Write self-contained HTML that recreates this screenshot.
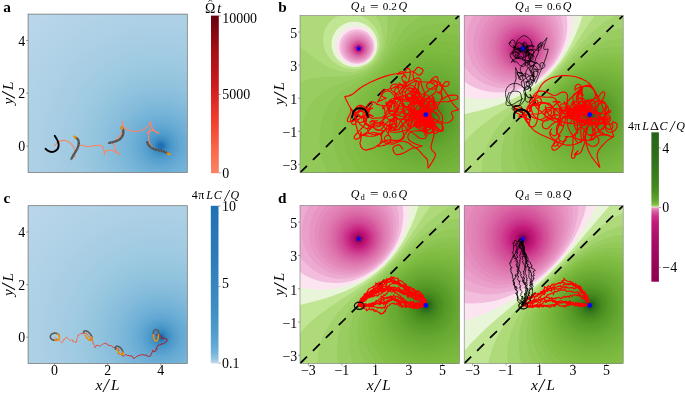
<!DOCTYPE html>
<html><head><meta charset="utf-8"><title>figure</title><style>html,body{margin:0;padding:0;background:#fff}svg{display:block}</style></head><body>
<svg width="685" height="393" viewBox="0 0 685 393">
<defs>
<radialGradient id="gb" gradientUnits="userSpaceOnUse" cx="0" cy="0" r="193.69"><stop offset="0.0000" stop-color="#2070b4"/><stop offset="0.0137" stop-color="#2070b4"/><stop offset="0.0153" stop-color="#2474b7"/><stop offset="0.0171" stop-color="#2777b8"/><stop offset="0.0191" stop-color="#2b7bba"/><stop offset="0.0213" stop-color="#2e7ebc"/><stop offset="0.0237" stop-color="#3181bd"/><stop offset="0.0265" stop-color="#3484bf"/><stop offset="0.0296" stop-color="#3787c0"/><stop offset="0.0330" stop-color="#3a8ac2"/><stop offset="0.0369" stop-color="#3d8dc4"/><stop offset="0.0412" stop-color="#4090c5"/><stop offset="0.0459" stop-color="#4493c7"/><stop offset="0.0513" stop-color="#4896c8"/><stop offset="0.0573" stop-color="#4b98ca"/><stop offset="0.0639" stop-color="#4f9bcb"/><stop offset="0.0713" stop-color="#539ecd"/><stop offset="0.0796" stop-color="#57a0ce"/><stop offset="0.0889" stop-color="#5ba3d0"/><stop offset="0.0992" stop-color="#60a7d2"/><stop offset="0.1108" stop-color="#64a9d3"/><stop offset="0.1237" stop-color="#68acd5"/><stop offset="0.1380" stop-color="#6caed6"/><stop offset="0.1541" stop-color="#71b1d7"/><stop offset="0.1720" stop-color="#75b4d8"/><stop offset="0.1920" stop-color="#7ab6d9"/><stop offset="0.2143" stop-color="#7fb9da"/><stop offset="0.2393" stop-color="#84bcdb"/><stop offset="0.2671" stop-color="#89bedc"/><stop offset="0.2982" stop-color="#8dc1dd"/><stop offset="0.3328" stop-color="#92c4de"/><stop offset="0.3715" stop-color="#97c6df"/><stop offset="0.4147" stop-color="#9cc9e1"/><stop offset="0.4630" stop-color="#a0cbe2"/><stop offset="0.5168" stop-color="#a4cce3"/><stop offset="0.5769" stop-color="#a8cee4"/><stop offset="0.6440" stop-color="#add0e6"/><stop offset="0.7189" stop-color="#b0d2e7"/><stop offset="0.8025" stop-color="#b4d3e9"/><stop offset="0.8958" stop-color="#b8d5ea"/><stop offset="1.0000" stop-color="#bcd7eb"/></radialGradient>
<linearGradient id="gr" x1="0" y1="0" x2="0" y2="1"><stop offset="0.0000" stop-color="#67000d"/><stop offset="0.0500" stop-color="#75030f"/><stop offset="0.1000" stop-color="#820711"/><stop offset="0.1500" stop-color="#920a13"/><stop offset="0.2000" stop-color="#9f0e14"/><stop offset="0.2500" stop-color="#ab1016"/><stop offset="0.3000" stop-color="#b31218"/><stop offset="0.3500" stop-color="#bc141a"/><stop offset="0.4000" stop-color="#c5171c"/><stop offset="0.4500" stop-color="#ce1a1e"/><stop offset="0.5000" stop-color="#d72322"/><stop offset="0.5500" stop-color="#de2b25"/><stop offset="0.6000" stop-color="#e83429"/><stop offset="0.6500" stop-color="#ef3c2c"/><stop offset="0.7000" stop-color="#f24633"/><stop offset="0.7500" stop-color="#f5523a"/><stop offset="0.8000" stop-color="#f75c41"/><stop offset="0.8500" stop-color="#fa6849"/><stop offset="0.9000" stop-color="#fb7151"/><stop offset="0.9500" stop-color="#fb7b5b"/><stop offset="1.0000" stop-color="#fc8464"/></linearGradient>
<linearGradient id="gbl" x1="0" y1="0" x2="0" y2="1"><stop offset="0.0000" stop-color="#2070b4"/><stop offset="0.0250" stop-color="#2171b5"/><stop offset="0.0500" stop-color="#2272b6"/><stop offset="0.0750" stop-color="#2373b6"/><stop offset="0.1000" stop-color="#2373b6"/><stop offset="0.1250" stop-color="#2474b7"/><stop offset="0.1500" stop-color="#2575b7"/><stop offset="0.1750" stop-color="#2676b8"/><stop offset="0.2000" stop-color="#2777b8"/><stop offset="0.2250" stop-color="#2979b9"/><stop offset="0.2500" stop-color="#2979b9"/><stop offset="0.2750" stop-color="#2a7ab9"/><stop offset="0.3000" stop-color="#2b7bba"/><stop offset="0.3250" stop-color="#2c7cba"/><stop offset="0.3500" stop-color="#2d7dbb"/><stop offset="0.3750" stop-color="#2e7ebc"/><stop offset="0.4000" stop-color="#3080bd"/><stop offset="0.4250" stop-color="#3181bd"/><stop offset="0.4500" stop-color="#3282be"/><stop offset="0.4750" stop-color="#3383be"/><stop offset="0.5000" stop-color="#3484bf"/><stop offset="0.5250" stop-color="#3686c0"/><stop offset="0.5500" stop-color="#3787c0"/><stop offset="0.5750" stop-color="#3989c1"/><stop offset="0.6000" stop-color="#3b8bc2"/><stop offset="0.6250" stop-color="#3c8cc3"/><stop offset="0.6500" stop-color="#3e8ec4"/><stop offset="0.6750" stop-color="#4090c5"/><stop offset="0.7000" stop-color="#4292c6"/><stop offset="0.7250" stop-color="#4695c8"/><stop offset="0.7500" stop-color="#4997c9"/><stop offset="0.7750" stop-color="#4d99ca"/><stop offset="0.8000" stop-color="#519ccc"/><stop offset="0.8250" stop-color="#56a0ce"/><stop offset="0.8500" stop-color="#5ba3d0"/><stop offset="0.8750" stop-color="#60a7d2"/><stop offset="0.9000" stop-color="#68acd5"/><stop offset="0.9250" stop-color="#72b2d8"/><stop offset="0.9500" stop-color="#82bbdb"/><stop offset="0.9750" stop-color="#9ac8e0"/><stop offset="1.0000" stop-color="#c6dbef"/></linearGradient>
<linearGradient id="gp" x1="0" y1="0" x2="0" y2="1"><stop offset="0.0000" stop-color="#276419"/><stop offset="0.0200" stop-color="#276419"/><stop offset="0.0400" stop-color="#286619"/><stop offset="0.0600" stop-color="#2a681a"/><stop offset="0.0800" stop-color="#2a681a"/><stop offset="0.1000" stop-color="#2b691a"/><stop offset="0.1200" stop-color="#2d6b1a"/><stop offset="0.1400" stop-color="#2e6d1b"/><stop offset="0.1600" stop-color="#306f1b"/><stop offset="0.1800" stop-color="#31711b"/><stop offset="0.2000" stop-color="#33721c"/><stop offset="0.2200" stop-color="#34741c"/><stop offset="0.2400" stop-color="#36761c"/><stop offset="0.2600" stop-color="#37781c"/><stop offset="0.2800" stop-color="#3a7b1d"/><stop offset="0.3000" stop-color="#3c7d1d"/><stop offset="0.3200" stop-color="#3f811e"/><stop offset="0.3400" stop-color="#42841f"/><stop offset="0.3600" stop-color="#45881f"/><stop offset="0.3800" stop-color="#488c20"/><stop offset="0.4000" stop-color="#4c9121"/><stop offset="0.4200" stop-color="#549825"/><stop offset="0.4400" stop-color="#5c9e2a"/><stop offset="0.4600" stop-color="#69aa33"/><stop offset="0.4800" stop-color="#7dba40"/><stop offset="0.4810" stop-color="#7fbc41"/><stop offset="0.4820" stop-color="#81bd44"/><stop offset="0.4830" stop-color="#83bf46"/><stop offset="0.4840" stop-color="#86c049"/><stop offset="0.4850" stop-color="#88c24c"/><stop offset="0.4860" stop-color="#8ac34f"/><stop offset="0.4870" stop-color="#8cc551"/><stop offset="0.4880" stop-color="#91c857"/><stop offset="0.4890" stop-color="#93c959"/><stop offset="0.4900" stop-color="#95cb5c"/><stop offset="0.4910" stop-color="#9acd61"/><stop offset="0.4920" stop-color="#9ed067"/><stop offset="0.4930" stop-color="#a3d36c"/><stop offset="0.4940" stop-color="#a9d874"/><stop offset="0.4950" stop-color="#aeda7a"/><stop offset="0.4960" stop-color="#b7e085"/><stop offset="0.4970" stop-color="#c0e593"/><stop offset="0.4980" stop-color="#cbe9a4"/><stop offset="0.4990" stop-color="#e9f5d8"/><stop offset="0.5000" stop-color="#f7f7f6"/><stop offset="0.5010" stop-color="#fce5f1"/><stop offset="0.5020" stop-color="#f6c7e3"/><stop offset="0.5030" stop-color="#f3bdde"/><stop offset="0.5040" stop-color="#f1b5d9"/><stop offset="0.5050" stop-color="#eeabd2"/><stop offset="0.5060" stop-color="#eca6cf"/><stop offset="0.5070" stop-color="#ea9fca"/><stop offset="0.5080" stop-color="#e89ac6"/><stop offset="0.5090" stop-color="#e795c3"/><stop offset="0.5100" stop-color="#e590bf"/><stop offset="0.5110" stop-color="#e58dbe"/><stop offset="0.5120" stop-color="#e48bbc"/><stop offset="0.5130" stop-color="#e286b8"/><stop offset="0.5140" stop-color="#e283b7"/><stop offset="0.5150" stop-color="#e181b5"/><stop offset="0.5160" stop-color="#e07eb3"/><stop offset="0.5170" stop-color="#df7cb1"/><stop offset="0.5180" stop-color="#df79b0"/><stop offset="0.5190" stop-color="#de77ae"/><stop offset="0.5200" stop-color="#dd73ac"/><stop offset="0.5400" stop-color="#d34f99"/><stop offset="0.5600" stop-color="#cc368b"/><stop offset="0.5800" stop-color="#c82884"/><stop offset="0.6000" stop-color="#c41a7c"/><stop offset="0.6200" stop-color="#bd1777"/><stop offset="0.6400" stop-color="#b91574"/><stop offset="0.6600" stop-color="#b51370"/><stop offset="0.6800" stop-color="#b1116d"/><stop offset="0.7000" stop-color="#ac0f6a"/><stop offset="0.7200" stop-color="#aa0e68"/><stop offset="0.7400" stop-color="#a60c65"/><stop offset="0.7600" stop-color="#a40b63"/><stop offset="0.7800" stop-color="#a10a61"/><stop offset="0.8000" stop-color="#9f095f"/><stop offset="0.8200" stop-color="#9d085e"/><stop offset="0.8400" stop-color="#9b075c"/><stop offset="0.8600" stop-color="#99065a"/><stop offset="0.8800" stop-color="#970559"/><stop offset="0.9000" stop-color="#940457"/><stop offset="0.9200" stop-color="#920355"/><stop offset="0.9400" stop-color="#920355"/><stop offset="0.9600" stop-color="#900254"/><stop offset="0.9800" stop-color="#8e0152"/><stop offset="1.0000" stop-color="#8e0152"/></linearGradient>
<clipPath id="ca"><rect x="28.1" y="14.1" width="159.2" height="158.3"/></clipPath>
<clipPath id="cc"><rect x="28.1" y="205.7" width="159.2" height="157.8"/></clipPath>
<clipPath id="cb1"><rect x="300.0" y="15.4" width="159.3" height="157.3"/></clipPath>
<clipPath id="cb2"><rect x="464.2" y="15.4" width="159.0" height="157.3"/></clipPath>
<clipPath id="cd1"><rect x="300.0" y="205.6" width="159.3" height="158.0"/></clipPath>
<clipPath id="cd2"><rect x="464.2" y="205.6" width="159.0" height="158.0"/></clipPath>
</defs>
<rect width="685" height="393" fill="#fff"/>
<g clip-path="url(#ca)"><rect x="-132.7" y="-131.9" width="159.2" height="158.3" fill="url(#gb)" transform="translate(160.77,146.02)"/></g>
<g clip-path="url(#cc)"><rect x="-132.7" y="-131.5" width="159.2" height="157.8" fill="url(#gb)" transform="translate(160.77,337.20)"/></g>
<g clip-path="url(#cb1)" shape-rendering="geometricPrecision">
<rect x="300.0" y="15.4" width="159.3" height="157.3" fill="#e9f5d8"/>
<path fill="#c0e593" d="M300.0,15.4 459.3,15.4 459.3,172.7 300.0,172.7ZM349.1,22.2 345.1,23.5 341.1,25.7 337.9,28.4 336.1,30.4 334.8,32.4 332.8,36.4 332.2,38.4 331.6,41.4 331.5,43.5 331.6,46.5 332.4,50.5 334.1,54.5 335.2,56.5 336.7,58.5 339.7,61.5 343.1,63.9 347.1,65.7 349.1,66.3 352.1,66.9 354.1,67.0 357.1,66.9 361.1,66.1 365.1,64.6 367.1,63.4 369.1,62.0 372.1,59.0 374.6,55.5 376.4,51.5 377.2,47.5 377.4,43.5 377.0,40.4 376.6,38.4 375.0,34.4 373.8,32.4 372.4,30.4 369.1,27.1 366.1,24.9 362.1,23.0 358.1,22.0 356.1,21.7 353.1,21.7Z"/>
<path fill="#aeda7a" d="M300.0,15.4 339.0,15.4 335.1,17.4 333.1,18.8 331.1,20.5 329.3,22.4 327.7,24.4 325.4,28.4 324.6,30.4 323.7,33.4 323.1,37.4 323.2,42.5 323.9,46.5 325.6,51.5 327.8,55.5 331.0,59.5 334.2,62.5 338.7,65.5 343.1,67.5 348.1,68.8 353.1,69.2 358.1,68.7 361.1,68.0 363.1,67.2 367.1,65.2 370.8,62.5 373.7,59.5 376.4,55.5 377.4,53.5 378.5,50.5 379.4,46.5 379.6,41.4 378.9,36.4 377.2,31.4 375.1,27.5 372.1,23.5 369.1,20.6 365.1,17.7 360.5,15.4 459.3,15.4 459.3,172.7 300.0,172.7Z"/>
<path fill="#a3d36c" d="M375.7,15.4 459.3,15.4 459.3,172.7 300.0,172.7 300.0,47.2 304.0,50.1 314.7,58.5 320.5,62.5 327.4,66.5 331.1,68.2 334.5,69.5 338.1,70.6 342.1,71.4 346.1,71.9 349.1,72.1 353.1,71.9 356.1,71.4 359.1,70.7 363.1,69.3 366.1,67.9 369.8,65.5 372.2,63.5 375.1,60.5 377.3,57.5 379.0,54.5 380.3,51.5 381.6,47.5 382.3,43.5 382.5,39.4 382.4,35.4 381.8,31.4 380.8,27.4 379.5,23.4 377.8,19.4Z"/>
<path fill="#9acd61" d="M387.5,15.4 459.3,15.4 459.3,172.7 300.0,172.7 300.0,82.9 304.0,80.9 307.9,79.5 312.0,78.4 316.0,77.7 323.0,77.1 343.1,76.5 348.1,76.0 353.1,75.1 358.1,73.7 363.1,71.8 367.1,69.7 371.1,66.9 375.1,63.3 377.1,61.0 379.1,58.5 382.0,53.5 384.4,47.5 385.9,41.4 386.8,35.4 387.3,28.4Z"/>
<path fill="#93c959" d="M400.6,16.4 401.2,15.4 459.3,15.4 459.3,172.7 304.5,172.7 302.1,163.7 300.5,154.7 300.0,148.7 300.1,136.6 301.2,128.6 303.1,120.6 305.7,113.6 307.6,109.6 309.4,106.6 312.9,101.6 316.4,97.6 320.9,93.5 325.1,90.5 330.1,87.8 335.0,85.5 354.1,78.7 362.1,75.2 366.1,73.0 369.1,71.1 373.1,68.0 375.9,65.5 378.7,62.5 381.8,58.5 383.7,55.5 386.0,51.5 389.5,43.5 394.2,30.2 396.2,25.1 398.2,20.7Z"/>
<path fill="#8cc551" d="M420.3,16.4 422.4,15.4 459.3,15.4 459.3,172.7 326.9,172.7 323.8,164.7 322.6,160.7 321.3,155.7 320.5,151.7 319.8,146.7 319.5,141.6 319.4,137.6 319.7,132.6 320.1,128.6 320.8,124.6 321.8,120.6 324.2,113.6 325.6,110.6 327.7,106.6 330.4,102.6 332.8,99.6 336.7,95.6 340.2,92.5 347.2,87.5 362.1,78.8 367.1,75.6 372.1,71.9 377.1,67.5 381.8,62.5 385.7,57.5 389.6,51.5 398.2,37.2 401.2,32.9 404.2,29.1 407.2,25.9 411.2,22.3 415.2,19.4Z"/>
<path fill="#88c24c" d="M441.4,23.4 446.3,23.3 450.3,23.4 454.3,23.8 459.3,24.6 459.3,172.7 343.9,172.7 341.7,168.7 339.4,163.7 337.8,159.7 336.1,154.7 334.8,149.7 333.9,144.6 333.4,140.6 333.1,135.6 333.2,130.6 333.6,126.6 334.4,121.6 335.4,117.6 336.7,113.6 338.4,109.6 340.4,105.6 342.3,102.6 344.4,99.6 346.9,96.6 351.8,91.5 357.7,86.5 372.1,75.3 379.6,68.5 383.5,64.5 386.9,60.5 396.2,48.8 400.2,44.0 404.2,39.7 409.2,35.3 412.2,33.1 416.2,30.6 420.2,28.6 424.2,26.9 428.2,25.6 432.2,24.6 437.3,23.8Z"/>
<path fill="#83bf46" d="M438.8,33.4 444.3,33.4 449.3,33.8 454.3,34.5 459.3,35.6 459.3,172.7 357.8,172.7 355.0,168.7 352.6,164.7 350.5,160.7 348.2,155.7 346.8,151.7 345.3,146.7 344.3,141.6 343.6,136.6 343.3,131.6 343.4,127.6 343.8,123.6 344.6,118.6 345.6,114.6 346.9,110.6 348.7,106.6 350.8,102.6 352.6,99.6 355.6,95.6 360.9,89.5 365.0,85.5 380.2,71.6 385.2,66.5 398.2,52.7 402.2,48.9 406.2,45.5 409.2,43.3 413.2,40.8 417.2,38.7 421.2,37.0 425.2,35.7 429.2,34.7 434.3,33.8Z"/>
<path fill="#7fbc41" d="M433.3,41.4 439.3,41.2 446.3,41.6 453.3,42.8 459.3,44.5 459.3,172.7 369.7,172.7 366.2,168.7 363.2,164.7 360.6,160.7 358.4,156.7 356.5,152.7 354.6,147.7 353.4,143.6 352.2,138.6 351.5,133.6 351.3,129.6 351.3,124.6 351.7,120.6 352.6,115.6 353.7,111.6 355.1,107.6 356.9,103.6 359.0,99.6 361.6,95.6 364.7,91.5 369.1,86.5 373.9,81.5 392.2,63.5 397.2,58.8 401.2,55.3 404.2,53.0 408.2,50.2 412.2,47.8 416.2,45.9 420.2,44.3 424.2,43.1 429.2,42.0Z"/>
<path fill="#7dba40" d="M426.0,48.5 430.2,47.8 434.3,47.5 438.3,47.5 442.3,47.7 446.3,48.3 451.3,49.3 455.3,50.5 459.3,52.0 459.3,172.7 380.5,172.7 377.1,169.6 373.4,165.7 370.9,162.7 368.0,158.7 365.5,154.7 363.4,150.7 361.7,146.7 360.3,142.6 359.0,137.6 358.2,133.6 357.7,128.6 357.6,124.6 357.8,120.6 358.5,115.6 359.4,111.6 360.7,107.6 362.7,102.6 364.8,98.6 367.3,94.6 371.0,89.5 375.2,84.5 379.9,79.5 387.2,72.2 393.2,66.6 401.2,59.9 405.2,57.1 409.2,54.7 413.2,52.6 417.2,50.9 421.2,49.6Z"/>
<path fill="#79b73d" d="M425.3,53.5 429.2,52.9 433.3,52.7 438.3,52.8 442.3,53.2 447.3,54.1 451.3,55.2 455.3,56.6 459.3,58.3 459.3,172.7 391.0,172.7 387.2,170.0 383.2,166.8 380.2,164.0 377.1,160.7 373.9,156.7 371.3,152.7 369.0,148.7 367.2,144.6 365.7,140.6 364.3,135.6 363.5,131.6 363.0,126.6 362.9,121.6 363.2,117.6 363.8,113.6 364.8,109.6 366.4,104.6 368.2,100.6 370.3,96.6 373.5,91.5 376.6,87.5 380.8,82.5 385.6,77.5 390.2,73.0 395.2,68.6 399.2,65.4 403.2,62.6 407.2,60.1 411.2,58.0 416.2,55.9 421.2,54.3Z"/>
<path fill="#77b53c" d="M426.4,57.5 431.2,57.1 435.3,57.1 439.3,57.4 443.3,58.1 447.3,59.0 451.3,60.3 455.3,61.9 459.3,63.9 459.3,168.8 455.3,171.0 451.6,172.7 402.2,172.7 400.2,171.8 394.2,168.5 389.2,165.0 384.2,160.6 379.6,155.7 376.0,150.7 372.6,144.6 370.1,138.6 368.5,132.6 367.6,126.6 367.4,120.6 367.7,115.6 368.9,109.6 370.8,103.6 373.0,98.6 375.9,93.5 379.4,88.5 384.4,82.5 390.2,76.6 396.2,71.3 402.2,66.8 408.2,63.3 414.2,60.6 420.2,58.6Z"/>
<path fill="#75b43b" d="M423.6,61.5 428.2,60.9 433.3,60.8 437.3,61.1 442.3,61.9 447.3,63.3 451.3,64.7 455.3,66.6 459.3,68.9 459.3,163.3 453.3,166.8 447.3,169.4 441.3,171.3 434.1,172.7 419.3,172.7 412.2,171.3 406.2,169.4 401.2,167.2 396.2,164.5 392.2,161.7 388.2,158.3 384.2,154.3 380.5,149.7 378.0,145.6 375.4,140.6 373.5,135.6 372.2,130.6 371.4,125.6 371.2,120.6 371.4,115.6 372.2,110.6 373.5,105.6 375.5,100.6 378.0,95.6 380.5,91.5 384.2,86.5 388.6,81.5 393.2,77.1 398.2,73.0 403.2,69.5 408.2,66.6 413.2,64.3 418.2,62.7Z"/>
<path fill="#73b239" d="M424.6,64.5 429.2,64.1 434.3,64.2 439.3,64.9 443.3,65.8 447.3,67.0 451.3,68.7 455.3,70.8 459.3,73.3 459.3,158.4 455.9,160.7 452.3,162.8 448.3,164.7 444.3,166.3 440.3,167.5 436.3,168.4 432.2,168.9 428.2,169.2 423.2,169.1 418.2,168.6 413.2,167.5 408.2,166.0 403.2,163.9 399.2,161.8 395.2,159.1 391.2,155.9 387.8,152.7 384.4,148.7 381.7,144.6 379.4,140.6 377.7,136.6 376.1,131.6 375.0,126.6 374.5,121.6 374.6,116.6 375.2,111.6 376.3,106.6 377.7,102.6 379.9,97.6 382.2,93.5 384.9,89.5 388.2,85.5 391.9,81.5 396.2,77.6 400.2,74.5 405.2,71.2 409.2,69.1 414.2,67.0 419.2,65.5Z"/>
<path fill="#6faf37" d="M423.1,67.5 427.2,67.1 432.2,67.1 437.3,67.6 442.3,68.7 446.3,70.0 451.3,72.2 455.3,74.6 459.3,77.5 459.3,153.9 456.3,156.2 452.3,158.8 449.3,160.4 445.3,162.2 442.3,163.3 438.3,164.4 434.3,165.2 430.2,165.6 425.2,165.7 420.2,165.4 415.2,164.5 411.2,163.4 406.2,161.5 402.2,159.6 398.2,157.1 394.2,154.1 391.2,151.3 387.8,147.7 384.9,143.6 382.5,139.6 380.7,135.6 379.0,130.6 377.9,125.6 377.5,121.6 377.5,116.6 377.8,112.6 378.8,107.6 380.1,103.6 381.7,99.6 383.8,95.6 386.3,91.5 389.3,87.5 392.9,83.5 397.2,79.6 401.2,76.5 405.2,73.9 409.2,71.8 414.2,69.7 419.2,68.2Z"/>
<path fill="#6bac34" d="M425.9,71.5 430.2,71.4 435.3,71.9 440.3,73.0 444.3,74.3 448.3,76.1 452.3,78.4 456.3,81.4 459.3,84.1 459.3,146.8 456.2,149.7 452.3,152.6 448.3,155.1 444.3,157.0 440.3,158.5 436.3,159.5 432.2,160.2 427.2,160.6 422.2,160.4 418.2,159.9 414.2,159.0 410.2,157.7 406.2,155.9 402.2,153.7 399.2,151.6 395.6,148.7 392.2,145.1 389.5,141.6 387.5,138.6 385.5,134.6 383.9,130.6 382.8,126.6 382.2,122.6 381.9,118.6 382.0,114.6 382.7,109.6 383.7,105.6 385.1,101.6 387.0,97.6 389.4,93.5 392.2,89.7 395.0,86.5 398.2,83.4 401.8,80.5 405.2,78.2 409.2,76.0 413.2,74.3 417.2,73.0 421.2,72.1Z"/>
<path fill="#69aa33" d="M425.8,75.5 430.2,75.5 435.3,76.1 439.3,77.1 444.3,79.0 448.3,81.1 452.3,83.9 456.3,87.5 459.3,91.0 459.3,139.5 456.3,143.1 452.4,146.7 448.3,149.6 444.3,151.8 440.3,153.5 435.3,155.0 430.2,155.7 426.2,155.9 422.2,155.8 418.2,155.2 414.2,154.2 411.2,153.1 407.2,151.3 404.2,149.6 401.2,147.5 397.9,144.6 395.2,141.7 392.8,138.6 390.9,135.6 389.0,131.6 387.8,128.6 386.8,124.6 386.2,120.6 386.0,116.6 386.2,112.6 386.9,108.6 387.7,105.6 389.1,101.6 390.5,98.6 392.9,94.6 395.2,91.5 397.8,88.5 401.1,85.5 404.2,83.1 407.2,81.2 411.2,79.1 414.2,77.9 418.2,76.6 422.2,75.9Z"/>
<path fill="#66a731" d="M422.2,79.5 425.2,79.2 428.2,79.2 433.3,79.7 436.3,80.3 439.3,81.2 444.3,83.4 449.1,86.5 453.3,90.3 456.8,94.6 459.3,98.8 459.3,131.5 458.7,132.6 456.3,136.4 453.7,139.6 450.6,142.6 447.3,145.2 443.3,147.6 439.3,149.4 434.3,150.9 430.2,151.5 426.2,151.8 423.2,151.6 419.2,151.1 416.2,150.4 412.2,149.1 409.2,147.7 406.2,146.0 403.2,143.8 400.2,141.2 397.9,138.6 395.6,135.6 393.8,132.6 392.4,129.6 391.3,126.6 390.5,123.6 389.9,119.6 389.7,116.6 389.9,112.6 390.6,108.6 391.4,105.6 392.5,102.6 393.9,99.6 395.7,96.6 397.9,93.5 400.5,90.5 403.2,88.1 406.2,85.8 409.2,83.9 412.2,82.4 415.2,81.2 419.2,80.1Z"/>
<path fill="#62a32e" d="M419.0,83.5 422.2,82.9 425.2,82.6 428.2,82.6 431.2,82.9 434.3,83.4 437.3,84.3 440.3,85.5 443.3,87.0 446.3,89.0 448.3,90.6 450.3,92.5 452.9,95.6 454.9,98.6 456.5,101.6 457.7,104.6 458.6,107.6 459.3,112.3 459.3,117.8 458.9,120.6 458.3,123.6 457.3,126.6 456.0,129.6 454.3,132.6 452.3,135.4 450.3,137.7 448.2,139.6 445.3,142.0 442.3,143.8 439.3,145.3 436.3,146.4 433.3,147.2 429.2,147.8 426.2,148.0 423.2,147.9 420.2,147.5 417.2,146.8 414.2,145.8 411.2,144.5 408.2,142.8 405.2,140.7 403.2,138.9 401.0,136.6 399.2,134.3 397.4,131.6 395.9,128.6 394.7,125.6 393.9,122.6 393.4,119.6 393.2,116.6 393.3,113.6 393.6,110.6 394.3,107.6 395.2,104.6 396.5,101.6 398.2,98.6 400.2,95.7 402.2,93.4 404.2,91.4 407.2,89.0 410.2,87.0 413.2,85.5 416.2,84.3Z"/>
<path fill="#5ea02c" d="M419.5,86.5 422.2,86.0 425.2,85.7 428.2,85.7 431.2,86.1 434.3,86.7 437.3,87.7 440.3,89.1 442.3,90.2 445.3,92.4 447.3,94.2 449.3,96.4 450.9,98.6 452.7,101.6 453.7,103.6 455.3,108.6 456.0,113.6 455.9,116.6 455.6,119.6 455.0,122.6 454.0,125.6 452.6,128.6 451.4,130.6 449.3,133.6 447.5,135.6 445.3,137.6 443.3,139.2 441.3,140.4 438.3,142.0 435.3,143.1 432.2,143.9 427.2,144.6 424.2,144.5 421.2,144.2 418.2,143.6 415.2,142.6 412.2,141.3 410.2,140.1 408.0,138.6 405.6,136.6 403.7,134.6 402.0,132.6 400.7,130.6 399.0,127.6 397.8,124.6 397.0,121.6 396.4,116.6 396.4,113.6 396.8,110.6 397.4,107.6 398.5,104.6 399.9,101.6 401.1,99.6 403.2,96.7 405.2,94.6 409.2,91.2 411.2,89.9 414.2,88.3 417.2,87.2Z"/>
<path fill="#5a9d29" d="M419.0,89.5 421.2,89.0 424.2,88.6 429.2,88.7 431.2,89.0 434.3,89.8 437.3,90.9 439.3,91.9 443.3,94.6 445.4,96.6 447.2,98.6 449.8,102.6 450.8,104.6 451.8,107.6 452.8,112.6 452.8,117.6 451.7,122.6 450.6,125.6 449.6,127.6 446.9,131.6 445.1,133.6 442.8,135.6 440.3,137.5 438.3,138.6 436.3,139.5 433.3,140.5 428.2,141.4 423.2,141.4 418.2,140.4 415.2,139.3 413.2,138.4 409.1,135.6 406.8,133.6 405.0,131.6 402.4,127.6 401.4,125.6 400.3,122.6 399.8,120.6 399.3,117.6 399.4,112.6 399.6,110.6 400.4,107.6 401.5,104.6 402.5,102.6 405.2,98.6 407.2,96.4 409.3,94.6 411.2,93.1 414.2,91.4 417.2,90.1Z"/>
<path fill="#589b28" d="M421.7,91.5 426.2,91.1 428.2,91.2 431.2,91.7 435.3,92.9 439.3,95.0 441.3,96.5 443.3,98.3 446.0,101.6 448.2,105.6 448.9,107.6 449.7,110.6 450.0,112.6 450.1,115.6 449.6,119.6 448.8,122.6 448.0,124.6 445.7,128.6 443.2,131.6 441.3,133.3 439.3,134.8 435.3,136.9 432.2,137.9 430.2,138.4 426.2,138.8 424.2,138.7 421.2,138.3 419.2,137.9 416.2,136.8 412.2,134.6 408.7,131.6 406.9,129.6 405.5,127.6 403.5,123.6 402.3,119.6 401.9,115.6 401.9,113.6 402.3,110.6 402.8,108.6 403.9,105.6 406.1,101.6 409.2,98.0 411.2,96.2 413.2,94.8 417.2,92.8Z"/>
<path fill="#549825" d="M424.7,93.5 429.2,93.7 433.3,94.7 437.3,96.6 440.3,98.8 443.3,102.0 445.5,105.6 446.9,109.6 447.6,113.6 447.4,117.6 446.5,121.6 444.7,125.6 442.3,128.9 439.3,131.7 437.3,133.1 435.3,134.2 431.2,135.6 427.2,136.3 424.2,136.3 422.2,136.0 418.2,134.9 414.2,133.0 411.2,130.7 408.4,127.6 406.6,124.6 405.0,120.6 404.3,116.6 404.3,113.6 404.5,111.6 405.6,107.6 407.6,103.6 409.9,100.6 413.2,97.6 416.2,95.8 420.2,94.3 422.2,93.8Z"/>
<path fill="#509423" d="M420.0,96.6 423.2,95.8 427.2,95.7 431.2,96.4 434.3,97.5 437.3,99.2 440.3,101.9 441.7,103.6 442.9,105.6 444.3,108.6 444.9,110.6 445.2,112.6 445.3,116.6 444.7,119.6 444.1,121.6 443.2,123.6 441.3,126.6 438.3,129.6 435.3,131.7 432.2,133.0 428.2,133.9 424.2,134.0 420.2,133.3 417.2,132.1 414.2,130.3 411.2,127.5 409.1,124.6 408.0,122.6 407.3,120.6 406.5,116.6 406.5,112.6 407.5,108.6 408.9,105.6 411.0,102.6 413.2,100.3 416.2,98.2Z"/>
<path fill="#4c9121" d="M420.1,98.6 423.2,97.8 427.2,97.6 430.2,98.1 433.3,99.2 436.3,101.0 439.1,103.6 441.2,106.6 442.5,109.6 443.2,112.6 443.2,116.6 442.6,119.6 441.4,122.6 439.5,125.6 437.3,127.9 434.3,129.9 431.2,131.2 428.2,131.9 424.2,132.0 421.2,131.5 418.2,130.4 415.2,128.5 413.1,126.6 410.8,123.6 409.4,120.6 408.6,117.6 408.4,113.6 408.9,110.6 410.0,107.6 411.8,104.6 414.2,102.0 417.2,99.8Z"/>
<path fill="#4b8f21" d="M423.2,99.6 426.2,99.3 429.2,99.7 432.2,100.7 435.3,102.4 437.3,104.2 439.1,106.6 440.6,109.6 441.3,112.6 441.5,115.6 441.0,118.6 439.9,121.6 438.7,123.6 437.0,125.6 434.3,127.9 431.2,129.3 428.2,130.1 425.2,130.3 422.2,129.9 419.2,128.9 417.0,127.6 414.6,125.6 412.9,123.6 411.3,120.6 410.4,117.6 410.2,114.6 410.5,111.6 411.5,108.6 413.2,105.6 415.1,103.6 417.2,101.9 420.2,100.4Z"/>
<path fill="#488c20" d="M421.6,101.6 424.2,101.0 427.2,101.0 429.2,101.3 432.2,102.4 434.3,103.7 436.3,105.6 437.8,107.6 439.2,110.6 439.7,112.6 439.9,115.6 439.6,117.6 438.6,120.6 437.3,122.8 435.3,125.1 433.3,126.6 430.2,128.0 427.2,128.6 424.2,128.6 421.2,127.9 419.2,127.1 417.2,125.8 415.2,123.9 413.5,121.6 412.6,119.6 411.9,116.6 411.8,113.6 412.4,110.6 413.2,108.6 414.5,106.6 416.3,104.6 418.2,103.1 420.2,102.0Z"/>
<path fill="#45881f" d="M423.4,102.6 426.2,102.3 428.2,102.6 430.2,103.1 433.3,104.7 435.3,106.6 436.7,108.6 437.7,110.6 438.2,112.6 438.4,114.6 438.1,117.6 437.4,119.6 436.3,121.6 434.7,123.6 433.3,124.8 431.2,126.0 428.2,127.0 425.2,127.2 423.2,127.0 421.2,126.4 419.2,125.4 416.9,123.6 415.3,121.6 414.2,119.6 413.5,117.6 413.2,114.6 413.4,112.6 414.3,109.6 415.5,107.6 417.2,105.7 419.2,104.2 421.2,103.2Z"/>
<path fill="#42841f" d="M421.2,104.6 423.2,103.9 425.2,103.6 428.2,103.9 430.2,104.5 432.2,105.6 433.4,106.6 435.2,108.6 436.2,110.6 436.9,112.6 437.1,114.6 436.9,116.6 436.4,118.6 435.4,120.6 433.8,122.6 432.2,123.9 430.2,125.0 428.2,125.7 426.2,125.9 424.2,125.8 422.2,125.4 420.2,124.5 418.2,123.1 416.9,121.6 415.6,119.6 414.8,117.6 414.5,115.6 414.7,112.6 415.3,110.6 416.4,108.6 418.1,106.6 419.4,105.6Z"/>
<path fill="#3f811e" d="M421.8,105.6 423.2,105.1 425.2,104.8 427.2,104.9 429.2,105.4 431.2,106.3 432.8,107.6 433.7,108.6 435.0,110.6 435.7,112.6 435.9,114.6 435.7,116.6 435.1,118.6 434.3,120.2 433.1,121.6 431.2,123.2 429.2,124.2 426.2,124.8 424.2,124.6 422.2,124.1 420.2,123.1 418.4,121.6 417.6,120.6 416.4,118.6 415.8,116.6 415.6,114.6 415.9,112.6 416.6,110.6 417.8,108.6 418.8,107.6 420.2,106.4Z"/>
<path fill="#3d7f1e" d="M422.1,106.6 423.2,106.2 425.2,105.8 427.2,105.9 429.2,106.5 431.2,107.6 432.3,108.6 433.3,109.7 434.2,111.6 434.8,113.6 434.8,115.6 434.7,116.6 434.0,118.6 432.2,121.0 431.2,121.9 429.2,123.0 427.2,123.6 425.2,123.7 423.2,123.4 422.2,123.0 420.2,121.8 419.2,120.9 417.6,118.6 416.7,115.6 416.8,113.6 417.3,111.6 418.2,109.8 419.2,108.6 420.4,107.6Z"/>
<path fill="#3a7b1d" d="M422.2,107.6 423.2,107.1 425.2,106.7 427.2,106.9 428.2,107.1 430.2,108.1 431.2,108.8 432.7,110.6 433.2,111.6 433.6,112.6 433.9,114.6 433.7,116.6 433.4,117.6 432.2,119.6 431.3,120.6 429.2,122.0 428.2,122.4 426.2,122.8 425.2,122.8 423.2,122.4 421.2,121.4 420.2,120.6 418.6,118.6 417.9,116.6 417.7,115.6 417.7,113.6 417.9,112.6 418.8,110.6 419.6,109.6 420.6,108.6Z"/>
<path fill="#37781c" d="M422.1,108.6 423.2,108.0 425.2,107.6 427.2,107.7 428.2,108.0 429.5,108.6 430.8,109.6 432.3,111.6 433.0,113.6 433.0,115.6 432.8,116.6 431.9,118.6 431.2,119.5 429.2,121.1 428.2,121.5 426.2,121.9 424.2,121.8 423.2,121.5 421.6,120.6 420.4,119.6 419.6,118.6 418.7,116.6 418.5,115.6 418.6,113.6 418.8,112.6 419.8,110.6 420.7,109.6Z"/>
<path fill="#34741c" d="M424.0,108.6 426.2,108.3 428.2,108.8 430.2,110.1 431.4,111.6 431.9,112.6 432.2,113.6 432.2,115.6 431.6,117.6 431.0,118.6 430.0,119.6 429.2,120.2 427.2,121.0 425.2,121.2 424.2,121.0 422.2,120.2 420.5,118.6 419.5,116.6 419.3,115.6 419.4,113.6 420.1,111.6 420.8,110.6 421.9,109.6 423.2,108.8Z"/>
<path fill="#31711b" d="M423.2,109.6 425.2,109.0 427.2,109.2 428.2,109.6 429.8,110.6 430.6,111.6 431.2,112.6 431.6,114.6 431.3,116.6 430.8,117.6 430.1,118.6 428.2,120.0 426.2,120.5 424.2,120.3 422.2,119.3 420.7,117.6 420.0,115.6 419.9,114.6 420.4,112.6 420.9,111.6 421.8,110.6Z"/>
<path fill="#306f1b" d="M422.7,110.6 424.2,109.8 425.2,109.6 427.2,109.8 428.2,110.2 429.2,110.9 430.2,112.1 430.9,113.6 431.0,114.6 430.7,116.6 430.1,117.6 429.2,118.6 428.2,119.3 426.2,119.9 424.2,119.7 423.2,119.3 422.3,118.6 421.4,117.6 420.6,115.6 420.7,113.6 421.6,111.6Z"/>
<path fill="#2d6b1a" d="M423.8,110.6 425.2,110.1 427.2,110.4 428.2,110.8 429.1,111.6 429.9,112.6 430.4,114.6 430.1,116.6 429.2,117.8 428.2,118.6 427.2,119.2 425.2,119.4 424.2,119.1 423.2,118.6 422.2,117.7 421.5,116.6 421.1,114.6 421.6,112.6 422.4,111.6Z"/>
<path fill="#2a681a" d="M423.1,111.6 424.2,110.9 426.2,110.6 427.2,110.9 428.2,111.4 429.2,112.5 429.8,113.6 430.0,114.6 429.9,115.6 429.5,116.6 428.2,118.1 426.2,118.9 425.2,118.9 424.2,118.6 422.7,117.6 422.0,116.6 421.6,115.6 421.5,114.6 421.7,113.6 422.2,112.6Z"/>
<path fill="#276419" d="M423.9,111.6 425.2,111.0 426.2,111.0 427.2,111.3 428.2,112.0 428.8,112.6 429.3,113.6 429.5,114.6 429.4,115.6 429.0,116.6 428.2,117.5 427.2,118.2 426.2,118.4 425.2,118.4 424.2,118.2 423.2,117.5 422.5,116.6 422.1,115.6 422.0,114.6 422.2,113.6 422.7,112.6Z"/>
<path fill="#276419" d="M424.9,111.6 426.2,111.5 427.2,111.8 428.2,112.5 428.9,113.6 429.0,115.6 428.6,116.6 427.2,117.7 426.2,118.1 425.2,118.1 424.2,117.7 423.0,116.6 422.5,115.6 422.6,113.6 423.3,112.6 424.2,111.8Z"/>
<path fill="#fce5f1" d="M353.2,26.4 357.1,26.3 360.1,26.7 364.1,28.0 367.1,29.7 370.1,32.2 372.7,35.4 374.2,38.4 375.4,42.5 375.7,46.5 375.1,50.5 374.5,52.5 373.6,54.5 371.7,57.5 369.1,60.3 366.1,62.5 363.1,63.9 359.1,65.0 355.1,65.3 351.1,64.7 347.1,63.2 344.2,61.5 340.9,58.5 338.7,55.5 337.3,52.5 336.3,48.5 336.2,44.5 336.6,41.4 338.0,37.4 340.1,34.1 341.5,32.4 343.1,30.9 346.1,28.8 348.1,27.8 350.1,27.1Z"/>
<path fill="#f3bdde" d="M354.7,29.4 358.1,29.3 361.1,29.8 364.1,30.9 367.1,32.6 369.2,34.4 371.6,37.4 373.1,40.4 373.7,42.5 374.1,44.5 374.1,48.5 373.5,51.5 372.2,54.5 370.2,57.5 368.1,59.6 365.1,61.7 362.1,63.0 358.1,63.8 355.1,63.8 351.1,62.9 348.1,61.6 345.1,59.5 343.1,57.5 341.1,54.5 339.9,51.5 339.3,48.5 339.4,44.5 340.0,41.4 341.3,38.4 343.1,35.8 345.4,33.4 348.1,31.6 351.1,30.2Z"/>
<path fill="#eeabd2" d="M352.1,32.4 355.1,31.7 358.1,31.6 361.1,32.0 364.1,33.1 367.1,34.9 369.1,36.8 371.0,39.4 372.3,42.5 372.9,45.5 372.9,48.5 372.3,51.5 371.0,54.5 369.1,57.2 367.1,59.1 364.1,61.0 362.1,61.8 359.1,62.5 356.1,62.6 353.1,62.1 350.1,61.0 347.7,59.5 345.5,57.5 343.9,55.5 342.4,52.5 341.7,49.5 341.5,46.5 341.9,43.5 343.0,40.4 344.9,37.4 346.9,35.4 349.1,33.8Z"/>
<path fill="#ea9fca" d="M355.5,33.4 358.1,33.3 361.1,33.7 364.1,34.8 366.1,36.0 368.1,37.8 370.1,40.4 371.0,42.5 371.8,45.5 371.9,48.5 371.6,50.5 370.5,53.5 369.3,55.5 367.6,57.5 365.1,59.4 362.1,60.8 360.1,61.3 357.1,61.6 354.1,61.2 351.1,60.1 349.1,58.9 346.5,56.5 345.1,54.5 344.2,52.5 343.4,49.5 343.3,46.5 343.6,44.5 344.6,41.4 346.1,39.0 348.1,36.9 350.1,35.4 353.1,34.0Z"/>
<path fill="#e795c3" d="M353.4,35.4 356.1,34.8 358.1,34.6 361.1,35.0 363.1,35.7 365.1,36.8 367.2,38.4 368.8,40.4 370.3,43.5 370.8,45.5 371.0,48.5 370.7,50.5 369.6,53.5 368.3,55.5 366.4,57.5 364.1,59.0 362.1,59.9 359.1,60.6 357.1,60.7 354.1,60.2 352.1,59.4 350.1,58.2 348.1,56.5 346.6,54.5 345.5,52.5 344.8,49.5 344.6,47.5 344.8,45.5 345.8,42.5 347.1,40.2 349.1,38.0 351.1,36.5Z"/>
<path fill="#e58dbe" d="M354.1,36.4 356.1,35.9 359.1,35.8 361.1,36.2 363.1,36.9 365.1,38.0 366.8,39.4 368.4,41.4 369.4,43.5 370.0,45.5 370.2,48.5 369.9,50.5 369.2,52.5 368.1,54.5 366.4,56.5 364.1,58.2 362.1,59.1 359.1,59.8 357.1,59.9 355.1,59.5 353.1,58.9 351.1,57.8 349.1,56.1 347.8,54.5 346.3,51.5 345.8,48.5 345.9,46.5 346.3,44.5 347.1,42.5 348.4,40.4 350.1,38.7 352.1,37.3Z"/>
<path fill="#e286b8" d="M354.3,37.4 356.1,36.9 359.1,36.8 361.1,37.1 363.1,37.9 365.1,39.1 366.6,40.4 368.0,42.5 368.9,44.5 369.4,46.5 369.5,48.5 369.2,50.5 368.5,52.5 367.3,54.5 366.1,55.9 364.1,57.4 362.1,58.4 360.1,59.0 357.1,59.1 355.1,58.8 353.1,58.0 351.1,56.8 349.7,55.5 348.2,53.5 347.3,51.5 346.9,49.5 346.8,47.5 347.1,45.5 347.7,43.5 348.9,41.4 350.1,40.1 352.1,38.5Z"/>
<path fill="#e181b5" d="M354.0,38.4 356.1,37.8 358.1,37.6 360.1,37.7 362.1,38.3 364.1,39.3 366.1,41.0 367.2,42.5 368.2,44.5 368.8,46.5 368.9,48.5 368.6,50.5 367.9,52.5 366.6,54.5 365.7,55.5 364.1,56.8 362.1,57.8 360.1,58.4 358.1,58.6 356.1,58.4 354.1,57.8 352.1,56.7 350.7,55.5 349.8,54.5 348.6,52.5 347.9,50.5 347.6,48.5 347.7,46.5 348.3,44.5 349.3,42.5 350.9,40.4 352.2,39.4Z"/>
<path fill="#df7cb1" d="M356.6,38.4 359.1,38.3 361.1,38.7 362.1,39.0 364.1,40.1 365.1,40.9 366.5,42.5 367.6,44.5 368.1,46.5 368.3,48.5 368.0,50.5 367.7,51.5 366.7,53.5 365.1,55.3 364.1,56.1 362.1,57.2 360.1,57.8 358.1,58.0 356.1,57.8 354.1,57.1 352.1,55.9 350.6,54.5 349.9,53.5 348.9,51.5 348.4,49.5 348.3,47.5 348.7,45.5 349.5,43.5 350.2,42.5 351.1,41.3 353.1,39.7 355.1,38.8Z"/>
<path fill="#de77ae" d="M355.2,39.4 357.1,39.0 359.1,38.9 362.1,39.6 364.1,40.8 365.1,41.7 366.5,43.5 367.4,45.5 367.8,47.5 367.7,49.5 366.7,52.5 365.3,54.5 364.2,55.5 363.1,56.2 361.1,57.1 359.1,57.5 357.1,57.4 355.1,57.0 354.1,56.5 352.5,55.5 351.4,54.5 350.6,53.5 349.5,51.5 349.0,49.5 349.0,47.5 349.4,45.5 349.7,44.5 351.0,42.5 352.1,41.3 354.1,39.9Z"/>
<path fill="#dd73ac" d="M354.3,40.4 356.1,39.7 357.1,39.5 359.1,39.5 361.1,39.8 363.1,40.7 364.1,41.5 365.1,42.5 366.5,44.5 366.9,45.5 367.3,47.5 367.2,49.5 366.7,51.5 365.6,53.5 364.7,54.5 363.1,55.7 362.1,56.3 359.1,57.0 356.1,56.8 354.1,56.0 353.1,55.3 352.1,54.5 350.6,52.5 349.8,50.5 349.6,49.5 349.5,47.5 350.0,45.5 350.9,43.5 351.7,42.5 353.1,41.2Z"/>
<path fill="#db6ca8" d="M355.6,40.4 357.1,40.0 359.1,39.9 360.1,40.1 362.1,40.7 363.1,41.3 364.5,42.5 365.4,43.5 366.4,45.5 366.7,46.5 366.9,48.5 366.6,50.5 366.3,51.5 365.1,53.4 364.1,54.5 363.1,55.3 361.1,56.2 358.1,56.6 355.1,56.0 352.7,54.5 351.8,53.5 350.6,51.5 350.3,50.5 350.0,48.5 350.5,45.5 351.5,43.5 352.4,42.5 354.1,41.1Z"/>
<path fill="#da69a6" d="M357.4,40.4 360.1,40.5 361.1,40.8 363.1,41.8 364.1,42.6 365.6,44.5 366.0,45.5 366.5,47.5 366.5,49.5 366.2,50.5 365.1,52.8 364.1,54.0 363.1,54.8 361.1,55.8 360.1,56.1 357.1,56.2 356.1,55.9 354.1,55.0 352.3,53.5 351.6,52.5 350.7,50.5 350.5,49.5 350.5,47.5 350.6,46.5 351.4,44.5 352.1,43.5 354.1,41.6 356.1,40.7Z"/>
<path fill="#d965a4" d="M355.3,41.4 357.1,40.9 358.1,40.7 360.1,40.9 361.1,41.2 363.1,42.2 364.1,43.1 365.7,45.5 366.0,46.5 366.2,48.5 365.9,50.5 365.0,52.5 364.2,53.5 362.1,55.1 360.1,55.8 359.1,55.9 357.1,55.8 356.1,55.6 354.1,54.6 353.1,53.7 351.5,51.5 350.9,49.5 350.8,48.5 350.9,47.5 351.4,45.5 351.9,44.5 353.1,43.0 354.1,42.1Z"/>
<path fill="#d861a2" d="M356.4,41.4 358.1,41.1 359.1,41.1 361.1,41.6 362.1,42.0 364.1,43.6 364.8,44.5 365.7,46.5 365.9,47.5 365.8,49.5 365.2,51.5 363.7,53.5 362.5,54.5 361.1,55.2 359.1,55.6 358.1,55.6 356.1,55.2 355.1,54.8 353.1,53.3 352.4,52.5 351.5,50.5 351.3,49.5 351.2,47.5 351.8,45.5 353.1,43.5 354.1,42.6 355.1,41.9Z"/>
<path fill="#d65a9f" d="M358.1,41.4 360.1,41.6 361.1,41.9 363.1,43.1 364.4,44.5 365.0,45.5 365.6,47.5 365.5,49.5 365.3,50.5 364.1,52.6 363.1,53.7 362.1,54.4 361.1,54.9 359.1,55.3 357.1,55.2 356.1,54.9 353.7,53.5 352.2,51.5 351.8,50.5 351.5,48.5 351.8,46.5 352.2,45.5 353.6,43.5 355.1,42.3 356.1,41.8Z"/>
<path fill="#d4539b" d="M356.1,42.5 358.1,41.9 360.1,42.1 361.1,42.4 362.1,42.9 363.1,43.7 364.4,45.5 365.1,47.5 365.0,49.5 364.8,50.5 364.4,51.5 363.1,53.1 361.1,54.4 360.1,54.7 358.1,54.9 356.1,54.4 354.1,53.1 352.8,51.5 352.3,50.5 352.0,48.5 352.3,46.5 352.7,45.5 354.1,43.7 355.1,42.9Z"/>
<path fill="#d34f99" d="M355.2,43.5 357.1,42.6 358.1,42.5 360.1,42.6 362.1,43.5 363.1,44.4 363.9,45.5 364.6,47.5 364.6,49.5 363.9,51.5 363.1,52.5 362.1,53.3 360.1,54.3 359.1,54.4 357.1,54.3 355.1,53.3 354.1,52.5 353.3,51.5 352.6,49.5 352.6,47.5 353.3,45.5 354.1,44.4Z"/>
<path fill="#d14895" d="M356.2,43.5 358.1,42.9 360.1,43.1 361.1,43.5 362.5,44.5 363.4,45.5 363.9,46.5 364.3,48.5 363.9,50.5 363.3,51.5 362.5,52.5 361.1,53.4 359.1,54.0 357.1,53.8 356.1,53.4 354.7,52.5 353.9,51.5 353.4,50.5 353.0,48.5 353.3,46.5 353.9,45.5 354.7,44.5Z"/>
<path fill="#cf4191" d="M357.7,43.5 359.1,43.4 361.1,43.9 362.9,45.5 363.8,47.5 363.8,49.5 362.8,51.5 361.1,53.0 360.1,53.4 358.1,53.6 356.1,53.0 354.4,51.5 353.5,49.5 353.5,47.5 354.4,45.5 356.1,44.0Z"/>
<path fill="#cd3a8d" d="M356.2,44.5 357.1,44.0 358.1,43.7 360.1,43.9 361.1,44.4 362.1,45.2 363.0,46.5 363.5,48.5 363.3,49.5 363.0,50.5 362.3,51.5 361.1,52.5 360.1,53.0 359.1,53.2 357.1,53.0 356.1,52.5 355.1,51.6 354.3,50.5 353.8,48.5 354.0,47.5 354.3,46.5 355.0,45.5Z"/>
<path fill="#cb3289" d="M357.1,44.5 358.1,44.2 359.1,44.1 361.1,44.9 362.6,46.5 362.9,47.5 363.0,49.5 362.6,50.5 361.1,52.1 360.1,52.6 359.1,52.8 358.1,52.8 356.1,52.0 354.7,50.5 354.3,49.5 354.4,47.5 354.8,46.5 356.1,44.9Z"/>
<path fill="#ca2f88" d="M356.1,45.5 357.1,44.8 359.1,44.5 360.1,44.7 361.1,45.3 362.1,46.5 362.6,47.5 362.7,48.5 362.6,49.5 362.1,50.5 361.1,51.6 360.1,52.2 358.1,52.4 357.1,52.2 356.1,51.6 355.2,50.5 354.7,49.5 354.6,48.5 354.7,47.5 355.2,46.5Z"/>
<path fill="#c82884" d="M356.7,45.5 358.1,44.9 359.1,44.8 360.1,45.1 361.1,45.8 361.7,46.5 362.2,47.5 362.4,48.5 362.2,49.5 361.8,50.5 361.1,51.2 360.1,51.9 359.1,52.2 358.1,52.1 357.1,51.8 355.5,50.5 355.1,49.5 355.0,48.5 355.1,47.5 355.6,46.5Z"/>
<path fill="#c62080" d="M357.4,45.5 358.1,45.2 359.1,45.2 360.1,45.5 361.1,46.2 361.9,47.5 362.0,48.5 361.9,49.5 361.4,50.5 360.1,51.5 359.1,51.8 358.1,51.8 357.1,51.4 356.0,50.5 355.4,49.5 355.3,48.5 355.4,47.5 356.1,46.4Z"/>
<path fill="#c41a7c" d="M356.4,46.5 357.1,45.9 358.1,45.5 359.1,45.5 360.1,45.8 360.9,46.5 361.6,47.5 361.8,48.5 361.6,49.5 361.0,50.5 360.1,51.2 359.1,51.5 358.1,51.5 357.1,51.1 356.3,50.5 355.7,49.5 355.6,48.5 355.8,47.5Z"/>
<path fill="#c2197a" d="M356.8,46.5 358.1,45.8 359.1,45.7 360.5,46.5 361.3,47.5 361.5,48.5 361.3,49.5 360.6,50.5 360.1,50.9 359.1,51.3 358.1,51.3 356.7,50.5 356.1,49.5 355.9,48.5 356.1,47.5Z"/>
<path fill="#bd1777" d="M357.3,46.5 358.1,46.0 359.1,46.0 360.1,46.5 361.0,47.5 361.2,48.5 361.0,49.5 360.1,50.6 359.1,51.1 358.1,51.0 357.1,50.4 356.3,49.5 356.1,48.5 356.3,47.5Z"/>
<path fill="#b91574" d="M357.8,46.5 359.1,46.2 360.1,46.7 360.8,47.5 361.0,48.5 360.8,49.5 360.1,50.3 359.1,50.8 358.1,50.8 357.1,50.2 356.5,49.5 356.3,48.5 356.6,47.5 357.1,46.9Z"/>
<path fill="#b51370" d="M356.9,47.5 358.1,46.5 359.1,46.5 360.1,47.0 360.5,47.5 360.9,48.5 360.6,49.5 360.1,50.0 359.1,50.5 358.1,50.5 356.8,49.5 356.5,48.5Z"/>
<path fill="#b1116d" d="M357.1,47.5 358.1,46.7 359.1,46.6 360.2,47.5 360.7,48.5 360.3,49.5 359.1,50.4 358.1,50.3 357.1,49.5 356.7,48.5Z"/>
<path fill="#ae106b" d="M357.3,47.5 358.1,46.8 359.1,46.8 360.0,47.5 360.5,48.5 360.1,49.5 359.1,50.2 358.1,50.2 357.3,49.5 357.0,48.5Z"/>
<path fill="#aa0e68" d="M357.6,47.5 358.1,47.0 359.1,46.9 359.8,47.5 360.3,48.5 359.9,49.5 359.1,50.1 358.1,50.0 357.4,49.5 357.1,48.5Z"/>
<path fill="#a60c65" d="M357.8,47.5 358.1,47.2 359.1,47.1 359.6,47.5 360.1,48.5 359.7,49.5 359.1,49.9 358.1,49.9 357.7,49.5 357.2,48.5Z"/>
<path fill="#a10a61" d="M358.1,47.5 359.1,47.3 360.0,48.5 359.5,49.5 359.1,49.8 358.1,49.7 357.3,48.5Z"/>
<path fill="#9d085e" d="M357.4,48.5 358.1,47.5 359.1,47.5 359.9,48.5 359.1,49.6 358.1,49.5Z"/>
<path fill="#9b075c" d="M357.5,48.5 358.1,47.7 359.1,47.6 359.8,48.5 359.1,49.4 358.1,49.3Z"/>
<path fill="#970559" d="M357.6,48.5 358.1,47.8 359.1,47.7 359.7,48.5 359.1,49.3 358.1,49.2Z"/>
<path fill="#920355" d="M357.7,48.5 358.1,47.9 359.1,47.8 359.6,48.5 359.1,49.1 358.1,49.0Z"/>
<path fill="#8e0152" d="M357.8,48.5 358.1,48.1 359.1,48.0 359.5,48.5 359.1,49.0 358.1,48.9Z"/>
<path fill="#8e0152" d="M357.9,48.5 358.1,48.3 359.1,48.2 359.4,48.5 359.1,48.8 358.1,48.7Z"/>
</g>
<g clip-path="url(#cb2)" shape-rendering="geometricPrecision">
<rect x="464.2" y="15.4" width="159.0" height="157.3" fill="#e9f5d8"/>
<path fill="#c0e593" d="M582.7,15.4 623.2,15.4 623.2,172.7 464.2,172.7 464.2,114.3 477.2,111.2 489.2,107.9 500.2,104.2 510.2,100.2 519.2,95.9 527.2,91.4 535.2,86.1 542.2,80.7 549.0,74.5 554.6,68.5 560.3,61.5 565.8,53.5 570.4,45.5 574.8,36.4 579.0,26.4Z"/>
<path fill="#aeda7a" d="M594.1,16.4 594.8,15.4 623.2,15.4 623.2,172.7 464.2,172.7 464.2,142.2 468.3,137.6 472.3,133.6 476.7,129.6 482.8,124.6 493.8,116.6 519.2,100.1 529.2,93.2 535.2,88.7 540.2,84.7 549.2,76.6 554.2,71.5 558.7,66.5 562.9,61.5 567.5,55.5 574.6,45.5 588.2,24.8Z"/>
<path fill="#a3d36c" d="M614.2,16.4 616.3,15.4 623.2,15.4 623.2,172.7 481.5,172.7 482.0,165.7 482.9,159.7 484.7,152.7 486.8,146.7 489.5,140.6 492.8,134.6 496.8,128.6 501.5,122.6 507.0,116.6 514.2,109.6 521.0,103.6 540.2,87.2 551.6,76.5 562.1,65.5 583.2,41.5 588.2,36.2 592.2,32.3 597.2,27.9 603.2,23.2 608.2,19.8Z"/>
<path fill="#9acd61" d="M619.7,28.4 623.2,27.8 623.2,172.7 502.2,172.7 501.1,164.7 500.9,156.7 501.7,148.7 502.4,144.6 503.4,140.6 505.8,133.6 507.6,129.6 509.6,125.6 514.0,118.6 519.3,111.6 524.5,105.6 531.3,98.6 552.2,78.3 574.2,56.1 580.2,50.4 585.2,46.1 593.2,40.1 598.2,36.9 602.2,34.7 606.2,32.8 611.2,30.8 615.2,29.6Z"/>
<path fill="#93c959" d="M614.1,39.4 618.2,38.9 623.2,38.6 623.2,172.7 517.5,172.7 516.0,168.7 514.8,164.7 513.9,160.7 513.3,156.7 512.9,151.7 512.8,147.7 513.0,143.6 513.5,139.6 514.2,135.6 515.3,131.6 516.6,127.6 518.2,123.6 521.7,116.6 524.1,112.6 526.9,108.6 530.7,103.6 535.0,98.6 545.4,87.5 566.2,67.1 572.2,61.6 578.2,56.6 583.2,52.8 587.2,50.1 592.2,47.1 596.2,45.1 601.2,42.9 605.2,41.5 610.2,40.2Z"/>
<path fill="#8cc551" d="M608.4,47.5 612.2,47.0 616.2,46.8 623.2,47.2 623.2,172.7 529.9,172.7 527.7,168.7 525.8,164.7 524.3,160.7 523.1,156.7 522.1,152.7 521.5,148.7 521.1,143.6 521.1,139.6 521.4,135.6 522.0,131.6 522.8,127.6 524.0,123.6 525.5,119.6 527.2,115.6 529.3,111.6 531.7,107.6 535.2,102.6 539.1,97.6 543.3,92.5 547.9,87.5 554.2,81.1 561.2,74.4 567.2,68.9 573.2,63.9 581.2,58.2 586.2,55.2 590.2,53.1 595.2,50.9 599.2,49.6 604.2,48.2Z"/>
<path fill="#88c24c" d="M604.1,53.5 608.2,53.1 613.2,53.0 618.2,53.3 623.2,54.2 623.2,172.7 540.7,172.7 538.2,169.4 535.7,165.7 533.5,161.7 531.6,157.7 530.1,153.7 528.9,149.7 528.1,145.6 527.5,141.6 527.3,137.6 527.4,132.6 527.8,128.6 528.6,124.6 529.6,120.6 531.0,116.6 532.7,112.6 534.7,108.6 537.7,103.6 540.4,99.6 544.3,94.6 548.6,89.5 553.2,84.5 559.2,78.6 564.2,74.1 569.2,69.9 577.2,64.1 582.2,61.0 586.2,58.9 591.2,56.8 595.2,55.4 600.2,54.2Z"/>
<path fill="#83bf46" d="M599.2,58.5 605.2,57.9 611.2,57.9 617.2,58.7 623.2,60.2 623.2,172.7 550.9,172.7 547.7,169.7 545.0,166.7 542.2,163.1 539.9,159.7 537.7,155.7 536.3,152.7 534.8,148.7 533.6,144.6 532.8,140.6 532.3,136.6 532.2,132.6 532.4,127.6 532.9,123.6 533.8,119.6 535.0,115.6 536.5,111.6 538.9,106.6 541.2,102.6 543.8,98.6 547.5,93.5 551.8,88.5 555.5,84.5 560.2,80.0 565.2,75.5 569.2,72.3 574.2,68.7 578.2,66.3 582.2,64.1 586.2,62.2 590.2,60.7 595.2,59.3Z"/>
<path fill="#7fbc41" d="M596.0,62.5 599.2,62.0 603.2,61.8 607.2,61.8 610.2,62.1 614.2,62.7 617.2,63.4 623.2,65.4 623.2,172.7 561.0,172.7 557.2,170.1 554.2,167.7 551.2,164.9 548.2,161.6 545.9,158.7 543.2,154.6 541.1,150.7 539.4,146.7 538.0,142.6 537.1,138.6 536.5,134.6 536.2,130.6 536.3,126.6 536.6,122.6 537.4,118.6 538.4,114.6 539.9,110.6 541.6,106.6 543.7,102.6 546.9,97.6 550.6,92.5 554.0,88.5 557.8,84.5 562.2,80.3 566.2,76.9 570.2,73.9 574.2,71.2 579.2,68.3 583.2,66.4 587.2,64.8 592.2,63.3Z"/>
<path fill="#7dba40" d="M596.0,65.5 599.2,65.2 603.2,65.1 606.2,65.3 610.2,65.8 614.2,66.7 617.2,67.6 623.2,70.1 623.2,168.0 618.2,170.7 613.4,172.7 572.7,172.7 568.2,170.8 564.2,168.6 560.2,166.0 557.2,163.7 553.2,160.0 550.3,156.7 548.0,153.7 545.5,149.7 543.5,145.6 542.0,141.6 540.8,137.6 540.0,133.6 539.6,129.6 539.6,125.6 539.9,121.6 540.7,116.6 541.8,112.6 543.6,107.6 545.5,103.6 547.8,99.6 550.5,95.6 554.4,90.5 558.0,86.5 562.1,82.5 566.2,79.0 570.2,76.0 574.2,73.4 578.2,71.2 583.2,68.9 587.2,67.4 592.2,66.1Z"/>
<path fill="#79b73d" d="M593.2,68.5 597.2,68.1 601.2,68.0 605.2,68.3 609.2,68.9 613.2,69.9 616.2,70.9 619.8,72.5 623.2,74.3 623.2,162.3 620.2,164.2 616.2,166.3 612.2,168.0 608.2,169.4 604.2,170.4 600.2,171.2 596.2,171.6 591.2,171.7 586.2,171.3 581.2,170.5 576.2,169.2 572.2,167.7 567.2,165.3 563.2,162.9 559.2,159.9 556.2,157.2 553.0,153.7 550.0,149.7 547.6,145.6 545.7,141.6 544.3,137.6 543.3,133.6 542.7,129.6 542.5,124.6 542.8,119.6 543.7,114.6 544.8,110.6 546.8,105.6 548.8,101.6 551.8,96.6 554.8,92.5 558.2,88.6 562.2,84.5 566.2,81.1 570.2,78.0 575.2,74.9 579.2,72.8 584.2,70.8 589.2,69.3Z"/>
<path fill="#77b53c" d="M589.1,71.5 593.2,70.8 598.2,70.5 603.2,70.8 607.2,71.4 611.2,72.4 615.2,73.9 619.2,75.8 623.2,78.2 623.2,157.2 620.2,159.3 617.2,161.2 613.2,163.2 610.2,164.4 607.2,165.4 603.2,166.5 599.2,167.2 595.2,167.6 591.2,167.7 586.2,167.4 581.2,166.5 577.2,165.5 573.2,164.0 569.2,162.2 565.2,159.8 560.9,156.7 557.7,153.7 554.9,150.7 552.0,146.7 549.6,142.6 547.9,138.6 546.5,134.6 545.6,130.6 545.1,125.6 545.0,121.6 545.5,116.6 546.4,112.6 547.6,108.6 549.2,104.6 551.3,100.6 553.8,96.6 556.7,92.5 560.2,88.5 564.2,84.7 568.2,81.4 572.2,78.6 576.2,76.3 580.2,74.4 584.2,72.8Z"/>
<path fill="#75b43b" d="M589.1,73.5 593.2,72.9 598.2,72.7 603.2,73.2 607.2,74.0 611.2,75.2 615.2,76.8 619.2,79.0 623.2,81.9 623.2,152.6 620.2,155.0 617.2,157.0 613.2,159.3 610.2,160.6 606.2,162.1 603.2,162.9 599.2,163.7 595.2,164.2 590.2,164.3 586.2,164.0 581.2,163.1 577.2,162.0 573.2,160.5 569.2,158.5 565.2,156.0 562.2,153.7 559.2,150.9 556.3,147.7 554.1,144.6 551.8,140.6 550.0,136.6 548.7,132.6 547.8,128.6 547.3,124.6 547.3,120.6 547.6,116.6 548.4,112.6 549.5,108.6 551.1,104.6 553.1,100.6 555.6,96.6 558.6,92.5 562.2,88.5 565.2,85.7 569.2,82.4 573.2,79.8 577.2,77.6 581.2,75.8 585.2,74.4Z"/>
<path fill="#73b239" d="M588.2,75.5 593.2,74.8 598.2,74.8 602.2,75.2 607.2,76.3 612.2,78.1 616.2,80.2 619.8,82.5 623.2,85.3 623.2,148.4 620.2,151.1 617.2,153.3 614.2,155.2 610.2,157.3 607.2,158.5 603.2,159.8 599.2,160.6 595.2,161.2 590.2,161.3 586.2,161.0 582.2,160.3 578.2,159.3 575.2,158.2 571.2,156.4 567.2,154.0 564.2,151.8 561.2,149.1 558.2,145.8 555.8,142.6 554.0,139.6 552.6,136.6 551.1,132.6 550.0,128.6 549.4,124.6 549.3,120.6 549.5,116.6 550.2,112.6 551.3,108.6 552.8,104.6 554.8,100.6 556.6,97.6 559.5,93.5 562.1,90.5 565.2,87.5 568.2,84.9 572.2,82.1 576.2,79.7 580.2,77.9 584.2,76.5Z"/>
<path fill="#6faf37" d="M586.5,77.5 591.2,76.7 596.2,76.6 601.2,77.0 606.2,78.1 611.2,80.0 615.2,82.2 619.2,85.0 623.2,88.7 623.2,144.5 620.2,147.5 617.6,149.7 614.2,152.1 611.2,153.8 608.2,155.2 604.2,156.7 601.2,157.5 597.2,158.3 593.2,158.6 589.2,158.6 585.2,158.2 581.2,157.4 577.2,156.2 574.2,155.0 570.2,153.0 567.2,151.0 564.2,148.6 561.2,145.7 558.6,142.6 556.6,139.6 554.9,136.6 553.3,132.6 552.3,129.6 551.5,125.6 551.1,121.6 551.2,117.6 551.7,113.6 552.6,109.6 553.6,106.6 555.3,102.6 557.5,98.6 559.6,95.6 562.2,92.3 565.2,89.2 568.2,86.5 572.2,83.6 575.2,81.8 579.2,79.9 583.2,78.4Z"/>
<path fill="#6bac34" d="M590.8,79.5 595.2,79.4 600.2,79.9 605.2,81.2 609.2,82.8 613.2,85.0 616.7,87.5 620.2,90.8 623.2,94.5 623.2,137.8 620.2,141.6 617.2,144.6 613.2,147.8 609.2,150.2 605.2,152.0 600.2,153.6 596.2,154.3 591.2,154.7 587.2,154.5 584.2,154.1 580.2,153.1 577.2,152.1 574.2,150.8 571.2,149.1 568.2,147.1 565.2,144.6 562.4,141.6 560.2,138.8 558.2,135.6 556.8,132.6 555.6,129.6 554.8,126.6 554.3,123.6 554.0,119.6 554.1,116.6 554.5,112.6 555.5,108.6 556.6,105.6 558.4,101.6 560.2,98.6 562.3,95.6 564.9,92.5 567.2,90.2 570.4,87.5 574.2,85.0 577.2,83.4 580.2,82.0 584.2,80.7 587.2,80.0Z"/>
<path fill="#69aa33" d="M587.5,82.5 590.2,82.2 593.2,82.1 598.2,82.5 603.2,83.7 608.2,85.8 610.2,86.9 613.2,88.9 617.2,92.5 620.4,96.6 623.2,101.4 623.2,130.2 621.4,133.6 619.2,136.9 616.2,140.4 613.2,143.1 610.2,145.2 606.2,147.5 602.2,149.1 598.2,150.2 594.2,150.8 590.2,151.0 587.2,150.8 584.2,150.4 581.2,149.7 578.2,148.7 575.2,147.4 572.2,145.7 569.2,143.6 566.2,140.9 564.2,138.7 562.6,136.6 560.8,133.6 559.3,130.6 558.2,127.6 557.4,124.6 556.8,120.6 556.7,117.6 556.9,114.6 557.5,110.6 558.4,107.6 559.5,104.6 561.0,101.6 562.8,98.6 565.1,95.6 567.2,93.2 570.1,90.5 572.2,88.9 575.2,87.0 578.2,85.4 581.2,84.2 584.2,83.2Z"/>
<path fill="#66a731" d="M584.8,85.5 588.2,84.9 591.2,84.7 594.2,84.7 597.2,85.1 600.2,85.7 603.2,86.7 606.2,88.0 608.8,89.5 611.2,91.2 613.8,93.5 615.7,95.6 617.9,98.6 619.6,101.6 620.6,103.6 621.6,106.6 622.4,109.6 622.8,112.6 623.0,115.6 622.8,118.6 622.4,121.6 621.6,124.6 620.6,127.6 619.1,130.6 617.3,133.6 615.2,136.4 613.2,138.5 610.7,140.6 608.2,142.4 605.2,144.2 602.2,145.5 599.2,146.5 596.2,147.1 593.2,147.5 590.2,147.6 587.2,147.5 584.2,147.0 581.2,146.2 578.2,145.2 576.2,144.2 573.2,142.5 570.6,140.6 568.2,138.5 566.2,136.3 564.2,133.6 563.0,131.6 561.6,128.6 560.5,125.6 559.8,122.6 559.4,119.6 559.3,116.6 559.5,113.6 560.0,110.6 560.9,107.6 562.0,104.6 563.5,101.6 564.8,99.6 567.1,96.6 568.9,94.6 573.2,90.9 576.2,88.9 579.2,87.4 582.2,86.3Z"/>
<path fill="#62a32e" d="M586.6,87.5 589.2,87.2 592.2,87.1 595.2,87.3 598.2,87.9 601.2,88.8 603.2,89.6 606.2,91.2 608.2,92.5 610.2,94.1 612.2,96.0 614.2,98.4 615.7,100.6 616.8,102.6 618.1,105.6 619.0,108.6 619.6,111.6 619.8,114.6 619.8,117.6 619.4,120.6 618.7,123.6 617.6,126.6 616.6,128.6 614.9,131.6 613.4,133.6 611.6,135.6 609.4,137.6 605.2,140.6 602.2,142.1 600.2,142.9 597.2,143.8 594.2,144.3 591.2,144.5 588.2,144.5 583.2,143.7 581.2,143.1 578.2,141.9 575.2,140.3 573.2,139.0 571.2,137.4 569.2,135.4 567.2,133.0 565.6,130.6 564.5,128.6 563.3,125.6 562.7,123.6 562.1,120.6 561.8,115.6 562.1,112.6 562.7,109.6 564.4,104.6 566.1,101.6 567.4,99.6 569.2,97.3 571.2,95.3 573.2,93.5 576.2,91.5 578.2,90.3 581.2,89.0 584.2,88.0Z"/>
<path fill="#5ea02c" d="M588.4,89.5 591.2,89.4 594.2,89.6 597.2,90.1 599.2,90.7 602.2,91.9 604.2,92.9 607.9,95.6 610.0,97.6 611.7,99.6 614.2,103.6 615.5,106.6 616.1,108.6 616.6,110.6 617.0,113.6 616.8,118.6 615.7,123.6 614.4,126.6 613.4,128.6 610.4,132.6 608.5,134.6 606.2,136.5 602.2,139.0 599.2,140.2 597.2,140.8 592.2,141.7 587.2,141.6 584.2,141.1 582.2,140.5 579.2,139.4 577.2,138.3 573.2,135.6 571.2,133.7 569.4,131.6 566.9,127.6 566.0,125.6 565.0,122.6 564.5,120.6 564.2,117.6 564.3,112.6 564.7,110.6 565.6,107.6 566.8,104.6 567.9,102.6 570.9,98.6 572.8,96.6 575.2,94.6 579.2,92.2 582.2,90.9 584.2,90.3Z"/>
<path fill="#5a9d29" d="M583.9,92.5 588.2,91.7 591.2,91.6 593.2,91.7 596.2,92.2 598.2,92.8 602.2,94.5 604.2,95.7 606.2,97.3 609.4,100.6 610.8,102.6 611.9,104.6 613.5,108.6 614.0,110.6 614.4,113.6 614.3,117.6 613.5,121.6 612.5,124.6 611.5,126.6 608.7,130.6 607.2,132.2 605.2,134.0 601.2,136.5 597.2,138.1 593.2,139.0 591.2,139.2 588.2,139.1 586.2,138.9 583.2,138.2 579.2,136.6 575.2,134.0 573.2,132.3 571.7,130.6 570.2,128.6 569.0,126.6 567.3,122.6 566.5,118.6 566.3,116.6 566.4,113.6 566.7,111.6 567.4,108.6 569.1,104.6 571.8,100.6 575.2,97.2 579.2,94.5 582.2,93.1Z"/>
<path fill="#589b28" d="M584.1,94.6 588.2,93.7 592.2,93.7 596.2,94.4 600.2,95.9 602.2,97.0 604.2,98.5 607.2,101.5 609.3,104.6 611.1,108.6 611.9,112.6 612.1,114.6 611.9,117.6 611.0,121.6 609.3,125.6 607.2,128.7 604.2,131.7 602.2,133.2 600.2,134.4 596.2,136.0 594.2,136.5 591.2,136.8 587.2,136.7 583.2,135.8 579.2,134.0 575.8,131.6 572.9,128.6 570.9,125.6 569.3,121.6 568.5,117.6 568.4,113.6 569.2,109.6 570.8,105.6 573.2,101.9 576.2,98.8 578.2,97.3 580.2,96.1Z"/>
<path fill="#549825" d="M588.8,95.6 592.2,95.6 596.2,96.4 598.2,97.1 600.2,98.2 603.2,100.3 604.5,101.6 606.2,103.6 608.0,106.6 609.1,109.6 609.9,113.6 609.7,117.6 608.8,121.6 607.4,124.6 605.2,127.7 602.2,130.6 599.2,132.5 595.2,134.0 591.2,134.7 587.2,134.5 584.2,133.9 582.2,133.1 580.2,132.2 577.2,130.1 574.7,127.6 572.7,124.6 571.7,122.6 571.0,120.6 570.3,116.6 570.4,112.6 571.5,108.6 572.9,105.6 575.2,102.3 578.2,99.6 581.2,97.7 585.2,96.1Z"/>
<path fill="#509423" d="M586.9,97.6 590.2,97.2 594.2,97.7 597.2,98.7 600.2,100.3 602.9,102.6 605.2,105.5 606.8,108.6 607.6,111.6 607.9,115.6 607.6,118.6 606.6,121.6 605.1,124.6 602.6,127.6 600.2,129.6 597.2,131.3 595.2,132.0 593.2,132.5 590.2,132.8 586.2,132.4 583.2,131.5 580.2,130.0 577.3,127.6 575.2,125.1 573.7,122.6 572.9,120.6 572.4,118.6 572.0,115.6 572.4,111.6 573.3,108.6 575.2,105.1 577.3,102.6 580.2,100.2 583.2,98.6Z"/>
<path fill="#4c9121" d="M585.3,99.6 588.2,99.0 590.2,98.9 592.2,99.0 595.2,99.7 598.2,101.1 601.2,103.3 603.1,105.6 604.4,107.6 605.6,110.6 606.1,113.6 606.1,116.6 605.5,119.6 604.2,122.6 602.2,125.4 600.2,127.4 598.2,128.7 595.2,130.1 591.2,131.0 588.2,130.9 585.2,130.3 582.2,129.1 579.2,127.1 577.2,125.0 575.6,122.6 574.4,119.6 573.8,116.6 573.7,113.6 574.3,110.6 575.5,107.6 577.6,104.6 579.6,102.6 582.2,100.8Z"/>
<path fill="#4b8f21" d="M587.7,100.6 590.2,100.4 593.2,100.7 596.2,101.8 598.2,102.9 600.2,104.6 602.6,107.6 603.6,109.6 604.4,112.6 604.5,115.6 604.1,118.6 602.9,121.6 601.6,123.6 599.7,125.6 597.2,127.5 595.2,128.4 592.2,129.2 589.2,129.4 586.2,129.0 583.2,127.8 581.2,126.6 579.2,124.9 577.4,122.6 576.4,120.6 575.4,117.6 575.2,114.6 575.6,111.6 576.7,108.6 577.9,106.6 579.6,104.6 582.2,102.6 585.2,101.1Z"/>
<path fill="#488c20" d="M585.3,102.6 587.2,102.0 590.2,101.7 593.2,102.2 595.2,102.9 597.2,103.9 599.2,105.6 600.9,107.6 602.4,110.6 602.9,112.6 603.1,115.6 602.5,118.6 601.7,120.6 600.5,122.6 598.7,124.6 596.2,126.3 594.2,127.2 591.2,127.9 589.2,128.0 586.2,127.5 584.2,126.7 582.2,125.6 580.2,123.9 578.5,121.6 577.5,119.6 576.9,117.6 576.6,114.6 576.8,112.6 577.7,109.6 578.8,107.6 580.5,105.6 582.2,104.2Z"/>
<path fill="#45881f" d="M586.2,103.6 588.2,103.1 591.2,103.1 593.2,103.5 595.2,104.3 597.2,105.6 599.2,107.5 600.5,109.6 601.3,111.6 601.7,113.6 601.6,116.6 601.1,118.6 600.2,120.6 598.8,122.6 597.2,124.1 595.2,125.4 593.2,126.2 591.2,126.6 588.2,126.5 586.2,126.1 584.2,125.3 582.2,124.0 580.8,122.6 579.4,120.6 578.5,118.6 577.9,115.6 577.9,113.6 578.3,111.6 579.1,109.6 580.4,107.6 582.2,105.7 584.2,104.4Z"/>
<path fill="#42841f" d="M586.9,104.6 589.2,104.2 591.2,104.2 593.2,104.7 595.2,105.6 597.2,107.1 598.5,108.6 599.7,110.6 600.3,112.6 600.6,114.6 600.4,116.6 599.8,118.6 598.8,120.6 597.2,122.5 596.2,123.3 594.2,124.5 592.2,125.2 590.2,125.5 588.2,125.3 586.2,124.9 584.2,123.9 582.5,122.6 581.2,121.2 580.2,119.6 579.4,117.6 579.0,115.6 579.1,113.6 579.5,111.6 580.4,109.6 581.9,107.6 583.2,106.4 585.2,105.2Z"/>
<path fill="#3f811e" d="M587.2,105.6 588.2,105.3 590.2,105.2 592.2,105.5 594.2,106.3 596.1,107.6 597.2,108.6 598.5,110.6 599.2,112.6 599.4,115.6 599.0,117.6 598.1,119.6 596.6,121.6 595.4,122.6 594.2,123.3 592.2,124.1 590.2,124.4 588.2,124.3 585.2,123.3 583.2,121.8 582.2,120.8 581.4,119.6 580.5,117.6 580.1,115.6 580.2,113.6 580.6,111.6 581.1,110.6 582.2,108.8 583.4,107.6 585.2,106.3Z"/>
<path fill="#3d7f1e" d="M587.1,106.6 588.2,106.3 590.2,106.1 592.2,106.5 594.2,107.4 595.8,108.6 596.7,109.6 597.9,111.6 598.2,112.6 598.4,113.6 598.4,115.6 598.0,117.6 597.6,118.6 596.2,120.6 595.2,121.5 594.2,122.2 592.2,123.1 590.2,123.4 588.2,123.3 587.2,123.0 585.2,122.1 583.2,120.5 582.5,119.6 581.5,117.6 581.1,115.6 581.1,113.6 581.6,111.6 582.2,110.6 582.8,109.6 584.2,108.1 585.2,107.4Z"/>
<path fill="#3a7b1d" d="M586.9,107.6 589.2,107.0 591.2,107.1 592.2,107.4 594.2,108.4 595.2,109.2 596.3,110.6 596.9,111.6 597.5,113.6 597.6,114.6 597.6,115.6 597.0,117.6 596.2,119.1 595.2,120.3 594.2,121.2 592.2,122.2 591.2,122.4 589.2,122.5 587.2,122.1 586.2,121.7 584.2,120.2 583.2,119.0 582.4,117.6 581.9,115.6 581.9,114.6 582.0,113.6 582.6,111.6 584.2,109.3 585.2,108.5Z"/>
<path fill="#37781c" d="M586.5,108.6 588.2,107.9 589.2,107.8 591.2,107.9 592.2,108.2 594.4,109.6 596.0,111.6 596.7,113.6 596.8,115.6 596.6,116.6 596.2,117.6 595.2,119.2 594.2,120.2 593.2,120.8 592.2,121.3 590.2,121.7 589.2,121.7 587.2,121.3 586.2,120.8 584.7,119.6 583.3,117.6 582.7,115.6 582.8,113.6 583.1,112.6 584.2,110.5 585.2,109.4Z"/>
<path fill="#34741c" d="M588.9,108.6 591.2,108.7 593.2,109.5 594.4,110.6 595.2,111.6 596.0,113.6 596.0,115.6 595.8,116.6 594.7,118.6 593.2,120.0 591.2,120.9 590.2,121.0 588.2,120.8 587.2,120.5 585.7,119.6 584.7,118.6 584.1,117.6 583.5,115.6 583.5,113.6 583.8,112.6 585.0,110.6 586.2,109.6 587.2,109.0Z"/>
<path fill="#31711b" d="M587.6,109.6 589.2,109.1 590.2,109.1 592.2,109.7 593.5,110.6 594.4,111.6 595.0,112.6 595.4,114.6 595.1,116.6 594.6,117.6 593.9,118.6 592.2,119.8 591.2,120.2 589.2,120.4 587.2,119.8 585.6,118.6 584.8,117.6 584.4,116.6 584.1,114.6 584.5,112.6 585.1,111.6 585.9,110.6Z"/>
<path fill="#306f1b" d="M586.9,110.6 588.2,109.9 589.2,109.7 591.2,109.9 592.2,110.3 593.2,111.1 594.2,112.4 594.7,113.6 594.8,115.6 593.9,117.6 593.2,118.4 592.2,119.2 590.2,119.8 588.2,119.6 587.2,119.1 585.5,117.6 584.7,115.6 584.7,113.6 585.8,111.6Z"/>
<path fill="#2d6b1a" d="M588.0,110.6 589.2,110.2 590.2,110.2 592.2,110.9 593.8,112.6 594.1,113.6 594.3,114.6 593.9,116.6 593.2,117.7 592.2,118.5 591.2,119.1 589.2,119.3 588.2,119.0 587.2,118.5 586.2,117.6 585.5,116.6 585.2,114.6 585.3,113.6 585.7,112.6 586.5,111.6 587.2,111.0Z"/>
<path fill="#2a681a" d="M587.2,111.6 588.2,111.0 590.2,110.7 591.2,110.9 592.2,111.5 593.2,112.6 593.7,113.6 593.9,114.6 593.8,115.6 593.4,116.6 592.2,118.0 591.2,118.5 590.2,118.8 589.2,118.8 588.2,118.5 586.8,117.6 586.1,116.6 585.7,115.6 585.6,114.6 585.8,113.6 586.3,112.6Z"/>
<path fill="#276419" d="M588.0,111.6 589.2,111.1 590.2,111.1 591.2,111.4 592.7,112.6 593.2,113.6 593.4,114.6 593.3,115.6 592.9,116.6 592.2,117.4 591.2,118.1 590.2,118.4 589.2,118.4 588.2,118.1 587.2,117.4 586.5,116.6 586.2,115.6 586.0,114.6 586.2,113.6 586.8,112.6Z"/>
<path fill="#276419" d="M589.1,111.6 590.2,111.5 591.2,111.8 592.2,112.6 592.8,113.6 592.9,115.6 592.5,116.6 591.2,117.7 590.2,118.0 589.2,118.0 588.2,117.6 587.0,116.6 586.5,115.6 586.6,113.6 587.3,112.6 588.2,111.9Z"/>
<path fill="#fce5f1" d="M464.2,15.4 573.8,15.4 573.0,23.4 571.5,31.4 569.2,39.4 566.0,47.5 561.8,55.5 557.2,62.5 552.4,68.5 546.2,75.0 540.2,80.1 533.2,85.1 526.2,89.1 518.2,92.7 510.2,95.5 502.2,97.4 493.2,98.7 485.2,99.1 479.2,98.9 474.2,98.4 469.2,97.6 464.2,96.6Z"/>
<path fill="#f3bdde" d="M464.2,15.4 566.5,15.4 567.2,21.4 567.2,27.4 566.7,33.4 565.6,39.4 563.8,45.5 561.4,51.5 558.3,57.5 554.4,63.5 550.3,68.5 545.5,73.5 540.2,78.1 535.2,81.6 529.2,85.1 523.2,87.8 517.2,89.9 511.2,91.3 505.2,92.2 498.2,92.5 491.2,92.0 485.2,91.0 479.2,89.3 474.2,87.3 468.7,84.5 464.2,81.6Z"/>
<path fill="#eeabd2" d="M464.2,15.4 560.2,15.4 561.5,19.4 562.3,23.4 562.8,27.4 563.0,32.4 562.7,37.4 562.0,41.4 561.1,45.5 559.8,49.5 557.7,54.5 555.0,59.5 551.6,64.5 548.4,68.5 544.4,72.5 540.2,76.1 536.2,79.0 531.2,81.9 526.2,84.2 521.2,86.0 516.2,87.3 510.2,88.1 504.2,88.3 499.2,87.9 494.2,87.0 489.2,85.5 485.2,83.9 482.2,82.5 478.9,80.5 475.2,77.9 472.3,75.5 469.3,72.5 466.7,69.5 464.2,66.0Z"/>
<path fill="#ea9fca" d="M473.1,16.4 473.7,15.4 554.6,15.4 557.0,20.4 558.5,25.4 559.5,30.4 559.8,35.4 559.5,40.4 558.5,46.5 556.9,51.5 554.8,56.5 552.5,60.5 549.8,64.5 546.4,68.5 543.2,71.7 539.2,75.0 535.2,77.8 531.2,80.0 526.2,82.2 521.2,83.7 517.2,84.5 513.2,85.0 508.2,85.1 504.2,84.8 499.2,83.8 494.2,82.3 490.3,80.5 486.2,78.2 482.5,75.5 479.2,72.5 475.6,68.5 472.8,64.5 470.6,60.5 469.0,56.5 467.7,52.5 466.9,48.5 466.3,43.5 466.3,38.4 466.7,34.4 467.7,29.4 468.9,25.4 470.9,20.4Z"/>
<path fill="#e795c3" d="M482.6,16.4 483.5,15.4 549.4,15.4 552.7,20.4 554.1,23.4 555.2,26.4 556.1,29.4 556.7,32.4 557.2,38.4 556.7,44.5 555.4,50.5 553.0,56.5 551.4,59.5 549.5,62.5 547.3,65.5 544.2,68.9 541.2,71.7 537.2,74.8 533.2,77.2 529.2,79.1 525.2,80.6 521.2,81.7 517.2,82.3 513.2,82.5 509.2,82.4 505.2,81.9 501.2,80.9 497.2,79.4 493.4,77.5 490.2,75.5 487.2,73.2 484.2,70.3 481.8,67.5 479.0,63.5 477.4,60.5 475.7,56.5 474.5,52.5 473.8,48.5 473.4,44.5 473.5,39.4 474.1,35.4 475.0,31.4 476.3,27.4 478.1,23.4 480.2,19.8Z"/>
<path fill="#e58dbe" d="M490.4,16.4 491.5,15.4 544.4,15.4 546.3,17.4 548.7,20.4 550.6,23.4 552.2,26.8 553.5,30.4 554.3,33.4 554.8,36.4 555.0,40.4 554.8,44.5 554.1,48.5 553.0,52.5 551.8,55.5 550.4,58.5 548.6,61.5 546.4,64.5 543.8,67.5 541.2,70.0 538.2,72.5 534.2,75.1 531.2,76.6 528.2,77.9 524.2,79.2 520.2,80.0 517.2,80.3 513.2,80.4 509.2,80.0 505.2,79.1 502.2,78.2 498.4,76.5 495.2,74.7 492.2,72.5 489.9,70.5 487.1,67.5 484.9,64.5 483.1,61.5 481.6,58.5 480.5,55.5 479.5,51.5 478.9,47.5 478.7,43.5 478.9,40.4 479.5,36.4 480.5,32.4 481.6,29.4 483.6,25.4 485.4,22.4 487.7,19.4Z"/>
<path fill="#e286b8" d="M497.3,16.4 498.7,15.4 539.3,15.4 543.2,18.6 546.6,22.4 548.6,25.4 550.1,28.4 551.3,31.4 552.2,34.4 552.8,37.4 553.1,40.4 553.0,44.5 552.6,47.5 551.7,51.5 550.7,54.5 549.4,57.5 547.7,60.5 545.7,63.5 543.2,66.4 541.1,68.5 538.2,70.9 535.2,73.0 532.2,74.7 529.2,76.0 526.2,77.0 522.2,78.0 519.2,78.4 515.2,78.5 512.2,78.3 509.2,77.8 505.2,76.7 502.2,75.5 499.2,73.9 496.2,71.9 494.2,70.3 492.2,68.3 489.8,65.5 487.7,62.5 486.1,59.5 484.9,56.5 484.0,53.5 483.3,50.5 482.9,46.5 482.9,43.5 483.3,39.4 483.9,36.4 485.2,32.4 486.5,29.4 488.2,26.4 490.2,23.4 492.2,21.0 494.8,18.4Z"/>
<path fill="#e181b5" d="M503.9,16.4 505.9,15.4 533.6,15.4 538.2,18.0 542.2,21.3 545.7,25.4 548.2,29.4 549.5,32.4 550.5,35.4 551.1,38.4 551.4,41.4 551.4,44.5 551.1,47.5 550.6,50.5 549.7,53.5 548.5,56.5 546.9,59.5 545.0,62.5 543.2,64.7 540.5,67.5 538.2,69.5 535.2,71.6 532.2,73.3 529.2,74.6 526.2,75.6 523.2,76.3 520.2,76.7 516.2,76.8 513.2,76.6 510.2,76.1 507.2,75.2 502.2,73.0 499.8,71.5 497.2,69.5 495.1,67.5 492.5,64.5 491.1,62.5 489.4,59.5 488.2,56.5 487.2,53.5 486.6,50.5 486.3,47.5 486.3,44.5 486.5,41.4 487.1,38.4 487.9,35.4 489.0,32.4 490.5,29.4 492.2,26.8 494.0,24.4 495.9,22.4 498.2,20.3 501.2,18.0Z"/>
<path fill="#df7cb1" d="M511.6,16.4 516.3,15.4 524.3,15.4 527.2,15.9 530.2,16.8 533.2,18.0 535.2,19.0 538.2,20.9 540.2,22.5 542.2,24.5 544.2,26.8 546.0,29.4 547.2,31.8 548.3,34.4 549.2,37.4 549.7,40.4 549.9,43.5 549.9,46.5 549.4,49.5 548.7,52.5 547.7,55.5 546.7,57.5 545.0,60.5 543.2,63.0 541.1,65.5 539.0,67.5 536.2,69.7 534.2,70.9 531.2,72.5 528.2,73.7 525.2,74.6 520.2,75.3 517.2,75.4 514.2,75.1 511.2,74.6 508.2,73.6 505.5,72.5 503.2,71.3 500.6,69.5 498.2,67.5 496.3,65.5 494.7,63.5 493.3,61.5 491.7,58.5 490.5,55.5 489.7,52.5 489.2,49.5 489.0,46.5 489.4,41.4 490.0,38.4 491.0,35.4 491.8,33.4 493.4,30.4 495.2,27.7 497.1,25.4 499.1,23.4 501.2,21.7 503.2,20.2 506.2,18.5 509.2,17.2Z"/>
<path fill="#de77ae" d="M513.4,18.4 518.2,17.6 521.2,17.5 524.2,17.7 527.2,18.2 530.2,19.1 532.2,19.8 535.2,21.4 537.2,22.7 539.4,24.4 541.2,26.1 543.2,28.5 544.5,30.4 546.1,33.4 547.0,35.4 547.9,38.4 548.6,43.5 548.6,46.5 548.2,49.5 547.5,52.5 546.5,55.5 545.0,58.5 543.8,60.5 542.2,62.7 540.2,65.0 538.2,66.8 535.2,69.1 533.2,70.3 530.2,71.8 525.2,73.4 522.2,73.9 519.2,74.1 514.2,73.7 511.2,73.0 509.2,72.3 506.2,71.0 504.2,69.8 502.2,68.5 499.9,66.5 498.0,64.5 496.4,62.5 494.6,59.5 493.6,57.5 492.9,55.5 492.0,52.5 491.4,47.5 491.5,44.5 491.8,41.4 493.2,36.4 494.6,33.4 495.7,31.4 497.2,29.2 499.2,26.8 501.2,24.9 503.2,23.3 505.2,21.9 508.2,20.3 511.2,19.1Z"/>
<path fill="#dd73ac" d="M513.9,20.4 516.2,19.9 519.2,19.5 524.2,19.7 529.2,20.7 532.2,21.9 534.2,22.9 538.2,25.6 540.2,27.5 542.2,29.8 544.0,32.4 545.0,34.4 545.8,36.4 546.7,39.4 547.4,44.5 547.3,47.5 546.9,50.5 546.4,52.5 545.4,55.5 543.9,58.5 542.7,60.5 539.4,64.5 537.2,66.5 535.2,68.0 533.2,69.2 530.2,70.7 525.2,72.3 522.2,72.8 519.2,72.9 514.2,72.4 512.2,71.9 509.2,70.8 505.2,68.7 503.2,67.2 501.3,65.5 499.4,63.5 497.9,61.5 495.7,57.5 494.9,55.5 494.0,52.5 493.4,47.5 493.8,42.5 494.4,39.4 495.1,37.4 496.4,34.4 497.6,32.4 500.6,28.4 504.2,25.2 506.2,23.8 509.2,22.1Z"/>
<path fill="#db6ca8" d="M518.1,21.4 520.2,21.2 523.2,21.3 526.2,21.7 528.2,22.2 530.2,22.8 533.2,24.1 537.2,26.8 539.2,28.6 540.9,30.4 543.5,34.4 544.5,36.4 545.5,39.4 546.2,43.5 546.3,45.5 546.2,48.5 545.7,51.5 545.1,53.5 543.9,56.5 542.9,58.5 540.0,62.5 538.2,64.4 536.2,66.1 532.2,68.7 529.2,70.1 527.2,70.8 525.2,71.3 522.2,71.7 518.2,71.7 515.2,71.3 513.2,70.9 510.2,69.8 508.2,68.9 504.2,66.2 502.3,64.5 500.6,62.5 498.0,58.5 496.3,54.5 495.8,52.5 495.3,49.5 495.3,44.5 495.8,41.4 496.3,39.4 497.5,36.4 498.5,34.4 501.2,30.6 503.2,28.4 505.2,26.7 509.2,24.2 513.2,22.5 515.2,21.9Z"/>
<path fill="#da69a6" d="M515.8,23.4 520.2,22.8 523.2,22.8 525.2,23.0 528.2,23.7 530.2,24.4 534.2,26.3 536.2,27.7 538.2,29.4 541.2,33.0 542.7,35.4 543.6,37.4 544.8,41.4 545.3,45.5 545.3,47.5 544.9,50.5 544.5,52.5 543.4,55.5 541.2,59.5 539.8,61.5 538.0,63.5 534.2,66.6 530.2,68.8 527.2,69.8 525.2,70.3 522.2,70.7 520.2,70.8 516.2,70.4 514.2,70.0 511.2,69.0 507.2,66.8 505.2,65.3 503.2,63.5 500.8,60.5 498.6,56.5 497.9,54.5 497.1,51.5 496.8,49.5 496.7,46.5 496.9,44.5 497.4,41.4 498.8,37.4 501.1,33.4 503.5,30.4 505.2,28.8 507.2,27.3 511.2,25.0 513.2,24.2Z"/>
<path fill="#d965a4" d="M517.9,24.4 522.2,24.1 524.2,24.2 527.2,24.8 531.2,26.2 535.2,28.5 538.5,31.4 541.2,35.0 542.5,37.4 543.3,39.4 544.2,43.5 544.4,47.5 544.0,50.5 543.6,52.5 542.5,55.5 541.5,57.5 539.2,61.0 536.2,64.1 534.2,65.6 532.2,66.9 528.2,68.7 526.2,69.2 523.2,69.8 519.2,69.9 515.2,69.2 511.2,67.8 509.2,66.8 507.2,65.5 503.9,62.5 502.3,60.5 501.0,58.5 499.2,54.5 498.3,50.5 498.1,46.5 498.4,43.5 498.9,41.4 500.4,37.4 502.8,33.4 505.5,30.4 509.2,27.6 513.2,25.7 515.2,25.0Z"/>
<path fill="#d861a2" d="M519.8,25.4 524.2,25.5 528.2,26.3 532.2,27.9 534.2,29.1 536.2,30.7 539.2,33.9 541.4,37.4 542.9,41.4 543.5,45.5 543.4,49.5 542.5,53.5 540.7,57.5 539.4,59.5 537.8,61.5 536.2,63.1 534.2,64.7 530.2,67.1 526.2,68.4 522.2,69.0 518.2,68.9 514.2,68.0 510.2,66.2 508.2,64.9 506.4,63.5 503.7,60.5 502.3,58.5 501.3,56.5 499.9,52.5 499.4,48.5 499.5,44.5 500.5,40.4 502.3,36.4 503.7,34.4 505.2,32.6 508.2,29.9 510.2,28.5 512.2,27.5 516.2,26.0Z"/>
<path fill="#d65a9f" d="M515.4,27.4 519.2,26.6 521.2,26.4 524.2,26.5 528.2,27.4 532.2,29.1 535.6,31.4 538.5,34.4 540.4,37.4 542.0,41.4 542.7,45.5 542.6,49.5 541.7,53.5 539.9,57.5 537.2,61.1 534.2,63.9 531.2,65.8 527.2,67.4 523.2,68.2 519.2,68.2 515.2,67.4 511.2,65.7 507.9,63.5 504.9,60.5 502.9,57.5 501.3,53.5 500.5,49.5 500.5,45.5 501.4,41.4 503.1,37.4 505.2,34.3 508.2,31.3 511.2,29.3 513.2,28.2Z"/>
<path fill="#d4539b" d="M518.7,28.4 522.2,28.1 526.2,28.6 530.2,29.9 533.2,31.6 536.2,34.1 538.7,37.4 539.8,39.4 540.6,41.4 541.3,44.5 541.4,48.5 540.8,52.5 539.1,56.5 537.2,59.4 534.2,62.4 531.2,64.5 528.2,65.9 524.2,66.8 520.2,67.0 517.2,66.5 515.2,66.0 513.2,65.2 510.2,63.4 507.0,60.5 504.8,57.5 503.4,54.5 502.4,50.5 502.2,47.5 502.7,43.5 504.1,39.4 505.8,36.4 508.2,33.7 511.2,31.3 513.2,30.2 515.2,29.3Z"/>
<path fill="#d34f99" d="M517.2,30.4 520.2,29.8 524.2,29.8 528.2,30.7 531.2,32.1 534.2,34.2 536.3,36.4 538.3,39.4 539.1,41.4 539.8,43.5 540.2,47.5 540.0,50.5 539.2,53.5 537.8,56.5 535.7,59.5 533.2,61.8 530.2,63.7 526.2,65.2 522.2,65.8 519.2,65.6 516.2,64.9 514.2,64.1 512.2,63.1 509.2,60.7 507.3,58.5 505.5,55.5 504.4,52.5 503.9,49.5 504.0,45.5 505.0,41.4 506.5,38.4 508.8,35.4 511.2,33.4 514.2,31.5Z"/>
<path fill="#d14895" d="M519.9,31.4 523.2,31.3 526.2,31.7 529.2,32.7 532.2,34.4 534.5,36.4 536.8,39.4 538.1,42.5 538.9,45.5 539.0,48.5 538.6,51.5 537.6,54.5 535.8,57.5 534.1,59.5 531.2,61.9 528.2,63.4 526.2,64.0 524.2,64.4 521.2,64.6 518.2,64.1 515.2,63.2 512.2,61.4 509.9,59.5 507.6,56.5 506.2,53.5 505.5,50.5 505.3,47.5 505.7,44.5 506.7,41.4 508.4,38.4 510.2,36.3 513.2,33.9 516.2,32.4 518.2,31.7Z"/>
<path fill="#cf4191" d="M517.6,33.4 520.2,32.8 523.2,32.7 526.2,33.1 529.2,34.2 532.2,36.1 534.2,38.1 535.9,40.4 537.2,43.5 537.8,46.5 537.8,49.5 537.1,52.5 535.8,55.5 534.2,57.8 532.2,59.8 529.2,61.7 526.2,62.9 523.2,63.4 520.2,63.3 517.2,62.6 514.2,61.2 511.9,59.5 510.0,57.5 508.6,55.5 507.4,52.5 506.8,49.5 506.9,46.5 507.5,43.5 508.8,40.4 510.2,38.4 512.2,36.4 514.2,35.0Z"/>
<path fill="#cd3a8d" d="M519.0,34.4 522.2,34.0 525.2,34.3 528.2,35.2 530.2,36.3 532.2,37.8 534.4,40.4 535.5,42.5 536.5,45.5 536.7,47.5 536.5,50.5 535.6,53.5 534.2,56.0 532.2,58.4 530.2,59.9 528.2,61.0 525.2,62.0 522.2,62.3 519.2,62.0 516.2,60.9 514.2,59.8 512.2,58.1 510.8,56.5 509.6,54.5 508.5,51.5 508.1,48.5 508.4,45.5 509.4,42.5 510.5,40.4 512.2,38.3 514.2,36.6 516.2,35.4Z"/>
<path fill="#cb3289" d="M520.4,35.4 523.2,35.3 525.2,35.5 527.2,36.1 530.2,37.7 532.2,39.4 533.7,41.4 534.7,43.5 535.5,46.5 535.5,49.5 535.2,51.5 533.9,54.5 532.6,56.5 531.2,57.9 529.2,59.3 527.2,60.3 524.2,61.1 521.2,61.2 519.2,60.8 517.2,60.1 514.4,58.5 512.3,56.5 511.0,54.5 510.1,52.5 509.5,50.5 509.4,47.5 509.7,45.5 510.8,42.5 512.0,40.4 513.9,38.4 516.2,36.9 518.2,36.0Z"/>
<path fill="#ca2f88" d="M521.9,36.4 524.2,36.5 526.2,36.9 528.2,37.8 530.6,39.4 532.4,41.4 533.6,43.5 534.2,45.5 534.6,47.5 534.5,49.5 533.8,52.5 532.8,54.5 531.2,56.5 529.2,58.2 527.2,59.2 525.2,59.9 523.2,60.2 521.2,60.1 519.2,59.7 517.2,59.0 514.9,57.5 513.0,55.5 511.7,53.5 511.0,51.5 510.6,49.5 510.7,46.5 511.2,44.5 512.1,42.5 513.6,40.4 515.2,38.9 517.2,37.7 519.2,36.9Z"/>
<path fill="#c82884" d="M518.1,38.4 520.2,37.7 522.2,37.5 524.2,37.6 526.2,38.1 528.2,39.0 530.2,40.4 531.2,41.6 532.4,43.5 533.2,45.5 533.6,47.5 533.5,49.5 532.8,52.5 531.7,54.5 530.2,56.2 529.2,57.0 527.2,58.2 525.2,58.9 523.2,59.2 520.2,59.0 518.2,58.3 516.6,57.5 515.2,56.4 513.5,54.5 512.4,52.5 511.8,50.5 511.6,48.5 511.8,46.5 512.4,44.5 513.4,42.5 515.1,40.4 516.3,39.4Z"/>
<path fill="#c62080" d="M518.4,39.4 520.2,38.8 522.2,38.5 524.2,38.6 526.2,39.1 528.2,40.1 529.8,41.4 530.7,42.5 531.9,44.5 532.6,47.5 532.6,49.5 532.2,51.5 531.2,53.5 530.2,54.9 529.2,55.9 527.2,57.2 525.2,58.0 523.2,58.3 521.2,58.2 519.2,57.7 517.2,56.7 515.6,55.5 514.7,54.5 513.5,52.5 512.8,50.5 512.6,48.5 512.8,46.5 513.4,44.5 514.6,42.5 515.5,41.4 517.2,40.1Z"/>
<path fill="#c41a7c" d="M521.9,39.4 523.2,39.4 525.2,39.7 526.2,40.1 528.2,41.2 529.5,42.5 530.9,44.5 531.6,46.5 531.8,47.5 531.8,49.5 531.3,51.5 530.8,52.5 529.4,54.5 528.2,55.6 526.2,56.8 525.2,57.1 523.2,57.4 520.2,57.1 518.2,56.3 517.0,55.5 515.9,54.5 514.5,52.5 513.8,50.5 513.6,49.5 513.6,47.5 514.1,45.5 515.1,43.5 515.8,42.5 517.2,41.2 518.2,40.6 520.2,39.7Z"/>
<path fill="#c2197a" d="M520.9,40.4 522.2,40.2 524.2,40.4 526.2,41.0 527.2,41.5 528.2,42.3 529.3,43.5 530.0,44.5 530.8,46.5 531.0,47.5 531.0,49.5 530.8,50.5 529.9,52.5 528.2,54.6 527.2,55.3 525.2,56.3 523.2,56.6 522.2,56.6 520.2,56.3 519.2,55.9 517.2,54.6 516.2,53.5 515.5,52.5 514.6,50.5 514.5,49.5 514.5,47.5 514.6,46.5 515.4,44.5 517.0,42.5 518.2,41.6 519.2,41.0Z"/>
<path fill="#bd1777" d="M520.2,41.4 521.2,41.1 523.2,41.0 524.2,41.1 526.2,41.8 528.2,43.3 529.6,45.5 530.0,46.5 530.3,48.5 530.0,50.5 529.6,51.5 528.2,53.6 527.1,54.5 525.2,55.5 524.2,55.8 522.2,55.9 521.2,55.8 519.2,55.1 517.2,53.5 516.4,52.5 515.5,50.5 515.3,49.5 515.3,47.5 515.8,45.5 517.2,43.4 518.3,42.5Z"/>
<path fill="#b91574" d="M519.7,42.5 521.2,41.9 522.2,41.7 524.2,41.8 525.2,42.2 527.3,43.5 528.9,45.5 529.5,47.5 529.6,48.5 529.3,50.5 528.2,52.5 527.3,53.5 526.2,54.3 524.2,55.1 522.2,55.2 521.2,55.1 519.2,54.3 518.2,53.5 516.6,51.5 516.0,49.5 515.9,48.5 516.2,46.5 517.3,44.5 518.2,43.4Z"/>
<path fill="#b51370" d="M521.9,42.5 524.2,42.5 526.2,43.4 527.4,44.5 528.1,45.5 528.9,47.5 528.9,49.5 528.6,50.5 527.4,52.5 526.2,53.6 525.2,54.1 523.2,54.6 521.2,54.4 520.2,54.1 519.2,53.5 518.1,52.5 517.3,51.5 516.6,49.5 516.6,47.5 516.9,46.5 518.1,44.5 519.2,43.5 520.2,42.9Z"/>
<path fill="#b1116d" d="M520.5,43.5 522.2,43.0 523.2,42.9 525.2,43.5 526.6,44.5 527.4,45.5 528.0,46.5 528.4,48.5 528.0,50.5 527.5,51.5 526.6,52.5 525.2,53.5 523.2,54.0 521.2,53.8 520.2,53.4 518.9,52.5 518.0,51.5 517.5,50.5 517.2,48.5 517.5,46.5 518.1,45.5 518.9,44.5Z"/>
<path fill="#ae106b" d="M519.8,44.5 521.2,43.7 523.2,43.5 524.2,43.7 525.2,44.1 526.8,45.5 527.7,47.5 527.8,49.5 526.8,51.5 525.2,52.9 523.2,53.5 521.2,53.3 520.2,52.8 518.7,51.5 517.8,49.5 517.8,47.5 518.7,45.5Z"/>
<path fill="#aa0e68" d="M520.8,44.5 522.2,44.0 523.2,44.0 524.2,44.2 525.2,44.7 526.1,45.5 526.9,46.5 527.3,48.5 526.9,50.5 526.2,51.5 525.2,52.3 524.2,52.8 522.2,53.0 521.2,52.8 520.2,52.2 519.3,51.5 518.6,50.5 518.2,48.5 518.3,47.5 518.7,46.5 519.4,45.5Z"/>
<path fill="#a60c65" d="M520.1,45.5 521.2,44.7 523.2,44.5 524.2,44.7 525.2,45.2 526.2,46.3 526.8,47.5 526.9,48.5 526.8,49.5 526.4,50.5 525.2,51.8 524.2,52.3 522.2,52.5 521.2,52.3 520.0,51.5 519.2,50.5 518.7,49.5 518.6,48.5 518.8,47.5 519.2,46.5Z"/>
<path fill="#a10a61" d="M520.8,45.5 522.2,44.8 523.2,44.8 524.2,45.1 525.2,45.7 525.9,46.5 526.3,47.5 526.5,48.5 526.4,49.5 525.9,50.5 525.2,51.3 524.2,51.9 523.2,52.2 522.2,52.2 521.2,51.9 520.2,51.1 519.6,50.5 519.2,49.5 519.1,48.5 519.2,47.5 519.7,46.5Z"/>
<path fill="#9d085e" d="M521.6,45.5 522.2,45.2 523.2,45.2 524.2,45.5 525.4,46.5 526.0,47.5 526.1,48.5 526.0,49.5 525.5,50.5 524.2,51.5 523.2,51.8 522.2,51.8 521.2,51.4 520.1,50.5 519.5,49.5 519.4,48.5 519.6,47.5 520.2,46.4 521.2,45.6Z"/>
<path fill="#9b075c" d="M520.6,46.5 521.2,45.9 522.2,45.6 523.2,45.6 524.2,45.9 524.9,46.5 525.6,47.5 525.8,48.5 525.7,49.5 525.0,50.5 524.2,51.2 523.2,51.4 522.2,51.4 521.2,51.1 520.5,50.5 519.9,49.5 519.7,48.5 519.9,47.5Z"/>
<path fill="#970559" d="M521.1,46.5 522.2,45.8 523.2,45.8 524.2,46.2 525.2,47.4 525.5,48.5 525.3,49.5 524.2,50.8 523.2,51.2 522.2,51.2 520.9,50.5 520.3,49.5 520.1,48.5 520.3,47.5Z"/>
<path fill="#920355" d="M521.6,46.5 522.2,46.1 523.2,46.1 524.2,46.6 525.0,47.5 525.2,48.5 525.0,49.5 524.2,50.4 523.2,51.0 522.2,50.9 521.2,50.3 520.5,49.5 520.3,48.5 520.5,47.5Z"/>
<path fill="#8e0152" d="M522.2,46.5 523.2,46.4 524.2,46.9 524.7,47.5 525.0,48.5 524.8,49.5 524.2,50.2 523.2,50.7 522.2,50.6 521.2,50.0 520.8,49.5 520.5,48.5 520.8,47.5 521.2,47.0Z"/>
<path fill="#8e0152" d="M521.1,47.5 522.2,46.8 523.2,46.8 524.2,47.2 524.5,47.5 524.7,48.5 524.5,49.5 524.2,49.9 523.2,50.3 522.2,50.2 521.1,49.5 520.8,48.5Z"/>
</g>
<g clip-path="url(#cd1)" shape-rendering="geometricPrecision">
<rect x="300.0" y="205.6" width="159.3" height="158.0" fill="#e9f5d8"/>
<path fill="#c0e593" d="M418.8,205.6 459.3,205.6 459.3,363.6 300.0,363.6 300.0,304.9 313.0,301.8 325.0,298.5 335.1,295.1 345.1,291.2 354.1,287.0 363.1,281.9 371.1,276.6 378.1,271.2 385.2,264.7 390.9,258.6 396.5,251.6 401.9,243.6 406.5,235.6 410.9,226.6 415.0,216.6Z"/>
<path fill="#aeda7a" d="M430.1,206.6 430.8,205.6 459.3,205.6 459.3,363.6 300.0,363.6 300.0,333.0 303.9,328.6 308.9,323.6 314.5,318.6 319.5,314.6 330.6,306.6 354.1,291.3 365.1,283.7 371.1,279.2 376.1,275.2 385.2,267.0 389.5,262.6 394.1,257.6 398.3,252.6 402.9,246.6 410.7,235.6 424.2,215.1Z"/>
<path fill="#a3d36c" d="M450.3,206.6 452.3,205.6 459.3,205.6 459.3,363.6 317.3,363.6 317.8,356.6 318.8,350.6 320.5,343.6 322.6,337.6 325.2,331.6 328.5,325.6 332.5,319.6 337.1,313.6 342.5,307.6 349.7,300.6 356.4,294.6 376.1,277.7 382.2,272.2 388.0,266.6 398.4,255.6 419.2,231.8 428.2,222.6 433.3,218.1 439.3,213.4 444.3,210.1Z"/>
<path fill="#9acd61" d="M456.2,218.6 459.3,218.0 459.3,363.6 338.1,363.6 337.0,355.6 336.8,347.6 337.5,339.6 338.2,335.6 339.2,331.6 341.6,324.6 343.3,320.6 345.4,316.6 349.6,309.6 354.8,302.6 360.0,296.6 366.7,289.6 388.4,268.6 410.2,246.5 416.2,240.8 421.2,236.5 429.2,230.4 434.3,227.2 438.3,225.0 442.3,223.1 447.3,221.1 451.3,219.8Z"/>
<path fill="#93c959" d="M451.2,229.6 455.3,229.1 459.3,228.9 459.3,363.6 353.4,363.6 351.9,359.6 350.7,355.6 349.8,351.6 349.2,347.6 348.8,342.6 348.7,338.6 348.9,334.6 349.3,330.6 350.1,326.6 351.1,322.6 352.4,318.6 353.9,314.6 355.8,310.6 358.0,306.6 360.4,302.6 363.2,298.6 367.1,293.6 371.4,288.6 382.8,276.6 402.2,257.5 409.2,251.1 415.2,246.2 419.2,243.1 424.2,239.8 429.2,236.9 433.3,234.9 437.3,233.2 442.3,231.6 447.3,230.3Z"/>
<path fill="#8cc551" d="M446.0,237.6 452.3,237.2 459.3,237.5 459.3,363.6 365.8,363.6 363.6,359.6 361.7,355.6 360.2,351.6 359.0,347.6 358.1,343.6 357.4,339.6 357.0,334.6 357.0,330.6 357.3,326.6 357.8,322.6 358.7,318.6 359.8,314.6 361.2,310.6 363.0,306.6 365.0,302.6 367.4,298.6 370.8,293.6 374.6,288.6 378.8,283.6 384.3,277.6 391.2,270.6 398.2,263.9 404.2,258.5 410.2,253.6 415.2,249.9 419.2,247.3 423.2,245.0 428.2,242.5 432.2,240.9 437.3,239.3 441.3,238.4Z"/>
<path fill="#88c24c" d="M442.3,243.6 446.3,243.3 450.3,243.4 455.3,243.8 459.3,244.5 459.3,363.6 376.7,363.6 374.1,360.3 371.7,356.6 369.4,352.6 367.6,348.6 366.0,344.6 364.9,340.6 363.8,335.6 363.4,331.6 363.2,327.6 363.4,322.6 363.9,318.6 364.7,314.6 365.8,310.6 367.2,306.6 368.9,302.6 371.0,298.6 374.0,293.6 377.5,288.6 381.5,283.6 385.8,278.6 390.6,273.6 396.2,268.1 402.2,262.8 407.2,258.7 412.2,255.1 416.2,252.6 420.2,250.3 425.2,248.0 429.2,246.5 433.3,245.2 438.3,244.1Z"/>
<path fill="#83bf46" d="M437.2,248.6 442.3,248.2 448.3,248.4 454.3,249.3 459.3,250.6 459.3,363.6 386.8,363.6 383.7,360.6 381.0,357.6 378.1,354.0 375.9,350.6 373.7,346.6 371.9,342.6 370.5,338.6 369.4,334.6 368.6,330.6 368.2,326.6 368.1,322.6 368.4,317.6 369.0,313.6 369.9,309.6 371.1,305.6 372.7,301.6 374.6,297.6 377.5,292.6 380.8,287.6 383.9,283.6 388.2,278.6 392.9,273.6 397.2,269.5 402.2,265.2 406.2,262.0 410.2,259.2 415.2,256.1 419.2,254.0 423.2,252.2 428.2,250.5 433.3,249.2Z"/>
<path fill="#7fbc41" d="M434.1,252.6 440.3,252.2 444.3,252.3 447.3,252.6 453.3,253.8 459.3,255.8 459.3,363.6 397.0,363.6 393.2,361.0 390.2,358.5 387.2,355.7 384.2,352.4 381.2,348.6 379.1,345.4 377.1,341.6 375.4,337.6 374.0,333.6 373.0,329.6 372.4,325.6 372.1,321.6 372.2,316.6 372.7,312.6 373.5,308.6 374.6,304.6 376.5,299.6 378.4,295.6 380.6,291.6 383.9,286.6 387.0,282.6 391.2,277.8 395.2,273.6 399.2,269.9 404.2,265.8 408.2,262.9 412.2,260.4 416.2,258.2 421.2,256.0 425.2,254.5 430.2,253.2Z"/>
<path fill="#7dba40" d="M435.6,255.6 441.3,255.6 447.3,256.4 453.3,258.0 459.3,260.5 459.3,358.9 454.3,361.6 449.5,363.6 408.7,363.6 404.2,361.7 400.2,359.5 396.2,356.9 393.2,354.5 389.2,350.8 386.3,347.6 384.1,344.6 381.5,340.6 379.5,336.6 378.0,332.6 376.8,328.6 375.9,323.6 375.5,319.6 375.6,314.6 376.0,310.6 376.8,306.6 377.9,302.6 379.8,297.6 381.8,293.6 384.8,288.6 387.6,284.6 391.7,279.6 395.4,275.6 400.2,271.2 404.2,268.0 408.2,265.1 413.2,262.1 417.2,260.1 422.2,258.2 426.2,257.0 431.2,256.0Z"/>
<path fill="#79b73d" d="M432.1,258.6 435.3,258.4 439.3,258.5 443.3,259.0 446.3,259.6 449.3,260.4 453.3,261.8 456.3,263.1 459.3,264.8 459.3,353.1 455.3,355.6 451.3,357.6 447.3,359.3 442.3,360.8 437.3,361.9 433.3,362.4 428.2,362.6 424.2,362.4 420.2,362.0 415.2,360.9 410.2,359.4 406.2,357.7 402.2,355.6 398.2,353.1 394.2,349.9 390.8,346.6 387.5,342.6 385.2,339.2 382.6,334.6 381.0,330.6 379.8,326.6 378.8,321.6 378.4,317.6 378.5,312.6 379.0,308.6 380.0,303.6 381.7,298.6 383.4,294.6 385.6,290.6 388.9,285.6 392.0,281.6 396.2,277.0 400.2,273.2 404.2,270.0 408.2,267.2 413.2,264.3 418.2,262.0 423.2,260.2 427.2,259.3Z"/>
<path fill="#77b53c" d="M427.0,261.6 431.2,261.1 435.3,261.0 439.3,261.2 444.3,262.1 448.3,263.2 452.3,264.7 455.9,266.6 459.3,268.7 459.3,348.0 456.3,350.2 452.3,352.5 449.3,354.0 445.3,355.6 441.3,356.9 437.3,357.8 433.3,358.3 429.2,358.6 424.2,358.5 420.2,358.0 415.2,356.9 411.2,355.7 406.2,353.5 402.2,351.3 398.3,348.6 395.2,346.0 392.2,342.9 389.2,339.2 386.8,335.6 384.7,331.6 383.2,327.6 382.0,323.6 381.3,319.6 381.0,314.6 381.1,310.6 381.8,305.6 382.8,301.6 384.2,297.6 385.9,293.6 388.1,289.6 390.8,285.6 394.2,281.3 397.6,277.6 401.2,274.3 405.2,271.1 409.2,268.5 413.2,266.2 418.2,264.0 422.2,262.7Z"/>
<path fill="#75b43b" d="M427.4,263.6 432.2,263.2 436.3,263.3 440.3,263.8 444.3,264.7 448.3,266.0 452.3,267.8 456.3,270.2 459.3,272.4 459.3,343.5 456.3,345.8 452.3,348.5 448.3,350.6 444.3,352.3 440.3,353.5 436.3,354.4 432.2,355.0 428.2,355.2 423.2,354.9 419.2,354.4 415.2,353.4 411.2,352.1 407.2,350.4 404.2,348.7 400.2,346.1 397.2,343.6 394.1,340.6 391.2,337.0 388.9,333.6 386.9,329.6 385.3,325.6 384.2,321.6 383.5,317.6 383.2,313.6 383.3,309.6 383.8,305.6 384.7,301.6 386.4,296.6 388.3,292.6 390.6,288.6 393.3,284.6 395.8,281.6 399.2,278.0 403.2,274.5 407.2,271.5 411.2,269.1 415.2,267.1 419.2,265.5 423.2,264.4Z"/>
<path fill="#73b239" d="M426.5,265.6 431.2,265.2 435.3,265.3 440.3,266.0 444.3,267.1 448.3,268.6 452.3,270.7 456.3,273.3 459.3,275.8 459.3,339.2 456.3,341.9 452.6,344.6 449.3,346.6 445.3,348.5 441.3,350.0 437.3,351.1 433.3,351.8 429.2,352.1 424.2,352.0 420.2,351.5 416.2,350.7 412.2,349.4 409.2,348.2 405.2,346.1 401.2,343.4 398.2,340.9 395.2,337.8 392.6,334.6 390.7,331.6 388.6,327.6 387.4,324.6 386.3,320.6 385.5,316.6 385.3,312.6 385.4,308.6 385.9,304.6 386.8,300.6 388.2,296.6 389.5,293.6 391.6,289.6 394.3,285.6 397.2,282.1 400.5,278.6 404.0,275.6 407.2,273.2 411.2,270.8 415.2,268.8 419.2,267.3 423.2,266.2Z"/>
<path fill="#6faf37" d="M424.5,267.6 429.2,267.1 434.3,267.1 439.3,267.9 443.3,268.9 448.3,271.0 452.3,273.3 456.3,276.3 459.3,279.2 459.3,335.3 456.3,338.3 453.3,340.8 450.3,342.9 446.3,345.1 442.3,346.8 438.3,348.1 434.3,348.9 430.2,349.4 426.2,349.5 422.2,349.2 418.2,348.5 414.2,347.4 410.2,345.8 407.2,344.3 404.2,342.5 401.2,340.3 398.2,337.5 395.5,334.6 393.3,331.6 391.5,328.6 389.7,324.6 388.6,321.6 387.7,317.6 387.2,313.6 387.1,309.6 387.4,305.6 388.0,302.6 389.1,298.6 390.6,294.6 392.1,291.6 394.5,287.6 396.7,284.6 399.3,281.6 402.4,278.6 405.2,276.3 409.2,273.5 412.2,271.8 416.2,270.0 420.2,268.6Z"/>
<path fill="#6bac34" d="M422.7,270.6 428.2,269.9 433.3,270.0 438.3,270.8 443.3,272.4 448.3,274.9 452.2,277.6 456.3,281.3 459.3,285.0 459.3,328.6 457.0,331.6 454.2,334.6 451.3,337.1 447.3,339.9 444.3,341.5 440.3,343.2 436.3,344.4 432.2,345.1 428.2,345.5 424.2,345.4 421.2,345.0 417.2,344.2 413.2,342.9 410.2,341.6 407.2,339.9 404.2,337.9 401.4,335.6 399.2,333.3 396.9,330.6 394.9,327.6 393.3,324.6 392.1,321.6 390.9,317.6 390.3,314.6 390.0,310.6 390.0,307.6 390.5,303.6 391.4,299.6 392.8,295.6 394.1,292.6 395.8,289.6 397.9,286.6 400.4,283.6 403.2,280.8 406.2,278.2 409.2,276.1 412.2,274.4 415.2,272.9 419.2,271.5Z"/>
<path fill="#69aa33" d="M428.0,272.6 432.2,272.7 436.3,273.4 440.3,274.5 444.3,276.3 448.1,278.6 451.3,281.1 454.3,284.2 456.8,287.6 459.3,292.0 459.3,320.9 456.7,325.6 453.7,329.6 449.6,333.6 445.3,336.6 440.3,339.2 435.3,340.8 430.2,341.6 425.2,341.8 422.2,341.5 419.2,341.0 416.2,340.2 413.2,339.1 410.2,337.6 407.2,335.8 404.3,333.6 402.2,331.6 400.2,329.4 398.1,326.6 396.3,323.6 395.0,320.6 393.9,317.6 393.2,314.6 392.8,311.6 392.7,307.6 392.9,304.6 393.7,300.6 394.5,297.6 395.7,294.6 397.3,291.6 399.2,288.6 401.2,286.0 403.3,283.6 406.2,281.0 409.2,278.8 412.2,276.9 415.2,275.5 418.2,274.3 421.2,273.5 424.2,272.9Z"/>
<path fill="#66a731" d="M423.0,275.6 426.2,275.2 429.2,275.2 432.2,275.4 435.3,276.0 438.3,276.8 441.3,278.1 444.3,279.7 447.1,281.6 449.3,283.5 451.3,285.6 452.9,287.6 454.9,290.6 456.4,293.6 457.6,296.6 458.4,299.6 458.9,302.6 459.1,305.6 458.9,309.6 458.4,312.6 457.6,315.6 456.6,318.6 455.1,321.6 453.3,324.5 451.7,326.6 449.9,328.6 447.3,331.0 445.2,332.6 442.3,334.4 439.3,335.9 436.3,337.0 433.3,337.7 430.2,338.2 427.2,338.4 424.2,338.3 421.2,338.0 418.2,337.3 415.2,336.3 412.2,335.0 409.2,333.3 407.2,331.9 404.6,329.6 402.7,327.6 401.1,325.6 399.2,322.6 397.7,319.6 396.9,317.6 396.1,314.6 395.5,311.6 395.3,308.6 395.4,305.6 395.7,302.6 396.4,299.6 397.4,296.6 398.7,293.6 400.5,290.6 401.9,288.6 404.2,285.8 406.2,283.8 408.2,282.2 411.2,280.1 414.2,278.4 417.2,277.1 420.2,276.2Z"/>
<path fill="#62a32e" d="M420.1,278.6 425.2,277.7 428.2,277.6 431.2,277.8 434.3,278.4 437.3,279.3 439.3,280.1 442.3,281.7 445.0,283.6 447.3,285.6 449.2,287.6 450.7,289.6 452.0,291.6 453.6,294.6 455.2,299.6 455.9,304.6 455.9,307.6 455.6,310.6 454.9,313.6 454.0,316.6 452.6,319.6 451.4,321.6 449.3,324.6 447.4,326.6 445.3,328.6 443.3,330.1 441.3,331.3 438.3,332.9 433.3,334.5 428.2,335.3 425.2,335.3 422.2,335.0 419.2,334.4 416.2,333.5 413.2,332.2 411.2,331.1 409.1,329.6 406.7,327.6 404.7,325.6 403.1,323.6 401.8,321.6 400.2,318.6 399.4,316.6 398.5,313.6 397.8,308.6 397.8,305.6 398.1,302.6 398.8,299.6 399.8,296.6 400.7,294.6 402.4,291.6 404.2,289.1 406.2,286.8 410.2,283.3 412.2,282.0 415.2,280.4Z"/>
<path fill="#5ea02c" d="M421.2,280.6 423.2,280.2 426.2,279.9 431.2,280.2 434.3,280.9 436.3,281.6 439.3,282.9 441.3,284.1 443.4,285.6 445.6,287.6 447.4,289.6 448.8,291.6 451.0,295.6 451.8,297.6 452.6,300.6 453.1,305.6 452.7,310.6 452.0,313.6 451.3,315.6 449.8,318.6 448.6,320.6 447.2,322.6 445.3,324.6 443.3,326.5 441.3,328.0 439.3,329.2 436.3,330.6 434.3,331.3 431.2,332.1 426.2,332.5 421.2,332.0 418.2,331.3 416.2,330.5 413.2,329.1 411.2,327.8 409.2,326.3 407.4,324.6 405.6,322.6 404.2,320.6 402.1,316.6 401.3,314.6 400.6,311.6 400.1,306.6 400.6,301.6 401.4,298.6 402.2,296.6 403.6,293.6 404.9,291.6 408.2,287.7 410.2,285.9 412.2,284.5 416.2,282.3 419.2,281.1Z"/>
<path fill="#5a9d29" d="M421.9,282.6 426.2,282.1 429.2,282.2 431.2,282.5 435.3,283.7 439.3,285.6 441.3,287.0 443.1,288.6 445.8,291.6 448.2,295.6 449.1,297.6 449.9,300.6 450.4,303.6 450.5,305.6 450.2,309.6 449.8,311.6 448.8,314.6 446.8,318.6 445.4,320.6 443.6,322.6 440.3,325.5 436.3,327.8 433.3,328.9 431.2,329.4 428.2,329.8 426.2,329.9 422.2,329.6 420.2,329.2 417.2,328.2 413.2,326.2 411.2,324.8 409.2,323.0 406.4,319.6 404.2,315.6 403.4,313.6 402.7,310.6 402.4,308.6 402.3,305.6 402.8,301.6 403.6,298.6 404.4,296.6 406.7,292.6 409.2,289.6 411.2,287.7 413.2,286.2 417.2,284.1 419.2,283.3Z"/>
<path fill="#589b28" d="M422.1,284.6 426.2,284.1 430.2,284.5 434.3,285.6 436.3,286.5 438.3,287.6 440.3,289.1 442.0,290.6 444.4,293.6 445.6,295.6 446.6,297.6 447.8,301.6 448.1,305.6 447.8,309.6 446.7,313.6 444.6,317.6 443.1,319.6 441.3,321.6 438.3,323.9 434.3,326.0 430.2,327.2 426.2,327.6 422.2,327.3 418.2,326.1 414.2,324.1 411.0,321.6 408.2,318.3 406.1,314.6 404.8,310.6 404.3,306.6 404.6,302.6 405.7,298.6 407.7,294.6 409.1,292.6 410.9,290.6 414.2,287.9 418.2,285.8Z"/>
<path fill="#549825" d="M421.7,286.6 425.2,286.1 429.2,286.3 433.3,287.3 435.3,288.2 437.3,289.4 440.0,291.6 442.6,294.6 444.3,297.6 445.6,301.6 446.0,305.6 445.6,309.6 444.7,312.6 443.8,314.6 442.6,316.6 440.2,319.6 437.3,322.0 434.3,323.7 430.2,325.0 426.2,325.4 422.2,325.1 418.2,323.9 415.2,322.3 412.2,319.9 410.2,317.6 408.3,314.6 406.8,310.6 406.3,306.6 406.5,302.6 407.7,298.6 409.2,295.6 411.5,292.6 414.2,290.1 416.2,288.8 418.2,287.7Z"/>
<path fill="#509423" d="M420.9,288.6 424.2,287.9 427.2,287.8 430.2,288.3 432.2,288.9 434.3,289.7 437.3,291.7 440.2,294.6 442.1,297.6 443.3,300.6 443.9,303.6 443.9,307.6 443.0,311.6 441.6,314.6 439.3,317.6 437.3,319.5 434.3,321.5 431.2,322.7 428.2,323.4 424.2,323.4 421.2,322.9 419.2,322.2 417.2,321.3 414.2,319.2 411.8,316.6 409.9,313.6 408.7,310.6 408.1,306.6 408.2,303.6 408.8,300.6 410.0,297.6 412.0,294.6 414.2,292.3 417.2,290.2Z"/>
<path fill="#4c9121" d="M423.9,289.6 427.2,289.5 430.2,290.0 433.3,291.1 436.3,293.0 438.3,295.0 440.1,297.6 441.5,300.6 442.1,303.6 442.2,306.6 441.7,309.6 440.6,312.6 438.7,315.6 436.8,317.6 434.3,319.5 431.2,320.8 428.2,321.6 425.2,321.7 422.2,321.3 419.2,320.3 416.2,318.5 414.0,316.6 411.8,313.6 410.5,310.6 409.8,307.6 409.7,305.6 409.8,303.6 410.5,300.6 411.9,297.6 413.2,295.6 415.2,293.5 418.2,291.4 421.2,290.2Z"/>
<path fill="#4b8f21" d="M421.7,291.6 424.2,291.0 427.2,291.0 430.2,291.6 433.3,292.9 435.7,294.6 437.6,296.6 438.9,298.6 440.1,301.6 440.6,304.6 440.5,307.6 439.7,310.6 438.8,312.6 437.3,314.8 435.3,316.8 433.3,318.2 430.2,319.5 427.2,320.1 424.2,320.0 421.2,319.4 419.2,318.5 416.3,316.6 414.4,314.6 413.0,312.6 411.8,309.6 411.2,306.6 411.3,303.6 411.8,301.6 413.0,298.6 414.3,296.6 416.2,294.6 418.2,293.1 420.2,292.1Z"/>
<path fill="#488c20" d="M423.3,292.6 426.2,292.3 428.2,292.5 431.2,293.4 433.3,294.5 435.3,296.2 436.5,297.6 437.8,299.6 438.8,302.6 439.1,304.6 439.0,307.6 438.1,310.6 437.0,312.6 435.3,314.8 433.3,316.4 431.2,317.5 428.2,318.4 426.2,318.7 423.2,318.4 420.2,317.4 418.2,316.3 416.3,314.6 414.7,312.6 413.6,310.6 412.8,307.6 412.6,304.6 412.9,302.6 414.0,299.6 415.2,297.7 417.2,295.6 419.2,294.1 421.2,293.2Z"/>
<path fill="#45881f" d="M421.1,294.6 423.2,293.9 425.2,293.6 428.2,293.8 430.2,294.4 432.2,295.4 434.3,297.0 435.6,298.6 436.8,300.6 437.5,302.6 437.8,304.6 437.6,307.6 437.1,309.6 436.1,311.6 434.5,313.6 433.3,314.8 431.2,316.1 429.2,316.9 427.2,317.3 424.2,317.2 422.2,316.8 420.2,316.0 418.2,314.6 416.3,312.6 415.0,310.6 414.3,308.6 413.9,306.6 413.9,304.6 414.5,301.6 415.4,299.6 416.9,297.6 419.2,295.6Z"/>
<path fill="#42841f" d="M421.7,295.6 424.2,294.9 426.2,294.8 428.2,295.0 430.2,295.7 431.9,296.6 433.3,297.7 434.9,299.6 435.9,301.6 436.4,303.6 436.6,305.6 436.4,307.6 435.8,309.6 434.6,311.6 433.3,313.2 432.2,314.0 430.2,315.2 428.2,315.9 426.2,316.1 424.2,316.0 422.2,315.5 420.2,314.6 418.2,313.0 417.0,311.6 415.9,309.6 415.3,307.6 415.0,305.6 415.2,303.6 415.8,301.6 416.8,299.6 418.2,297.9 420.2,296.3Z"/>
<path fill="#3f811e" d="M422.0,296.6 423.2,296.1 425.2,295.8 427.2,295.9 429.2,296.4 431.2,297.5 432.6,298.6 433.5,299.6 434.7,301.6 435.5,304.6 435.4,306.6 435.0,308.6 434.0,310.6 433.2,311.6 432.2,312.6 430.2,314.0 428.2,314.8 426.2,315.1 424.2,314.9 422.2,314.4 420.2,313.3 419.2,312.5 418.2,311.4 417.0,309.6 416.3,307.6 416.1,305.6 416.3,303.6 416.9,301.6 418.1,299.6 419.0,298.6 420.2,297.6Z"/>
<path fill="#3d7f1e" d="M422.1,297.6 423.2,297.1 425.2,296.8 428.2,297.1 430.2,298.0 431.2,298.7 432.3,299.6 433.6,301.6 434.1,302.6 434.5,304.6 434.5,306.6 433.9,308.6 432.8,310.6 431.9,311.6 430.7,312.6 429.2,313.4 427.2,314.0 425.2,314.1 422.2,313.3 421.2,312.8 419.7,311.6 418.8,310.6 417.7,308.6 417.1,305.6 417.5,302.6 418.5,300.6 419.3,299.6 420.4,298.6Z"/>
<path fill="#3a7b1d" d="M422.0,298.6 423.2,298.0 425.2,297.6 427.2,297.8 428.2,298.0 430.2,299.0 431.0,299.6 432.6,301.6 433.1,302.6 433.6,304.6 433.6,306.6 433.3,307.6 432.4,309.6 431.6,310.6 430.2,311.8 429.2,312.4 427.2,313.1 426.2,313.2 424.2,313.1 423.2,312.8 421.2,311.8 420.2,310.9 418.6,308.6 418.0,306.6 417.9,305.6 418.0,304.6 418.5,302.6 419.6,300.6 420.6,299.6Z"/>
<path fill="#37781c" d="M424.2,298.6 426.2,298.4 428.2,298.8 429.2,299.3 430.2,300.0 431.2,301.0 431.7,301.6 432.6,303.6 432.8,304.6 432.8,306.6 432.1,308.6 431.4,309.6 430.2,310.8 429.2,311.5 427.2,312.3 425.2,312.4 424.2,312.3 422.2,311.5 421.2,310.7 420.1,309.6 419.5,308.6 418.8,306.6 418.7,304.6 419.0,303.6 419.9,301.6 420.7,300.6 421.9,299.6 423.2,298.9Z"/>
<path fill="#34741c" d="M423.4,299.6 425.2,299.1 426.2,299.1 428.2,299.6 429.2,300.1 430.2,301.0 431.5,302.6 432.1,304.6 432.0,306.6 431.7,307.6 430.5,309.6 429.2,310.7 428.2,311.2 426.2,311.7 424.2,311.5 423.2,311.2 421.2,309.8 420.3,308.6 419.8,307.6 419.5,306.6 419.5,304.6 420.1,302.6 421.2,301.0 422.2,300.2Z"/>
<path fill="#31711b" d="M422.8,300.6 424.2,299.9 425.2,299.8 427.2,299.9 429.2,300.9 430.7,302.6 431.4,304.6 431.3,306.6 430.5,308.6 429.2,309.9 427.2,310.9 425.2,311.0 423.2,310.5 422.2,309.8 421.1,308.6 420.5,307.6 420.2,306.6 420.1,304.6 420.8,302.6 421.6,301.6Z"/>
<path fill="#306f1b" d="M424.2,300.6 425.2,300.3 426.2,300.3 428.2,300.9 429.2,301.7 430.0,302.6 430.6,303.6 430.9,305.6 430.8,306.6 430.4,307.6 429.2,309.1 428.2,309.8 427.2,310.3 425.2,310.4 424.2,310.3 423.2,309.8 421.8,308.6 420.8,306.6 420.7,304.6 421.5,302.6 423.2,301.0Z"/>
<path fill="#2d6b1a" d="M423.3,301.6 424.2,301.1 426.2,300.8 427.2,301.1 428.2,301.6 429.4,302.6 430.0,303.6 430.3,304.6 430.3,305.6 430.2,306.6 429.8,307.6 428.2,309.2 426.2,309.9 425.2,309.9 423.2,309.2 421.7,307.6 421.3,306.6 421.3,304.6 421.5,303.6 422.2,302.6Z"/>
<path fill="#2a681a" d="M424.3,301.6 425.2,301.3 426.2,301.3 427.2,301.6 428.2,302.1 429.5,303.6 429.8,304.6 429.9,305.6 429.7,306.6 429.2,307.6 428.3,308.6 427.2,309.2 425.2,309.5 424.2,309.2 423.2,308.6 422.3,307.6 421.8,306.6 421.6,305.6 421.7,304.6 422.1,303.6 423.2,302.2Z"/>
<path fill="#276419" d="M423.4,302.6 424.2,302.0 425.2,301.8 426.2,301.7 427.2,302.0 428.2,302.7 429.0,303.6 429.4,304.6 429.5,305.6 429.2,306.6 428.7,307.6 428.2,308.1 427.2,308.7 426.2,309.1 425.2,309.1 424.2,308.7 422.8,307.6 422.3,306.6 422.1,305.6 422.2,304.6 422.5,303.6Z"/>
<path fill="#276419" d="M424.1,302.6 425.2,302.1 426.2,302.1 427.2,302.5 428.5,303.6 429.0,304.6 428.9,306.6 428.2,307.5 427.2,308.3 426.2,308.6 425.2,308.6 424.2,308.3 423.4,307.6 422.7,306.6 422.6,304.6 423.0,303.6Z"/>
<path fill="#fce5f1" d="M300.0,205.6 409.8,205.6 408.9,214.6 407.3,222.6 404.9,230.6 401.6,238.6 397.9,245.6 393.4,252.6 387.8,259.6 382.2,265.4 376.1,270.6 369.1,275.6 365.1,278.0 361.1,280.1 354.1,283.3 346.1,286.1 338.1,288.0 330.1,289.2 321.0,289.6 315.0,289.4 310.0,289.0 305.0,288.2 300.0,287.2Z"/>
<path fill="#f3bdde" d="M300.0,205.6 402.5,205.6 403.2,211.6 403.2,217.6 402.7,223.6 401.6,229.6 399.9,235.6 397.5,241.6 394.4,247.6 390.5,253.6 386.6,258.6 381.9,263.6 377.1,267.7 371.1,272.1 365.1,275.6 359.1,278.3 353.1,280.4 347.1,281.9 340.1,282.9 334.1,283.1 327.2,282.6 321.0,281.5 315.0,279.8 310.0,277.8 305.0,275.3 300.0,272.1Z"/>
<path fill="#eeabd2" d="M300.0,205.6 396.2,205.6 397.4,209.6 398.3,213.6 398.8,217.6 399.0,222.6 398.7,227.6 398.1,231.6 397.1,235.6 395.9,239.6 393.8,244.6 391.2,249.6 387.8,254.6 384.6,258.6 380.8,262.6 376.1,266.6 372.1,269.4 367.1,272.4 362.1,274.7 357.1,276.5 351.1,278.0 346.1,278.6 340.1,278.8 335.1,278.4 330.1,277.5 325.0,276.0 321.4,274.6 318.0,273.0 314.1,270.6 311.0,268.4 307.7,265.6 304.8,262.6 302.3,259.6 300.0,256.4Z"/>
<path fill="#ea9fca" d="M308.9,206.6 309.5,205.6 390.6,205.6 392.9,210.6 394.5,215.6 395.4,220.6 395.8,225.6 395.5,230.6 394.5,236.6 393.0,241.6 390.9,246.6 388.7,250.6 386.0,254.6 382.7,258.6 379.1,262.2 375.1,265.5 371.1,268.2 366.1,271.0 362.1,272.6 358.1,273.9 353.1,275.0 349.1,275.5 344.1,275.6 339.1,275.1 335.1,274.3 330.1,272.8 326.0,271.0 321.9,268.6 318.0,265.7 314.6,262.6 312.0,259.6 309.1,255.6 306.8,251.6 304.7,246.6 303.5,242.6 302.6,238.6 302.1,233.6 302.1,228.6 302.5,224.6 303.5,219.6 304.7,215.6 306.8,210.6Z"/>
<path fill="#e795c3" d="M318.5,206.6 319.3,205.6 385.4,205.6 388.6,210.6 390.0,213.6 391.2,216.6 392.1,219.6 392.7,222.6 393.0,225.6 393.1,229.6 392.6,235.6 391.7,239.6 390.7,242.6 389.6,245.6 388.1,248.6 385.0,253.6 382.7,256.6 379.9,259.6 376.6,262.6 373.1,265.2 369.1,267.7 365.1,269.6 361.1,271.1 357.1,272.2 353.1,272.8 349.1,273.0 345.1,272.9 341.1,272.3 337.1,271.4 333.1,269.9 329.1,267.9 326.0,266.0 323.0,263.6 319.9,260.6 317.3,257.6 314.7,253.6 312.6,249.6 311.5,246.6 310.3,242.6 309.6,238.6 309.2,234.6 309.4,229.6 309.9,225.6 310.8,221.6 312.2,217.6 314.0,213.6 316.3,209.6Z"/>
<path fill="#e58dbe" d="M326.3,206.6 327.3,205.6 380.4,205.6 383.1,208.6 385.2,211.4 387.0,214.6 388.4,217.6 389.5,220.6 390.4,224.6 390.8,227.6 391.0,231.6 390.6,235.6 390.1,238.6 389.3,241.6 387.9,245.6 385.9,249.6 384.1,252.6 381.8,255.6 379.1,258.6 376.1,261.3 373.1,263.6 370.1,265.5 367.1,267.1 363.1,268.7 359.1,269.9 356.1,270.5 352.1,270.8 349.1,270.8 345.1,270.5 341.1,269.6 337.9,268.6 334.1,266.9 331.1,265.2 328.1,263.0 325.4,260.6 322.7,257.6 320.5,254.6 318.7,251.6 317.3,248.6 316.3,245.6 315.2,241.6 314.7,237.6 314.6,233.6 314.7,230.6 315.4,226.6 316.4,222.6 317.5,219.6 319.4,215.6 321.3,212.6 323.5,209.6Z"/>
<path fill="#e286b8" d="M333.2,206.6 334.5,205.6 375.3,205.6 379.1,208.8 381.2,211.0 383.2,213.5 385.1,216.6 386.5,219.6 387.6,222.6 388.4,225.6 388.9,228.6 389.1,231.6 388.9,235.6 388.5,238.6 387.5,242.6 386.4,245.6 385.0,248.6 383.2,251.6 381.1,254.6 378.4,257.6 376.1,259.8 373.1,262.1 370.1,264.1 367.1,265.6 364.1,266.9 360.1,268.1 356.1,268.8 353.1,269.0 350.1,268.9 347.1,268.6 344.1,268.0 341.1,267.1 338.1,265.9 335.1,264.4 332.4,262.6 329.9,260.6 327.9,258.6 325.4,255.6 323.4,252.6 321.8,249.6 320.6,246.6 319.7,243.6 319.1,240.6 318.7,236.6 318.8,233.6 319.2,229.6 319.8,226.6 321.1,222.6 322.4,219.6 324.1,216.6 326.0,213.7 328.1,211.3 330.7,208.6Z"/>
<path fill="#e181b5" d="M339.8,206.6 341.8,205.6 369.5,205.6 374.1,208.2 378.1,211.5 381.7,215.6 384.2,219.7 385.4,222.6 386.4,225.6 387.0,228.6 387.3,231.6 387.4,234.6 387.0,238.6 386.3,241.6 385.4,244.6 384.1,247.6 382.5,250.6 380.4,253.6 378.8,255.6 376.8,257.6 374.1,259.9 371.1,262.1 368.1,263.8 365.1,265.1 362.1,266.1 359.1,266.8 356.1,267.2 353.1,267.3 350.1,267.2 347.1,266.7 344.1,266.0 341.1,264.9 338.1,263.4 335.2,261.6 333.1,259.9 330.6,257.6 328.9,255.6 327.4,253.6 325.6,250.6 324.3,247.6 323.3,244.6 322.6,241.6 322.2,238.6 322.1,234.6 322.4,231.6 322.9,228.6 323.8,225.6 324.9,222.6 326.4,219.6 328.1,217.1 329.9,214.6 331.8,212.6 334.1,210.5 337.1,208.2Z"/>
<path fill="#df7cb1" d="M347.5,206.6 352.2,205.6 360.2,205.6 363.1,206.1 366.1,207.0 369.1,208.2 371.1,209.2 374.1,211.1 376.1,212.8 378.1,214.7 380.2,217.1 381.9,219.6 383.2,222.0 384.2,224.6 385.1,227.6 385.7,230.6 385.9,233.6 385.8,236.6 385.4,239.6 384.7,242.6 383.7,245.6 382.3,248.6 381.2,250.6 379.1,253.5 377.1,255.8 375.1,257.7 372.1,260.1 370.1,261.4 367.1,263.0 364.1,264.2 361.1,265.1 358.1,265.6 355.1,265.9 352.1,265.8 349.1,265.4 344.1,264.1 341.1,262.8 339.1,261.7 336.1,259.6 334.1,257.9 331.9,255.6 330.3,253.6 328.4,250.6 327.5,248.6 325.7,243.6 325.2,240.6 324.9,237.6 324.9,234.6 325.3,231.6 325.9,228.6 326.9,225.6 329.3,220.6 331.1,218.0 333.0,215.6 337.1,211.9 339.1,210.5 342.1,208.7 345.1,207.4Z"/>
<path fill="#de77ae" d="M349.4,208.6 352.1,208.0 355.1,207.7 358.1,207.7 361.1,208.0 366.1,209.3 368.1,210.1 371.1,211.6 374.1,213.6 376.1,215.4 378.1,217.5 379.8,219.6 381.2,221.8 382.5,224.6 383.5,227.6 384.0,229.6 384.6,234.6 384.5,237.6 384.0,240.6 383.2,243.6 382.1,246.6 380.6,249.6 379.3,251.6 375.9,255.6 373.7,257.6 371.1,259.5 369.1,260.8 366.1,262.2 363.1,263.3 360.1,264.1 355.1,264.5 350.1,264.1 345.1,262.8 342.4,261.6 340.1,260.3 337.7,258.6 335.4,256.6 333.6,254.6 332.1,252.6 330.9,250.6 329.4,247.6 328.6,245.6 327.8,242.6 327.3,237.6 327.3,234.6 327.7,231.6 329.1,226.6 330.5,223.6 331.6,221.6 333.1,219.5 335.1,217.1 337.1,215.1 339.1,213.5 341.1,212.1 344.1,210.5 347.1,209.3Z"/>
<path fill="#dd73ac" d="M349.9,210.6 352.1,210.1 355.1,209.7 358.1,209.7 361.1,210.0 366.1,211.3 368.1,212.1 371.1,213.7 373.1,215.1 375.1,216.8 376.9,218.6 378.5,220.6 380.2,223.2 381.3,225.6 382.4,228.6 382.9,230.6 383.4,235.6 382.9,240.6 382.4,242.6 381.4,245.6 380.5,247.6 378.8,250.6 377.1,252.8 375.1,255.1 371.1,258.4 368.1,260.2 366.1,261.2 363.1,262.2 361.1,262.7 356.1,263.3 351.1,263.0 348.1,262.3 346.1,261.6 343.1,260.3 341.1,259.1 339.0,257.6 336.8,255.6 335.0,253.6 333.6,251.6 331.4,247.6 330.7,245.6 329.8,242.6 329.3,237.6 329.7,232.6 330.3,229.6 331.0,227.6 332.3,224.6 333.5,222.6 336.6,218.6 340.1,215.4 342.1,214.0 345.1,212.4Z"/>
<path fill="#db6ca8" d="M354.4,211.6 359.1,211.5 362.1,211.9 364.1,212.4 366.1,213.0 369.1,214.4 373.1,217.0 375.1,218.8 376.7,220.6 379.4,224.6 380.4,226.6 381.4,229.6 381.9,231.6 382.2,234.6 382.3,236.6 382.0,239.6 381.7,241.6 380.8,244.6 379.5,247.6 378.4,249.6 375.3,253.6 373.3,255.6 371.1,257.3 367.1,259.7 364.1,260.9 362.1,261.5 360.1,261.9 357.1,262.2 354.1,262.2 352.1,262.0 349.1,261.3 347.1,260.7 342.9,258.6 339.1,255.7 337.0,253.6 335.5,251.6 333.2,247.6 331.8,243.6 331.4,241.6 331.1,238.6 331.3,233.6 331.7,231.6 332.6,228.6 334.4,224.6 337.3,220.6 339.1,218.7 341.1,217.0 345.1,214.4 348.1,213.1 350.1,212.4Z"/>
<path fill="#da69a6" d="M351.9,213.6 356.1,213.0 359.1,213.0 361.1,213.3 364.1,213.9 366.1,214.6 370.1,216.6 372.1,218.0 374.1,219.7 377.1,223.2 378.6,225.6 379.5,227.6 380.8,231.6 381.1,233.6 381.3,236.6 381.1,239.6 380.7,241.6 379.5,245.6 378.5,247.6 377.1,249.9 374.1,253.7 372.1,255.5 370.1,257.0 366.1,259.2 364.1,260.0 361.1,260.8 357.1,261.2 354.1,261.2 352.1,260.9 349.1,260.2 347.1,259.4 343.1,257.3 339.8,254.6 337.9,252.6 336.5,250.6 334.4,246.6 333.1,242.6 332.6,238.6 332.7,235.6 332.9,233.6 333.6,230.6 334.3,228.6 336.3,224.6 337.7,222.6 339.5,220.6 343.1,217.5 347.1,215.2 349.1,214.4Z"/>
<path fill="#d965a4" d="M354.1,214.6 358.1,214.3 360.1,214.5 363.1,215.0 367.1,216.4 371.1,218.7 374.4,221.6 376.0,223.6 377.3,225.6 379.1,229.6 379.7,231.6 380.2,234.6 380.3,238.6 379.8,241.6 379.3,243.6 377.6,247.6 376.4,249.6 375.0,251.6 372.0,254.6 368.1,257.3 364.1,259.1 361.1,259.9 359.1,260.2 356.1,260.3 354.1,260.2 350.1,259.4 346.1,257.8 342.7,255.6 339.5,252.6 338.0,250.6 336.7,248.6 335.0,244.6 334.2,240.6 334.0,236.6 334.3,233.6 334.8,231.6 336.3,227.6 338.8,223.6 340.5,221.6 342.1,220.1 345.6,217.6 349.1,215.9 352.1,215.0Z"/>
<path fill="#d861a2" d="M356.6,215.6 361.1,215.8 365.1,216.8 369.1,218.7 371.1,220.1 372.9,221.6 375.5,224.6 376.8,226.6 377.7,228.6 379.0,232.6 379.5,236.6 379.4,238.6 379.0,241.6 377.7,245.6 375.5,249.6 373.1,252.6 370.1,255.1 366.1,257.5 362.1,258.9 360.1,259.3 357.1,259.5 353.1,259.2 349.1,258.1 345.1,256.0 342.0,253.6 339.3,250.6 338.0,248.6 337.0,246.6 335.7,242.6 335.2,238.6 335.3,235.6 335.6,233.6 336.8,229.6 338.9,225.6 341.3,222.6 344.1,220.1 346.1,218.8 348.1,217.7 352.1,216.3 354.1,215.8Z"/>
<path fill="#d65a9f" d="M351.5,217.6 354.1,217.0 356.1,216.7 360.1,216.8 364.1,217.6 368.1,219.3 371.4,221.6 374.3,224.6 376.3,227.6 377.9,231.6 378.6,235.6 378.6,239.6 377.7,243.6 376.0,247.6 374.7,249.6 373.1,251.5 370.1,254.3 367.1,256.2 363.1,257.8 359.1,258.6 355.1,258.6 351.1,257.8 347.1,256.2 345.1,254.9 343.4,253.6 340.6,250.6 338.7,247.6 337.1,243.6 336.4,239.6 336.4,235.6 337.3,231.6 339.0,227.6 341.1,224.6 344.1,221.6 346.1,220.1 348.1,219.0Z"/>
<path fill="#d4539b" d="M355.0,218.6 359.1,218.4 363.1,219.1 367.1,220.6 370.1,222.6 373.1,225.5 375.2,228.6 376.5,231.6 377.3,235.6 377.4,238.6 376.8,242.6 375.2,246.6 373.3,249.6 370.4,252.6 367.1,254.9 364.1,256.3 360.1,257.3 356.1,257.4 353.1,257.0 349.1,255.6 345.8,253.6 344.1,252.2 342.6,250.6 340.5,247.6 339.1,244.6 338.2,240.6 338.1,236.6 338.6,233.6 340.0,229.6 342.1,226.2 343.5,224.6 345.1,223.1 348.1,221.0 352.1,219.3Z"/>
<path fill="#d34f99" d="M353.5,220.6 357.1,220.0 360.1,220.1 364.1,221.0 367.1,222.4 370.1,224.5 372.9,227.6 374.6,230.6 375.7,233.6 376.1,236.6 376.0,240.6 375.5,242.6 374.9,244.6 373.3,247.6 370.9,250.6 368.1,253.0 365.1,254.6 362.1,255.7 359.1,256.2 355.1,256.0 351.1,255.0 348.3,253.6 345.6,251.6 342.9,248.6 341.2,245.6 340.2,242.6 339.7,239.6 339.9,235.6 340.3,233.6 340.9,231.6 342.5,228.6 344.8,225.6 347.1,223.6 350.1,221.8Z"/>
<path fill="#d14895" d="M356.7,221.6 360.1,221.6 363.1,222.2 366.1,223.5 369.1,225.5 371.2,227.6 373.2,230.6 374.3,233.6 374.9,236.6 374.9,239.6 374.3,242.6 373.1,245.6 371.1,248.7 369.1,250.8 366.1,252.9 363.1,254.2 359.1,255.0 356.1,254.9 353.1,254.3 350.1,253.1 347.1,251.1 344.7,248.6 342.9,245.6 341.7,242.6 341.2,239.6 341.3,236.6 341.9,233.6 343.1,230.6 345.2,227.6 347.1,225.6 350.1,223.6 353.1,222.3Z"/>
<path fill="#cf4191" d="M353.9,223.6 357.1,223.0 360.1,223.0 363.1,223.7 366.1,225.0 368.3,226.6 370.3,228.6 372.2,231.6 373.3,234.6 373.8,237.6 373.6,240.6 372.8,243.6 371.3,246.6 369.1,249.3 367.1,250.9 365.1,252.1 362.1,253.3 359.1,253.8 356.1,253.7 353.1,253.0 350.1,251.6 347.4,249.6 345.7,247.6 344.4,245.6 343.2,242.6 342.7,239.6 342.8,236.6 343.4,233.6 344.8,230.6 347.1,227.7 349.1,225.9 351.1,224.7Z"/>
<path fill="#cd3a8d" d="M355.5,224.6 358.1,224.3 361.1,224.6 363.1,225.1 366.1,226.5 368.1,228.1 370.3,230.6 371.4,232.6 372.4,235.6 372.6,238.6 372.3,241.6 371.6,243.6 370.0,246.6 368.3,248.6 366.1,250.3 364.1,251.4 361.1,252.4 358.1,252.7 355.1,252.4 352.1,251.3 350.1,250.2 348.2,248.6 346.5,246.6 345.3,244.6 344.3,241.6 344.0,238.6 344.3,235.6 345.3,232.6 346.4,230.6 348.1,228.6 350.1,226.9 353.1,225.3Z"/>
<path fill="#cb3289" d="M357.3,225.6 360.1,225.6 362.1,226.0 365.1,227.3 367.1,228.8 368.8,230.6 370.1,232.6 370.9,234.6 371.5,237.6 371.5,239.6 370.9,242.6 369.4,245.6 368.1,247.3 366.1,249.1 364.1,250.3 362.1,251.1 359.1,251.6 356.1,251.4 354.1,250.9 352.1,250.1 350.0,248.6 348.0,246.6 346.7,244.6 345.6,241.6 345.3,239.6 345.4,236.6 345.9,234.6 346.7,232.6 348.1,230.5 350.0,228.6 352.1,227.2 355.1,226.0Z"/>
<path fill="#ca2f88" d="M353.9,227.6 356.1,226.9 358.1,226.7 361.1,227.0 363.1,227.6 365.1,228.7 367.1,230.3 368.2,231.6 369.4,233.6 370.1,235.6 370.5,237.6 370.5,239.6 369.8,242.6 368.9,244.6 367.1,246.9 365.1,248.5 363.1,249.6 361.1,250.3 359.1,250.6 356.1,250.4 354.1,249.8 352.1,248.8 350.1,247.3 348.7,245.6 347.5,243.6 346.8,241.6 346.4,239.6 346.6,236.6 347.2,234.6 348.1,232.6 349.6,230.6 351.1,229.2Z"/>
<path fill="#c82884" d="M354.4,228.6 357.1,227.9 359.1,227.8 361.1,228.1 363.1,228.8 365.1,229.9 366.1,230.8 367.7,232.6 368.7,234.6 369.5,237.6 369.5,239.6 369.1,241.6 368.3,243.6 367.1,245.4 366.1,246.6 364.1,248.1 362.1,249.0 360.1,249.5 358.1,249.6 356.1,249.4 354.1,248.7 352.1,247.6 350.9,246.6 349.2,244.6 348.2,242.6 347.7,240.6 347.5,238.6 347.7,236.6 348.3,234.6 349.4,232.6 351.1,230.7 353.1,229.2Z"/>
<path fill="#c62080" d="M354.6,229.6 356.1,229.1 358.1,228.8 360.1,228.9 362.1,229.4 364.1,230.4 365.6,231.6 366.5,232.6 367.7,234.6 368.4,236.6 368.6,238.6 368.4,240.6 367.8,242.6 366.7,244.6 365.8,245.6 364.1,247.0 362.1,248.0 360.1,248.6 358.1,248.7 355.1,248.1 353.1,247.1 351.3,245.6 350.4,244.6 349.3,242.6 348.7,240.6 348.5,238.6 348.7,236.6 349.4,234.6 350.7,232.6 351.6,231.6 353.1,230.4Z"/>
<path fill="#c41a7c" d="M354.7,230.6 356.1,230.0 358.1,229.7 361.1,230.0 363.1,230.9 364.2,231.6 365.3,232.6 366.7,234.6 367.7,237.6 367.7,239.6 367.3,241.6 366.3,243.6 365.1,245.1 364.1,246.0 362.1,247.1 360.1,247.7 358.1,247.8 355.1,247.2 353.1,246.0 352.1,245.2 350.8,243.6 350.3,242.6 349.6,240.6 349.5,239.6 349.5,237.6 350.0,235.6 350.5,234.6 351.9,232.6 353.1,231.5Z"/>
<path fill="#c2197a" d="M357.8,230.6 359.1,230.6 361.1,230.9 363.1,231.8 364.1,232.6 365.1,233.7 366.3,235.6 366.7,236.6 366.9,238.6 366.7,240.6 366.4,241.6 365.4,243.6 364.5,244.6 362.1,246.3 360.1,246.9 359.1,247.0 357.1,246.9 356.1,246.7 355.1,246.3 353.1,245.0 351.9,243.6 351.2,242.6 350.8,241.6 350.3,239.6 350.4,237.6 350.6,236.6 351.4,234.6 352.2,233.6 353.1,232.6 355.1,231.3 356.1,230.9Z"/>
<path fill="#bd1777" d="M356.7,231.6 359.1,231.3 361.1,231.7 362.1,232.1 364.1,233.7 364.9,234.6 365.9,236.6 366.2,238.6 366.1,239.6 365.7,241.6 365.1,242.6 364.4,243.6 363.1,244.8 362.1,245.4 360.1,246.2 358.1,246.3 357.1,246.2 355.1,245.4 354.1,244.8 352.8,243.6 351.6,241.6 351.3,240.6 351.1,239.6 351.2,237.6 351.8,235.6 352.4,234.6 354.1,232.8 355.1,232.2Z"/>
<path fill="#b91574" d="M356.0,232.6 358.1,232.0 360.1,232.2 361.1,232.5 363.1,233.7 364.1,234.8 365.1,236.6 365.5,238.6 365.5,239.6 364.9,241.6 363.5,243.6 362.1,244.7 361.1,245.2 360.1,245.5 358.1,245.6 356.1,245.1 353.8,243.6 352.4,241.6 351.8,239.6 351.8,238.6 352.2,236.6 353.3,234.6 354.3,233.6Z"/>
<path fill="#b51370" d="M355.4,233.6 357.1,232.9 358.1,232.7 360.1,232.8 362.1,233.7 363.1,234.6 363.9,235.6 364.8,237.6 364.8,239.6 364.6,240.6 363.6,242.6 362.1,243.9 360.1,244.8 358.1,245.0 356.1,244.4 355.1,243.9 353.8,242.6 352.7,240.6 352.5,239.6 352.6,237.6 353.4,235.6 354.2,234.6Z"/>
<path fill="#b1116d" d="M356.9,233.6 358.1,233.3 359.1,233.3 361.1,233.8 362.3,234.6 363.2,235.6 363.8,236.6 364.3,238.6 364.0,240.6 363.5,241.6 362.1,243.2 360.1,244.2 358.1,244.4 356.1,243.8 354.5,242.6 353.8,241.6 353.3,240.6 353.1,238.6 353.5,236.6 354.1,235.6 355.1,234.6 356.1,233.9Z"/>
<path fill="#ae106b" d="M356.0,234.6 357.1,234.0 358.1,233.8 360.1,234.0 362.1,235.2 363.2,236.6 363.6,237.6 363.8,238.6 363.4,240.6 362.9,241.6 362.1,242.5 361.1,243.3 359.1,243.9 357.1,243.6 356.1,243.2 354.4,241.6 353.6,239.6 353.7,237.6 354.8,235.6Z"/>
<path fill="#aa0e68" d="M357.1,234.6 358.1,234.3 359.1,234.3 361.1,235.0 362.7,236.6 363.1,237.6 363.2,238.6 362.9,240.6 362.1,241.8 361.1,242.7 360.1,243.2 358.1,243.4 357.1,243.1 356.1,242.6 355.1,241.7 354.4,240.6 354.1,238.6 354.3,237.6 354.7,236.6 356.1,235.1Z"/>
<path fill="#a60c65" d="M356.2,235.6 357.1,235.0 358.1,234.8 359.1,234.8 360.1,235.0 361.1,235.6 362.1,236.6 362.6,237.6 362.8,238.6 362.8,239.6 362.4,240.6 361.1,242.2 359.1,243.0 358.1,242.9 357.1,242.6 355.6,241.6 354.9,240.6 354.6,239.6 354.5,238.6 354.7,237.6 355.2,236.6Z"/>
<path fill="#a10a61" d="M357.0,235.6 358.1,235.2 359.1,235.2 360.1,235.5 361.6,236.6 362.2,237.6 362.4,238.6 362.3,239.6 362.0,240.6 361.1,241.6 360.1,242.3 359.1,242.5 358.1,242.5 357.1,242.2 356.1,241.5 355.4,240.6 355.1,239.6 355.0,238.6 355.2,237.6 355.7,236.6Z"/>
<path fill="#9d085e" d="M358.5,235.6 360.1,235.8 361.1,236.6 361.8,237.6 362.0,238.6 362.0,239.6 361.6,240.6 360.1,241.9 359.1,242.2 358.1,242.2 357.1,241.8 355.8,240.6 355.4,239.6 355.3,238.6 355.5,237.6 356.1,236.8 357.1,235.9Z"/>
<path fill="#9b075c" d="M356.7,236.6 358.1,235.9 359.1,235.9 360.1,236.2 361.4,237.6 361.7,238.6 361.7,239.6 361.1,240.6 360.1,241.5 359.1,241.8 358.1,241.8 357.1,241.4 356.2,240.6 355.7,239.6 355.6,238.6 355.9,237.6Z"/>
<path fill="#970559" d="M357.3,236.6 358.1,236.2 359.1,236.1 360.1,236.6 361.1,237.6 361.4,238.6 361.3,239.6 360.8,240.6 360.1,241.2 359.1,241.5 358.1,241.5 357.1,241.1 356.6,240.6 356.1,239.6 356.0,238.6 356.3,237.6Z"/>
<path fill="#920355" d="M357.9,236.6 359.1,236.5 360.1,236.9 360.8,237.6 361.1,238.6 361.0,239.6 360.4,240.6 359.1,241.3 358.1,241.3 357.1,240.7 356.3,239.6 356.2,238.6 356.6,237.6 357.1,237.0Z"/>
<path fill="#8e0152" d="M356.9,237.6 358.1,236.8 359.1,236.8 360.1,237.2 360.5,237.6 360.9,238.6 360.8,239.6 360.1,240.5 359.1,241.1 358.1,241.0 357.1,240.3 356.6,239.6 356.4,238.6Z"/>
<path fill="#8e0152" d="M357.3,237.6 358.1,237.1 359.1,237.1 360.1,237.5 360.6,238.6 360.6,239.6 360.1,240.2 359.1,240.8 358.1,240.7 356.8,239.6 356.7,238.6Z"/>
</g>
<g clip-path="url(#cd2)" shape-rendering="geometricPrecision">
<rect x="464.2" y="205.6" width="159.0" height="158.0" fill="#e9f5d8"/>
<path fill="#c0e593" d="M609.0,206.6 610.0,205.6 623.2,205.6 623.2,363.6 464.2,363.6 464.2,351.2 470.8,343.6 479.6,334.6 490.3,324.6 500.7,315.6 533.2,288.3 543.2,279.4 553.2,269.8 562.2,260.6 571.3,250.6 580.9,239.6 599.2,217.8Z"/>
<path fill="#aeda7a" d="M621.5,213.6 623.2,212.8 623.2,363.6 488.3,363.6 489.8,356.6 492.3,348.6 495.1,341.6 498.6,334.6 502.7,327.6 507.5,320.6 512.9,313.6 518.8,306.6 525.3,299.6 533.2,291.6 554.5,270.6 577.2,247.9 588.2,237.4 597.2,229.6 605.2,223.5 613.2,218.2Z"/>
<path fill="#a3d36c" d="M622.7,225.6 623.2,225.5 623.2,363.6 507.6,363.6 507.3,359.6 507.2,354.6 507.8,346.6 508.7,341.6 509.6,337.6 512.1,329.6 515.5,321.6 519.9,313.6 525.9,304.6 532.2,296.6 537.4,290.6 542.9,284.6 559.2,268.1 573.2,254.8 584.2,245.5 589.2,241.8 594.2,238.3 599.2,235.2 603.2,233.0 608.2,230.6 613.2,228.5 618.2,226.8Z"/>
<path fill="#9acd61" d="M616.7,235.6 623.2,234.8 623.2,363.6 521.8,363.6 520.7,359.6 519.8,355.6 519.0,350.6 518.7,346.6 518.6,341.6 518.8,337.6 519.3,333.6 520.0,329.6 520.9,325.6 522.5,320.6 525.8,312.6 530.2,304.6 535.6,296.6 539.4,291.6 544.5,285.6 549.9,279.6 555.7,273.6 562.2,267.3 568.2,261.8 574.2,256.7 579.2,252.8 584.2,249.3 589.2,246.1 594.2,243.3 598.2,241.3 603.2,239.3 607.2,237.9 612.2,236.5Z"/>
<path fill="#93c959" d="M612.3,242.6 618.2,242.2 623.2,242.3 623.2,363.6 533.6,363.6 531.6,359.6 529.9,355.6 528.6,351.6 527.5,347.6 526.8,343.6 526.3,339.6 526.1,334.6 526.3,330.6 526.7,326.6 527.6,321.6 528.6,317.6 529.9,313.6 531.5,309.6 533.9,304.6 538.6,296.6 542.1,291.6 546.0,286.6 550.2,281.6 554.9,276.6 560.2,271.3 566.2,265.8 571.2,261.6 576.2,257.8 580.2,255.0 585.2,251.9 590.2,249.2 594.2,247.4 598.2,245.9 603.2,244.3 608.2,243.2Z"/>
<path fill="#8cc551" d="M603.5,248.6 608.2,248.0 613.2,247.7 618.2,247.9 623.2,248.6 623.2,363.6 544.0,363.6 541.2,359.8 539.2,356.6 537.6,353.6 535.8,349.6 534.3,345.6 533.2,341.6 532.4,337.6 531.9,333.6 531.7,329.6 531.8,325.6 532.2,321.6 532.8,317.6 533.8,313.6 535.4,308.6 537.1,304.6 539.0,300.6 541.8,295.6 544.5,291.6 547.4,287.6 551.4,282.6 555.9,277.6 560.2,273.3 565.2,268.7 569.2,265.3 573.2,262.3 578.2,258.9 582.2,256.4 586.2,254.3 590.2,252.5 594.2,251.0 599.2,249.5Z"/>
<path fill="#88c24c" d="M601.4,252.6 607.2,252.1 612.2,252.1 618.2,252.9 623.2,254.0 623.2,363.6 553.8,363.6 550.7,360.6 548.1,357.6 545.8,354.6 543.2,350.6 541.6,347.6 539.7,343.6 538.3,339.6 537.3,335.6 536.5,331.6 536.1,327.6 536.1,323.6 536.4,318.6 537.0,314.6 537.9,310.6 539.2,306.6 540.7,302.6 542.6,298.6 544.8,294.6 548.0,289.6 551.0,285.6 555.1,280.6 558.9,276.6 563.2,272.4 567.2,269.0 571.2,265.8 575.2,263.0 580.2,260.0 584.2,257.9 588.2,256.2 593.2,254.4 597.2,253.4Z"/>
<path fill="#83bf46" d="M605.2,255.6 610.2,255.8 614.2,256.3 618.2,257.2 623.2,258.8 623.2,363.6 563.9,363.6 560.2,361.1 556.2,357.8 553.2,354.9 550.4,351.6 548.1,348.6 545.7,344.6 543.7,340.6 542.1,336.6 541.0,332.6 540.2,328.6 539.7,324.6 539.6,319.6 539.9,315.6 540.8,310.6 541.8,306.6 543.2,302.6 544.9,298.6 547.5,293.6 550.7,288.6 553.7,284.6 557.0,280.6 560.8,276.6 565.2,272.5 569.2,269.3 573.2,266.4 578.2,263.3 582.2,261.2 587.2,259.0 592.2,257.4 596.2,256.5 600.2,255.9Z"/>
<path fill="#7fbc41" d="M602.0,258.6 607.2,258.8 613.2,259.7 618.2,261.1 623.2,263.2 623.2,358.5 618.2,361.2 612.1,363.6 576.0,363.6 572.2,362.1 568.2,360.2 564.2,357.8 560.2,354.8 557.2,352.2 553.8,348.6 551.2,345.3 548.8,341.6 546.8,337.6 545.2,333.6 544.0,329.6 543.0,324.6 542.7,320.6 542.7,316.6 543.0,312.6 543.9,307.6 545.4,302.6 547.0,298.6 549.5,293.6 551.9,289.6 554.7,285.6 558.2,281.3 562.2,277.1 566.2,273.5 570.2,270.3 574.2,267.6 578.2,265.2 583.2,262.8 587.2,261.2 592.2,259.8 597.2,258.9Z"/>
<path fill="#7dba40" d="M594.7,261.6 598.2,261.2 602.2,261.2 605.2,261.4 609.2,261.9 613.2,262.9 616.2,263.9 619.2,265.1 623.2,267.2 623.2,352.6 620.0,354.6 616.2,356.6 612.2,358.4 608.2,359.7 604.2,360.7 600.2,361.4 596.2,361.8 592.2,361.8 587.2,361.5 583.2,360.9 579.2,359.9 574.2,358.2 569.2,355.8 565.2,353.4 561.2,350.4 558.2,347.6 555.2,344.3 552.5,340.6 550.1,336.6 548.3,332.6 546.9,328.6 546.0,324.6 545.4,320.6 545.2,315.6 545.6,310.6 546.3,306.6 547.8,301.6 549.3,297.6 551.8,292.6 554.3,288.6 557.2,284.6 560.6,280.6 564.2,277.0 568.2,273.6 573.2,269.9 577.2,267.5 581.2,265.5 585.2,263.9 590.2,262.4Z"/>
<path fill="#79b73d" d="M595.4,263.6 599.2,263.4 603.2,263.6 607.2,264.2 610.2,264.9 614.2,266.1 617.2,267.4 620.2,269.0 623.2,270.9 623.2,347.4 619.2,350.2 615.2,352.5 611.2,354.3 607.2,355.7 603.2,356.7 599.2,357.4 594.2,357.8 590.2,357.8 585.2,357.2 581.2,356.4 577.2,355.2 573.2,353.7 569.2,351.6 565.2,349.0 562.2,346.6 559.0,343.6 556.2,340.3 553.6,336.6 552.0,333.6 550.2,329.6 548.9,325.6 548.0,321.6 547.6,317.6 547.6,312.6 548.0,308.6 548.7,304.6 549.9,300.6 552.0,295.6 554.1,291.6 556.6,287.6 559.7,283.6 563.2,279.7 566.5,276.6 570.2,273.7 574.2,270.9 578.2,268.7 582.2,266.8 587.2,265.1 591.2,264.2Z"/>
<path fill="#77b53c" d="M594.2,265.6 598.2,265.4 602.2,265.7 605.2,266.1 609.2,267.0 613.2,268.4 616.2,269.8 620.2,272.2 623.2,274.4 623.2,342.8 619.2,345.9 615.2,348.4 611.2,350.4 607.2,352.0 603.2,353.1 599.2,353.9 595.2,354.3 590.2,354.4 586.2,354.0 581.2,353.0 577.2,351.8 573.2,350.1 569.2,348.0 566.2,346.0 563.2,343.5 560.2,340.6 557.7,337.6 555.2,334.0 553.4,330.6 551.7,326.6 550.8,323.6 550.0,319.6 549.6,315.6 549.6,311.6 549.9,307.6 550.7,303.6 551.9,299.6 553.5,295.6 555.6,291.6 558.2,287.6 561.2,283.7 564.0,280.6 567.2,277.6 571.2,274.5 574.2,272.5 578.2,270.2 582.2,268.5 586.2,267.1 590.2,266.2Z"/>
<path fill="#75b43b" d="M591.5,267.6 596.2,267.2 600.2,267.4 604.2,268.0 608.2,269.0 612.2,270.4 616.2,272.5 620.2,275.2 623.2,277.7 623.2,338.5 619.8,341.6 616.2,344.2 613.2,346.0 609.2,347.9 605.2,349.4 601.2,350.5 597.2,351.1 593.2,351.4 589.2,351.3 585.2,350.9 581.2,350.0 577.2,348.8 573.2,347.0 570.2,345.4 567.2,343.4 564.2,340.9 561.8,338.6 559.2,335.5 557.2,332.6 555.0,328.6 553.7,325.6 552.5,321.6 551.7,317.6 551.4,313.6 551.4,309.6 551.8,306.6 552.6,302.6 553.8,298.6 555.5,294.6 557.7,290.6 560.4,286.6 562.8,283.6 565.7,280.6 569.2,277.5 572.2,275.2 576.2,272.8 580.2,270.8 584.2,269.3 588.2,268.2Z"/>
<path fill="#73b239" d="M588.5,269.6 593.2,269.0 598.2,268.9 602.2,269.4 607.2,270.7 612.0,272.6 616.2,275.0 619.7,277.6 623.2,280.9 623.2,334.5 620.2,337.6 617.2,340.1 614.2,342.2 610.2,344.5 607.2,345.8 603.2,347.2 599.2,348.1 595.2,348.7 591.2,348.8 587.2,348.5 584.2,348.1 580.2,347.1 577.2,346.1 573.2,344.3 570.2,342.5 567.2,340.4 564.2,337.8 561.3,334.6 559.1,331.6 557.3,328.6 555.8,325.6 554.4,321.6 553.7,318.6 553.1,314.6 553.0,311.6 553.2,307.6 553.6,304.6 554.6,300.6 555.6,297.6 557.4,293.6 559.7,289.6 561.8,286.6 564.3,283.6 567.3,280.6 570.2,278.1 574.2,275.3 578.2,273.1 581.2,271.7 585.2,270.4Z"/>
<path fill="#6faf37" d="M591.0,270.6 595.2,270.4 600.2,270.7 605.2,271.8 609.2,273.3 613.2,275.3 617.2,278.1 620.2,280.8 623.2,284.2 623.2,330.7 620.2,334.2 617.2,337.0 613.2,340.0 609.2,342.3 605.2,344.0 601.2,345.3 597.2,346.1 592.2,346.5 588.2,346.3 585.2,346.0 581.2,345.1 578.2,344.1 575.2,342.8 572.2,341.3 569.2,339.3 565.9,336.6 563.2,333.8 561.4,331.6 559.4,328.6 557.8,325.6 556.6,322.6 555.4,318.6 554.8,315.6 554.5,311.6 554.6,307.6 555.0,304.6 555.6,301.6 556.9,297.6 558.7,293.6 560.4,290.6 562.4,287.6 564.8,284.6 567.2,282.1 570.2,279.5 573.2,277.3 577.2,274.9 581.2,273.0 584.2,272.0 587.2,271.2Z"/>
<path fill="#6bac34" d="M586.4,273.6 589.2,273.1 592.2,272.8 597.2,272.9 602.2,273.8 607.2,275.5 612.2,278.2 616.6,281.6 620.2,285.6 623.2,290.1 623.2,323.8 620.9,327.6 618.5,330.6 615.5,333.6 612.2,336.2 609.2,338.2 605.2,340.1 601.2,341.5 597.2,342.4 593.2,342.9 590.2,342.9 587.2,342.7 583.2,342.0 580.2,341.2 577.2,340.0 574.2,338.6 571.2,336.7 568.5,334.6 566.2,332.5 563.7,329.6 561.6,326.6 560.0,323.6 558.8,320.6 557.9,317.6 557.3,314.6 556.9,311.6 556.9,308.6 557.1,305.6 557.8,301.6 558.7,298.6 560.3,294.6 561.9,291.6 563.9,288.6 566.2,285.7 568.2,283.6 571.2,281.0 574.2,278.8 577.2,277.0 580.2,275.6 583.2,274.5Z"/>
<path fill="#69aa33" d="M587.1,275.6 590.2,275.2 593.2,275.0 596.2,275.2 599.2,275.7 602.2,276.4 605.2,277.5 608.2,279.0 610.2,280.2 614.4,283.6 616.3,285.6 618.7,288.6 619.9,290.6 621.5,293.6 623.2,298.7 623.2,314.6 622.3,317.6 621.0,320.6 618.2,325.5 616.2,328.0 613.8,330.6 611.2,332.8 608.2,334.8 605.2,336.4 602.2,337.7 598.2,338.8 595.2,339.4 591.2,339.6 588.2,339.5 585.2,339.1 582.2,338.5 579.2,337.5 576.2,336.1 573.2,334.4 571.2,333.0 568.5,330.6 566.6,328.6 565.0,326.6 563.2,323.8 562.1,321.6 560.8,318.6 560.0,315.6 559.4,312.6 559.2,309.6 559.3,305.6 559.8,302.6 560.5,299.6 561.6,296.6 563.0,293.6 564.8,290.6 566.2,288.6 568.2,286.2 570.2,284.2 572.2,282.5 575.2,280.4 578.2,278.6 581.2,277.3 584.2,276.3Z"/>
<path fill="#66a731" d="M587.8,277.6 590.2,277.3 593.2,277.3 596.2,277.5 599.2,278.1 602.2,279.0 605.2,280.3 608.2,282.1 610.2,283.5 612.5,285.6 614.4,287.6 615.9,289.6 617.7,292.6 618.7,294.6 619.8,297.6 620.6,300.6 621.0,303.6 621.1,306.6 621.0,309.6 620.5,312.6 619.7,315.6 617.5,320.6 615.7,323.6 614.2,325.6 612.3,327.6 610.2,329.6 608.2,331.1 605.2,332.9 600.2,335.1 597.2,335.9 594.2,336.4 591.2,336.6 588.2,336.5 585.2,336.1 582.2,335.4 577.2,333.4 574.2,331.6 572.2,330.2 570.2,328.4 568.2,326.3 566.2,323.7 564.9,321.6 563.9,319.6 562.8,316.6 562.0,313.6 561.5,310.6 561.4,307.6 561.6,304.6 562.6,299.6 564.6,294.6 566.3,291.6 568.2,289.0 570.2,286.8 572.2,284.9 574.2,283.3 577.2,281.3 582.2,279.0 585.2,278.1Z"/>
<path fill="#62a32e" d="M588.3,279.6 591.2,279.4 594.2,279.5 597.2,280.0 599.2,280.5 601.2,281.1 604.2,282.5 608.2,285.1 610.2,286.9 612.2,289.0 614.1,291.6 615.2,293.6 616.6,296.6 617.3,298.6 617.8,300.6 618.2,303.6 618.3,306.6 618.1,309.6 617.0,314.6 615.8,317.6 614.8,319.6 612.1,323.6 610.3,325.6 608.2,327.5 606.2,329.0 603.2,330.8 600.2,332.1 598.2,332.7 593.2,333.7 588.2,333.7 585.2,333.3 582.2,332.5 579.2,331.4 577.2,330.4 573.2,327.7 571.2,325.8 569.2,323.6 566.6,319.6 565.6,317.6 564.6,314.6 563.6,309.6 563.7,304.6 564.7,299.6 565.8,296.6 566.7,294.6 568.6,291.6 570.1,289.6 571.9,287.6 574.2,285.6 578.2,282.9 580.2,281.9 583.2,280.7 586.2,279.9Z"/>
<path fill="#5ea02c" d="M588.2,281.6 592.2,281.4 595.2,281.7 597.2,282.1 600.2,283.1 602.2,284.0 604.2,285.1 606.3,286.6 608.6,288.6 610.2,290.4 611.8,292.6 613.0,294.6 614.6,298.6 615.4,301.6 615.6,303.6 615.7,306.6 615.6,308.6 615.1,311.6 614.6,313.6 613.4,316.6 612.3,318.6 609.5,322.6 607.5,324.6 605.2,326.5 601.2,328.8 597.2,330.3 594.2,331.0 592.2,331.2 587.2,331.1 584.2,330.5 582.2,329.9 578.2,328.1 574.2,325.4 572.3,323.6 570.6,321.6 568.1,317.6 566.6,313.6 565.9,310.6 565.7,308.6 565.6,305.6 565.8,303.6 566.7,299.6 567.8,296.6 568.8,294.6 571.6,290.6 575.2,287.1 579.2,284.5 583.2,282.7 585.2,282.1Z"/>
<path fill="#5a9d29" d="M587.5,283.6 590.2,283.4 592.2,283.4 596.2,284.0 600.2,285.4 602.2,286.4 604.2,287.7 607.4,290.6 609.1,292.6 610.4,294.6 612.2,298.6 613.1,302.6 613.4,306.6 613.1,309.6 612.6,311.6 611.2,315.6 608.8,319.6 606.1,322.6 604.2,324.2 602.2,325.5 598.2,327.5 596.2,328.1 593.2,328.7 589.2,328.9 586.2,328.5 584.2,328.1 580.2,326.6 578.2,325.5 576.2,324.1 573.2,321.3 570.5,317.6 568.7,313.6 567.8,309.6 567.6,307.6 567.6,304.6 568.3,300.6 569.8,296.6 572.3,292.6 575.2,289.4 577.2,287.8 579.2,286.5 583.2,284.7Z"/>
<path fill="#589b28" d="M586.4,285.6 590.2,285.2 594.2,285.5 598.2,286.6 600.2,287.6 602.2,288.8 605.5,291.6 607.9,294.6 609.5,297.6 610.8,301.6 611.2,305.6 610.8,309.6 609.7,313.6 608.7,315.6 607.5,317.6 605.0,320.6 602.2,322.9 600.2,324.2 598.2,325.1 594.2,326.3 590.2,326.7 586.2,326.3 582.2,325.2 580.2,324.2 578.2,323.0 575.2,320.5 572.9,317.6 571.7,315.6 570.8,313.6 569.7,309.6 569.4,305.6 569.9,301.6 571.3,297.6 572.9,294.6 575.4,291.6 577.2,289.9 579.0,288.6 582.2,286.9 584.2,286.2Z"/>
<path fill="#549825" d="M585.2,287.6 588.2,287.0 592.2,287.0 596.2,287.8 599.2,289.1 602.2,291.1 604.8,293.6 606.8,296.6 607.8,298.6 608.5,300.6 609.1,303.6 609.1,307.6 608.5,310.6 607.9,312.6 606.9,314.6 605.0,317.6 602.2,320.4 599.2,322.4 597.2,323.3 595.2,324.0 591.2,324.7 587.2,324.5 583.2,323.5 580.2,322.0 577.0,319.6 574.4,316.6 572.7,313.6 571.7,310.6 571.1,306.6 571.3,303.6 571.9,300.6 572.6,298.6 573.6,296.6 575.8,293.6 578.2,291.2 581.2,289.2 583.2,288.3Z"/>
<path fill="#509423" d="M588.6,288.6 592.2,288.6 595.2,289.3 598.2,290.5 601.3,292.6 603.3,294.6 605.3,297.6 606.6,300.6 607.3,304.6 607.2,307.6 606.6,310.6 605.4,313.6 603.2,316.8 601.2,318.8 598.2,320.8 595.2,322.1 591.2,322.9 588.2,322.8 585.2,322.2 582.2,321.1 579.2,319.2 576.6,316.6 574.6,313.6 573.4,310.6 572.8,307.6 572.9,303.6 573.6,300.6 574.9,297.6 576.9,294.6 579.2,292.4 582.2,290.4 585.2,289.2Z"/>
<path fill="#4c9121" d="M585.9,290.6 589.2,290.0 592.2,290.2 595.2,290.9 598.2,292.3 601.1,294.6 602.8,296.6 604.0,298.6 605.2,301.6 605.7,304.6 605.5,307.6 604.8,310.6 603.4,313.6 601.2,316.5 599.2,318.2 597.2,319.5 594.2,320.6 591.2,321.2 588.2,321.2 585.2,320.5 582.2,319.2 579.8,317.6 577.8,315.6 575.9,312.6 574.8,309.6 574.3,306.6 574.4,303.6 575.1,300.6 576.5,297.6 578.2,295.4 580.2,293.5 583.2,291.6Z"/>
<path fill="#4b8f21" d="M587.8,291.6 590.2,291.4 593.2,291.8 596.2,292.9 598.2,294.0 600.2,295.8 602.3,298.6 603.6,301.6 604.0,303.6 604.1,306.6 603.8,308.6 602.8,311.6 601.6,313.6 599.9,315.6 597.2,317.7 594.2,319.1 592.2,319.5 589.2,319.7 586.2,319.2 583.2,318.1 581.2,316.8 579.2,314.9 577.5,312.6 576.6,310.6 575.8,307.6 575.7,304.6 576.0,302.6 577.0,299.6 578.2,297.6 579.9,295.6 582.2,293.7 585.2,292.2Z"/>
<path fill="#488c20" d="M585.2,293.6 587.2,293.0 590.2,292.7 593.2,293.1 595.2,293.8 597.2,295.0 599.1,296.6 600.7,298.6 601.8,300.6 602.6,303.6 602.8,305.6 602.6,307.6 601.7,310.6 600.6,312.6 598.9,314.6 597.2,316.0 595.2,317.2 593.2,317.9 590.2,318.3 587.2,318.1 585.2,317.5 583.2,316.5 580.7,314.6 579.1,312.6 578.0,310.6 577.3,308.6 577.0,305.6 577.3,302.6 578.0,300.6 579.0,298.6 580.6,296.6 583.2,294.6Z"/>
<path fill="#45881f" d="M585.9,294.6 588.2,294.0 590.2,293.9 592.2,294.1 595.2,295.2 597.2,296.5 598.4,297.6 599.9,299.6 600.8,301.6 601.3,303.6 601.5,305.6 601.3,307.6 600.7,309.6 599.7,311.6 598.1,313.6 596.2,315.2 594.2,316.2 591.2,317.0 589.2,317.1 587.2,316.8 585.2,316.1 583.2,315.0 581.5,313.6 579.9,311.6 578.9,309.6 578.4,307.6 578.2,304.6 578.5,302.6 579.3,300.6 580.5,298.6 582.2,296.8 584.2,295.4Z"/>
<path fill="#42841f" d="M586.4,295.6 588.2,295.1 590.2,295.0 592.2,295.3 594.2,295.9 596.2,297.1 597.2,298.0 598.5,299.6 599.6,301.6 600.2,303.6 600.3,305.6 600.1,307.6 599.5,309.6 598.3,311.6 597.2,312.9 595.2,314.4 593.2,315.4 591.2,315.8 589.2,315.9 587.2,315.6 585.2,314.9 583.2,313.6 582.1,312.6 580.6,310.6 579.7,308.6 579.3,306.6 579.3,304.6 579.7,302.6 580.5,300.6 581.9,298.6 583.2,297.3 585.2,296.1Z"/>
<path fill="#3f811e" d="M586.5,296.6 588.2,296.1 590.2,296.0 592.2,296.3 594.2,297.1 596.2,298.5 597.2,299.6 597.9,300.6 598.9,302.6 599.2,304.6 599.2,306.6 598.7,308.6 598.3,309.6 597.2,311.3 596.2,312.4 595.2,313.2 593.2,314.3 591.2,314.8 589.2,314.9 586.2,314.2 584.2,313.1 583.2,312.2 581.8,310.6 580.8,308.6 580.3,306.6 580.3,304.6 580.7,302.6 581.1,301.6 582.2,299.8 583.3,298.6 585.2,297.2Z"/>
<path fill="#3d7f1e" d="M586.5,297.6 588.2,297.0 590.2,296.9 592.2,297.3 593.2,297.6 594.9,298.6 596.0,299.6 596.8,300.6 597.9,302.6 598.3,305.6 598.0,307.6 597.7,308.6 596.6,310.6 595.6,311.6 593.2,313.2 591.2,313.8 589.2,313.9 586.2,313.2 583.9,311.6 583.0,310.6 581.8,308.6 581.5,307.6 581.2,305.6 581.4,303.6 581.7,302.6 582.7,300.6 583.5,299.6 585.2,298.2Z"/>
<path fill="#3a7b1d" d="M586.3,298.6 587.2,298.2 589.2,297.8 591.2,297.9 592.2,298.1 594.8,299.6 596.4,301.6 596.9,302.6 597.4,304.6 597.5,305.6 597.1,307.6 596.8,308.6 595.4,310.6 593.2,312.3 591.2,313.0 590.2,313.1 588.2,312.9 587.2,312.6 586.2,312.2 584.2,310.7 582.7,308.6 582.4,307.6 582.0,305.6 582.1,304.6 582.6,302.6 583.1,301.6 584.2,300.1Z"/>
<path fill="#37781c" d="M588.8,298.6 590.2,298.5 592.2,298.9 594.2,300.1 595.5,301.6 596.1,302.6 596.7,304.6 596.6,306.6 596.3,307.6 595.2,309.7 594.2,310.7 593.2,311.4 592.2,311.9 590.2,312.3 588.2,312.2 587.2,311.8 585.2,310.6 583.6,308.6 582.9,306.6 582.8,305.6 582.8,304.6 583.4,302.6 584.8,300.6 586.2,299.5 587.2,299.0Z"/>
<path fill="#34741c" d="M587.6,299.6 589.2,299.2 590.2,299.2 592.2,299.7 593.2,300.2 594.2,301.1 595.3,302.6 595.7,303.6 596.0,305.6 595.6,307.6 594.3,309.6 593.2,310.6 592.2,311.1 591.2,311.4 589.2,311.6 587.2,311.1 585.2,309.6 583.9,307.6 583.6,306.6 583.5,304.6 584.2,302.6 584.8,301.6 585.8,300.6Z"/>
<path fill="#31711b" d="M586.9,300.6 588.2,300.0 589.2,299.8 591.2,300.0 593.2,301.0 594.6,302.6 595.1,303.6 595.4,305.6 594.9,307.6 594.3,308.6 593.4,309.6 592.2,310.4 590.2,311.0 588.2,310.8 587.2,310.4 586.2,309.7 585.2,308.6 584.6,307.6 584.1,305.6 584.4,303.6 584.9,302.6 585.6,301.6Z"/>
<path fill="#306f1b" d="M588.4,300.6 590.2,300.4 592.2,301.0 593.9,302.6 594.5,303.6 594.8,305.6 594.7,306.6 594.3,307.6 593.2,309.0 592.2,309.8 591.2,310.2 589.2,310.4 588.2,310.2 587.2,309.7 585.9,308.6 584.8,306.6 584.7,304.6 585.5,302.6 587.2,301.0Z"/>
<path fill="#2d6b1a" d="M587.3,301.6 588.2,301.1 590.2,300.9 591.2,301.1 592.2,301.6 593.3,302.6 593.9,303.6 594.2,304.6 594.1,306.6 593.7,307.6 592.2,309.2 590.2,309.9 589.2,309.9 587.2,309.1 585.8,307.6 585.4,306.6 585.3,304.6 585.6,303.6 586.2,302.6Z"/>
<path fill="#2a681a" d="M588.4,301.6 589.2,301.4 590.2,301.4 592.2,302.2 593.4,303.6 593.8,304.6 593.8,305.6 593.6,306.6 593.1,307.6 592.2,308.6 591.2,309.2 590.2,309.4 589.2,309.4 588.2,309.2 587.2,308.5 586.3,307.6 585.8,306.6 585.6,305.6 585.7,304.6 586.1,303.6 587.2,302.2Z"/>
<path fill="#276419" d="M587.4,302.6 588.2,302.1 589.2,301.8 590.2,301.8 591.2,302.0 592.2,302.7 592.9,303.6 593.3,304.6 593.4,305.6 593.2,306.6 592.2,308.1 591.2,308.7 590.2,309.0 589.2,309.0 588.2,308.7 586.8,307.6 586.3,306.6 586.1,305.6 586.2,304.6 586.5,303.6Z"/>
<path fill="#276419" d="M588.1,302.6 589.2,302.1 590.2,302.1 591.2,302.5 592.5,303.6 592.9,304.6 592.8,306.6 592.1,307.6 591.2,308.3 590.2,308.6 589.2,308.6 588.2,308.3 587.3,307.6 586.6,306.6 586.5,304.6 587.0,303.6Z"/>
<path fill="#fce5f1" d="M464.2,205.6 596.0,205.6 590.7,216.6 585.7,225.6 580.1,234.6 573.9,243.6 566.9,252.6 559.1,261.6 551.2,269.7 543.2,277.2 534.2,284.6 525.2,291.3 516.2,297.3 506.2,303.2 496.2,308.4 486.2,313.0 475.2,317.2 464.2,320.9Z"/>
<path fill="#f3bdde" d="M464.2,205.6 586.3,205.6 585.2,210.6 583.8,215.6 580.6,224.6 576.5,233.6 571.4,242.6 565.3,251.6 558.8,259.6 551.3,267.6 543.2,275.0 535.2,281.4 526.2,287.4 518.2,291.9 509.2,296.1 500.2,299.3 495.2,300.7 490.2,301.8 481.2,303.1 472.2,303.6 464.2,303.2Z"/>
<path fill="#eeabd2" d="M464.2,205.6 578.6,205.6 578.1,213.6 576.7,221.6 574.8,228.6 571.6,236.6 567.5,244.6 563.0,251.6 556.8,259.6 550.3,266.6 543.2,273.0 536.2,278.4 529.2,282.9 521.2,287.1 513.2,290.3 505.2,292.5 497.2,293.9 489.2,294.4 482.2,294.0 476.2,293.1 470.2,291.7 464.2,289.6Z"/>
<path fill="#ea9fca" d="M464.2,205.6 572.2,205.6 572.7,209.6 572.9,214.6 572.7,219.6 572.0,224.6 570.7,230.6 568.3,237.6 565.6,243.6 561.6,250.6 557.3,256.6 552.2,262.6 546.2,268.5 540.2,273.5 534.2,277.6 528.2,281.1 521.2,284.2 515.2,286.2 508.2,287.8 501.2,288.6 494.2,288.5 488.2,287.8 481.2,286.2 475.2,284.0 469.2,280.9 464.2,277.7Z"/>
<path fill="#e795c3" d="M464.2,205.6 566.7,205.6 567.7,209.6 568.2,212.6 568.6,215.6 568.8,219.6 568.3,226.6 567.7,230.6 566.7,234.6 564.6,240.6 561.9,246.6 558.3,252.6 554.7,257.6 550.4,262.6 545.2,267.6 540.2,271.7 535.2,275.1 529.2,278.4 523.2,281.0 517.2,282.8 512.2,283.9 507.2,284.4 501.2,284.5 495.2,283.9 489.6,282.6 486.2,281.5 482.2,279.9 478.2,277.8 475.2,275.9 469.6,271.6 466.5,268.6 464.2,266.0Z"/>
<path fill="#e58dbe" d="M466.9,205.6 561.8,205.6 563.6,210.6 564.6,214.6 565.3,219.6 565.5,223.6 565.3,227.6 564.7,232.6 563.7,236.6 562.1,241.6 559.9,246.6 557.2,251.6 553.7,256.6 550.4,260.6 546.5,264.6 542.2,268.4 537.2,272.0 532.2,275.0 527.2,277.3 522.2,279.1 517.2,280.3 511.2,281.2 506.2,281.3 501.2,280.9 496.2,279.9 491.2,278.4 486.2,276.2 482.2,273.8 478.2,270.9 475.2,268.3 471.7,264.6 468.7,260.6 466.3,256.6 464.2,252.3 464.2,211.2Z"/>
<path fill="#e286b8" d="M475.1,205.6 557.3,205.6 559.7,210.6 561.4,215.6 562.4,220.6 562.8,226.6 562.5,231.6 561.4,237.6 559.5,243.6 557.2,248.6 554.9,252.6 551.3,257.6 547.8,261.6 544.2,265.0 540.2,268.3 536.2,271.0 532.2,273.2 527.2,275.4 522.2,277.1 518.2,277.9 513.2,278.5 508.2,278.6 503.2,278.0 499.2,277.2 494.5,275.6 490.2,273.6 486.2,271.2 482.7,268.6 479.5,265.6 476.0,261.6 473.3,257.6 470.7,252.6 468.8,247.6 467.7,243.6 466.9,238.6 466.6,233.6 466.8,228.6 467.6,223.6 468.8,218.6 470.3,214.6 472.7,209.6Z"/>
<path fill="#e181b5" d="M481.2,206.6 482.0,205.6 553.1,205.6 556.2,210.7 557.5,213.6 558.6,216.6 559.4,219.6 560.0,222.6 560.5,228.6 560.4,231.6 559.9,235.6 558.4,241.6 556.1,247.6 554.5,250.6 552.6,253.6 549.7,257.6 546.2,261.5 542.9,264.6 539.2,267.4 535.2,270.0 531.2,272.1 527.2,273.7 523.2,275.0 518.2,275.9 514.2,276.3 510.2,276.3 506.2,275.8 502.2,275.0 498.2,273.7 494.2,271.9 490.2,269.6 487.2,267.4 484.1,264.6 481.4,261.6 478.5,257.6 476.2,253.6 474.5,249.6 473.0,244.6 472.2,240.6 471.8,236.6 471.8,231.6 472.4,226.6 473.3,222.6 474.6,218.6 476.3,214.6 478.4,210.6Z"/>
<path fill="#df7cb1" d="M487.0,206.6 487.9,205.6 549.1,205.6 551.2,208.2 553.2,211.2 555.0,214.6 556.2,217.5 557.2,220.6 557.9,223.6 558.4,227.6 558.5,230.6 558.3,233.6 557.8,237.6 556.8,241.6 555.8,244.6 554.5,247.6 552.4,251.6 550.5,254.6 548.2,257.6 545.5,260.6 542.2,263.6 539.2,266.0 535.2,268.6 531.2,270.6 527.2,272.2 523.2,273.3 519.2,274.0 515.2,274.3 511.2,274.2 508.2,273.9 504.2,273.0 501.2,272.0 497.2,270.3 493.2,268.0 490.0,265.6 487.2,263.0 485.0,260.6 482.8,257.6 480.4,253.6 478.6,249.6 477.3,245.6 476.5,241.6 476.0,237.6 476.0,233.6 476.4,228.6 477.3,224.6 478.5,220.6 479.8,217.6 481.8,213.6 484.2,210.0Z"/>
<path fill="#de77ae" d="M492.2,206.6 493.3,205.6 545.2,205.6 547.2,207.6 549.7,210.6 551.7,213.6 553.3,216.6 554.6,219.6 555.5,222.6 556.3,226.6 556.7,230.6 556.6,234.6 556.0,238.6 555.3,241.6 554.0,245.6 552.7,248.6 550.4,252.6 548.3,255.6 545.8,258.6 543.2,261.3 540.2,263.8 537.2,266.0 533.2,268.3 530.2,269.6 526.2,271.0 523.2,271.8 520.2,272.3 516.2,272.6 512.2,272.4 509.2,272.0 505.2,271.1 502.2,270.0 499.1,268.6 495.7,266.6 493.0,264.6 489.7,261.6 487.2,258.6 485.1,255.6 483.4,252.6 481.7,248.6 480.7,245.6 479.9,241.6 479.5,237.6 479.5,233.6 479.9,229.6 480.7,225.6 481.7,222.6 483.3,218.6 484.9,215.6 487.2,212.2 489.3,209.6Z"/>
<path fill="#dd73ac" d="M497.0,206.6 498.4,205.6 541.3,205.6 545.2,209.0 548.4,212.6 550.4,215.6 552.0,218.6 553.2,221.6 554.1,224.6 554.7,227.6 555.1,231.6 555.0,235.6 554.6,238.6 553.7,242.6 552.7,245.6 551.4,248.6 549.7,251.6 547.7,254.6 545.2,257.7 542.2,260.8 539.2,263.2 536.2,265.3 533.2,267.0 530.2,268.3 527.2,269.4 524.2,270.2 520.2,270.8 516.2,271.0 513.2,270.8 509.2,270.2 506.2,269.4 503.2,268.2 500.2,266.8 497.2,264.9 494.2,262.6 492.1,260.6 489.6,257.6 487.5,254.6 485.9,251.6 484.6,248.6 483.4,244.6 482.8,241.6 482.4,237.6 482.5,233.6 482.8,230.6 483.6,226.6 484.6,223.6 485.8,220.6 487.4,217.6 489.3,214.6 491.7,211.6 494.2,209.0Z"/>
<path fill="#db6ca8" d="M501.7,206.6 503.5,205.6 537.1,205.6 541.2,208.3 544.2,210.9 547.4,214.6 549.9,218.6 551.3,221.6 552.4,224.6 553.1,227.6 553.6,231.6 553.7,234.6 553.4,237.6 552.7,241.6 551.8,244.6 550.6,247.6 549.1,250.6 547.2,253.6 544.9,256.6 543.0,258.6 540.2,261.2 537.2,263.4 534.2,265.2 531.2,266.7 528.2,267.8 524.2,268.9 521.2,269.4 517.2,269.6 514.2,269.4 511.2,269.0 508.2,268.2 505.2,267.2 502.2,265.7 499.2,263.9 497.2,262.4 495.1,260.6 492.4,257.6 490.9,255.6 489.0,252.6 487.6,249.6 486.5,246.6 485.7,243.6 485.2,240.6 485.0,237.6 485.0,234.6 485.4,230.6 486.1,227.6 487.1,224.6 488.3,221.6 489.9,218.6 491.9,215.6 494.2,212.8 496.4,210.6 499.2,208.3Z"/>
<path fill="#da69a6" d="M506.6,206.6 509.0,205.6 532.3,205.6 535.2,206.9 538.2,208.6 541.0,210.6 543.2,212.5 545.2,214.7 547.2,217.4 548.6,219.6 550.0,222.6 551.1,225.6 551.8,228.6 552.2,231.6 552.4,234.6 552.1,238.6 551.5,241.6 550.6,244.6 549.5,247.6 547.9,250.6 546.0,253.6 543.6,256.6 541.7,258.6 539.2,260.7 536.2,262.9 533.2,264.6 530.2,266.0 527.2,267.0 524.2,267.7 521.2,268.1 518.2,268.3 515.2,268.1 512.2,267.7 509.2,266.9 506.2,265.8 503.6,264.6 501.2,263.2 498.2,260.9 496.2,259.1 494.0,256.6 492.6,254.6 490.8,251.6 489.4,248.6 488.4,245.6 487.7,242.6 487.3,239.6 487.2,236.6 487.3,233.6 487.8,230.6 488.5,227.6 489.5,224.6 490.9,221.6 492.7,218.6 496.2,214.1 498.8,211.6 501.2,209.7 504.2,207.8Z"/>
<path fill="#d965a4" d="M512.4,206.6 515.2,205.9 517.7,205.6 525.2,205.7 528.2,206.3 531.2,207.1 536.2,209.4 539.2,211.4 541.2,213.0 543.2,214.9 545.5,217.6 547.2,220.2 548.4,222.6 549.6,225.6 550.5,228.6 551.0,231.6 551.2,234.6 551.0,237.6 550.6,240.6 549.9,243.6 548.8,246.6 547.4,249.6 545.6,252.6 543.3,255.6 541.4,257.6 539.2,259.6 536.2,261.8 534.2,263.0 531.2,264.5 528.2,265.6 525.2,266.4 522.2,266.9 519.2,267.1 514.2,266.7 511.2,266.1 508.2,265.1 505.2,263.8 503.2,262.6 500.3,260.6 498.2,258.7 496.2,256.6 494.7,254.6 493.4,252.6 491.8,249.6 490.6,246.6 489.8,243.6 489.3,240.6 489.1,237.6 489.2,234.6 489.6,231.6 490.3,228.6 491.3,225.6 492.7,222.6 493.8,220.6 495.9,217.6 497.6,215.6 499.7,213.6 502.1,211.6 504.2,210.2 507.2,208.6 510.2,207.3Z"/>
<path fill="#d861a2" d="M516.0,207.6 519.2,207.2 522.2,207.2 525.2,207.4 528.2,208.0 533.2,209.7 536.2,211.2 538.3,212.6 540.8,214.6 542.8,216.6 544.4,218.6 546.4,221.6 547.4,223.6 548.6,226.6 549.4,229.6 549.9,232.6 550.1,235.6 549.9,238.6 549.4,241.6 548.6,244.6 546.4,249.6 544.5,252.6 543.0,254.6 541.2,256.6 538.2,259.3 536.2,260.7 533.2,262.5 530.2,263.9 527.2,264.9 522.2,265.8 519.2,266.0 516.2,265.8 511.2,264.8 509.2,264.1 506.2,262.8 503.2,261.0 501.4,259.6 499.2,257.6 497.4,255.6 494.6,251.6 493.6,249.6 492.4,246.6 491.6,243.6 491.1,240.6 490.9,235.6 491.2,232.6 491.9,229.6 493.7,224.6 495.2,221.8 496.7,219.6 500.2,215.6 502.5,213.6 505.2,211.7 508.2,210.1 510.2,209.2 513.2,208.2Z"/>
<path fill="#d65a9f" d="M514.2,209.6 519.2,208.8 522.2,208.7 525.2,209.0 528.2,209.5 531.2,210.5 534.2,211.8 536.2,212.9 538.6,214.6 540.9,216.6 542.8,218.6 544.3,220.6 545.6,222.6 547.0,225.6 547.7,227.6 548.5,230.6 549.0,235.6 548.9,238.6 548.4,241.6 546.9,246.6 545.4,249.6 544.2,251.6 542.2,254.3 540.2,256.4 536.2,259.7 534.2,261.0 531.2,262.5 528.2,263.6 525.2,264.4 522.2,264.8 519.2,264.9 514.2,264.4 512.2,263.9 509.2,262.9 506.6,261.6 504.2,260.1 502.2,258.6 500.1,256.6 496.9,252.6 495.7,250.6 494.3,247.6 493.6,245.6 492.9,242.6 492.5,239.6 492.4,236.6 493.0,231.6 494.6,226.6 495.5,224.6 497.2,221.7 498.7,219.6 500.5,217.6 504.2,214.3 506.2,213.0 509.2,211.4 512.2,210.2Z"/>
<path fill="#d4539b" d="M516.6,211.6 519.2,211.2 522.2,211.1 527.2,211.7 529.2,212.2 532.2,213.3 536.2,215.5 538.2,217.0 540.2,218.8 543.2,222.6 544.4,224.6 545.8,227.6 546.7,230.6 547.1,232.6 547.4,237.6 546.6,242.6 545.7,245.6 544.9,247.6 543.8,249.6 541.8,252.6 540.1,254.6 538.2,256.4 534.2,259.4 531.2,261.0 529.2,261.8 524.2,263.0 519.2,263.3 516.2,263.0 514.2,262.6 512.2,262.0 509.2,260.8 505.2,258.3 503.1,256.6 501.2,254.7 499.6,252.6 498.3,250.6 496.4,246.6 495.8,244.6 495.1,241.6 494.9,236.6 495.6,231.6 496.5,228.6 497.3,226.6 499.6,222.6 501.2,220.6 503.0,218.6 505.2,216.7 507.2,215.3 511.2,213.2 514.2,212.2Z"/>
<path fill="#d34f99" d="M518.5,213.6 523.2,213.4 526.2,213.8 528.2,214.2 532.2,215.7 536.2,218.0 538.2,219.7 540.0,221.6 541.6,223.6 542.8,225.6 544.6,229.6 545.4,232.6 545.7,234.6 545.8,236.6 545.6,239.6 544.8,243.6 543.7,246.6 542.8,248.6 540.0,252.6 538.2,254.6 536.2,256.3 532.2,258.9 530.2,259.8 527.2,260.9 523.2,261.6 521.2,261.7 518.2,261.6 514.2,260.8 510.2,259.2 508.2,258.1 506.1,256.6 503.0,253.6 501.4,251.6 500.2,249.6 498.4,245.6 497.8,243.6 497.3,240.6 497.1,237.6 497.2,235.6 498.0,231.6 499.0,228.6 499.9,226.6 502.5,222.6 505.4,219.6 509.2,216.8 513.2,214.9 516.2,214.0Z"/>
<path fill="#d14895" d="M519.7,215.6 524.2,215.6 528.2,216.3 532.2,217.9 534.2,219.0 536.2,220.5 539.3,223.6 540.7,225.6 541.9,227.6 543.4,231.6 544.1,235.6 544.1,238.6 543.9,240.6 543.0,244.6 541.1,248.6 539.1,251.6 536.1,254.6 534.2,256.1 532.2,257.3 528.2,259.0 525.2,259.8 523.2,260.1 520.2,260.1 518.2,259.9 514.2,259.0 510.2,257.2 507.2,255.1 504.2,252.1 501.9,248.6 500.9,246.6 499.9,243.6 499.3,239.6 499.3,236.6 499.5,234.6 500.5,230.6 502.4,226.6 504.5,223.6 507.6,220.6 511.2,218.2 515.2,216.5 517.2,216.0Z"/>
<path fill="#cf4191" d="M519.6,217.6 522.2,217.4 524.2,217.5 528.2,218.3 532.2,220.0 535.2,222.0 537.8,224.6 540.2,228.1 541.7,231.6 542.6,235.6 542.6,239.6 541.8,243.6 540.1,247.6 538.1,250.6 535.2,253.6 532.2,255.7 528.2,257.5 524.2,258.5 520.2,258.6 516.2,257.9 512.2,256.3 509.2,254.4 506.2,251.6 504.0,248.6 503.0,246.6 502.2,244.6 501.4,240.6 501.3,236.6 502.0,232.6 503.6,228.6 505.5,225.6 508.4,222.6 510.2,221.2 512.2,220.0 516.2,218.3Z"/>
<path fill="#cd3a8d" d="M518.8,219.6 522.2,219.3 526.2,219.7 528.2,220.2 530.2,221.0 533.2,222.7 535.5,224.6 538.0,227.6 539.7,230.6 540.9,234.6 541.2,238.6 540.8,241.6 539.6,245.6 537.9,248.6 535.4,251.6 532.2,254.1 530.2,255.2 528.2,256.1 525.2,256.9 521.2,257.1 518.2,256.8 516.2,256.3 514.2,255.5 511.2,253.8 508.5,251.6 506.1,248.6 504.5,245.6 503.3,241.6 503.1,238.6 503.4,234.6 504.7,230.6 506.4,227.6 509.0,224.6 512.2,222.1 515.2,220.6Z"/>
<path fill="#cb3289" d="M517.8,221.6 521.2,221.0 524.2,221.1 528.2,222.0 531.2,223.3 534.2,225.6 536.1,227.6 538.0,230.6 539.1,233.6 539.7,236.6 539.6,240.6 538.9,243.6 537.6,246.6 535.5,249.6 533.2,251.8 530.2,253.7 528.2,254.6 526.2,255.2 522.2,255.7 519.2,255.5 516.2,254.7 513.2,253.3 510.2,251.0 508.1,248.6 506.3,245.6 505.3,242.6 504.8,239.6 505.0,235.6 505.8,232.6 507.2,229.6 509.2,226.9 511.7,224.6 514.2,223.0Z"/>
<path fill="#ca2f88" d="M521.3,222.6 524.2,222.6 527.2,223.3 530.2,224.5 533.2,226.7 535.2,228.8 536.9,231.6 538.0,234.6 538.4,237.6 538.2,240.6 537.5,243.6 536.1,246.6 534.2,249.1 532.2,251.0 529.2,252.8 526.2,253.9 523.2,254.4 520.2,254.3 517.2,253.6 514.2,252.2 511.9,250.6 510.0,248.6 508.0,245.6 506.9,242.6 506.4,239.6 506.5,236.6 507.2,233.6 508.5,230.6 510.2,228.2 512.2,226.2 515.2,224.3 518.2,223.1Z"/>
<path fill="#c82884" d="M518.5,224.6 521.2,224.1 524.2,224.1 527.2,224.8 530.2,226.2 532.2,227.6 534.1,229.6 535.4,231.6 536.6,234.6 537.1,237.6 537.0,240.6 536.5,242.6 535.2,245.6 533.9,247.6 531.9,249.6 530.2,250.9 527.2,252.3 524.2,253.0 521.2,253.1 518.2,252.5 515.2,251.2 512.9,249.6 511.0,247.6 509.6,245.6 508.4,242.6 507.9,239.6 508.0,236.6 508.7,233.6 509.6,231.6 511.2,229.3 513.2,227.3 515.2,226.0Z"/>
<path fill="#c62080" d="M520.1,225.6 522.2,225.4 525.2,225.6 527.2,226.2 530.2,227.7 532.2,229.4 533.9,231.6 534.9,233.6 535.8,236.6 535.9,239.6 535.6,241.6 534.5,244.6 533.2,246.6 531.3,248.6 529.2,250.1 527.2,251.1 524.2,251.8 522.2,251.9 519.2,251.5 516.2,250.3 514.2,249.0 512.7,247.6 511.2,245.6 509.8,242.6 509.3,240.6 509.2,237.6 509.5,235.6 510.7,232.6 511.9,230.6 513.2,229.2 515.2,227.6 517.2,226.5Z"/>
<path fill="#c41a7c" d="M517.8,227.6 520.2,226.8 522.2,226.6 525.2,226.9 527.2,227.5 529.2,228.5 531.2,230.1 532.5,231.6 533.7,233.6 534.6,236.6 534.8,238.6 534.6,240.6 533.7,243.6 532.6,245.6 531.2,247.2 529.2,248.8 527.2,249.9 525.2,250.5 523.2,250.8 521.2,250.7 518.2,250.0 516.2,249.0 514.2,247.5 512.6,245.6 511.5,243.6 510.8,241.6 510.5,239.6 510.6,236.6 511.2,234.6 512.1,232.6 513.6,230.6 515.2,229.1Z"/>
<path fill="#c2197a" d="M518.4,228.6 520.2,228.0 523.2,227.7 525.2,228.0 527.2,228.7 528.8,229.6 530.2,230.7 531.8,232.6 532.9,234.6 533.5,236.6 533.7,238.6 533.6,240.6 533.0,242.6 532.0,244.6 530.3,246.6 529.1,247.6 527.2,248.7 525.2,249.4 523.2,249.7 521.2,249.6 519.2,249.2 517.2,248.3 515.2,246.9 514.0,245.6 512.7,243.6 512.0,241.6 511.6,239.6 511.8,236.6 512.4,234.6 513.5,232.6 515.2,230.6 517.2,229.2Z"/>
<path fill="#bd1777" d="M518.8,229.6 520.2,229.1 522.2,228.8 524.2,228.9 526.2,229.4 528.2,230.4 529.7,231.6 530.6,232.6 531.8,234.6 532.5,236.6 532.7,238.6 532.6,240.6 531.9,242.6 530.8,244.6 530.0,245.6 528.2,247.1 526.2,248.1 524.2,248.6 522.2,248.7 519.2,248.1 517.2,247.1 515.4,245.6 514.5,244.6 513.4,242.6 512.8,240.6 512.6,238.6 512.9,236.6 513.6,234.6 514.8,232.6 515.7,231.6 517.2,230.4Z"/>
<path fill="#b91574" d="M518.9,230.6 520.2,230.1 522.2,229.8 525.2,230.1 527.2,230.9 528.2,231.6 529.3,232.6 530.8,234.6 531.7,237.6 531.8,239.6 531.4,241.6 530.4,243.6 529.2,245.1 528.2,246.0 526.2,247.1 524.2,247.7 522.2,247.8 519.2,247.2 517.2,246.0 516.2,245.1 515.0,243.6 514.4,242.6 513.8,240.6 513.6,239.6 513.7,237.6 514.2,235.6 514.6,234.6 516.1,232.6 517.2,231.6Z"/>
<path fill="#b51370" d="M518.9,231.6 520.2,231.0 522.2,230.6 524.2,230.7 525.2,231.0 527.2,231.9 528.1,232.6 529.8,234.6 530.7,236.6 530.9,237.6 530.9,239.6 530.5,241.6 529.4,243.6 528.5,244.6 526.2,246.2 524.2,246.9 523.2,247.0 521.2,246.9 520.2,246.6 519.2,246.2 517.2,244.9 516.0,243.6 515.4,242.6 514.7,240.6 514.5,239.6 514.6,237.6 514.8,236.6 515.7,234.6 516.4,233.6 517.4,232.6Z"/>
<path fill="#b1116d" d="M521.2,231.6 522.2,231.4 524.2,231.6 526.2,232.3 527.2,232.9 528.9,234.6 529.5,235.6 530.1,237.6 530.1,239.6 530.0,240.6 529.1,242.6 528.4,243.6 527.2,244.7 526.2,245.4 524.2,246.1 522.2,246.2 521.2,246.1 519.2,245.3 518.2,244.7 517.0,243.6 516.3,242.6 515.5,240.6 515.3,239.6 515.4,237.6 515.6,236.6 516.6,234.6 517.5,233.6 518.7,232.6 520.2,231.9Z"/>
<path fill="#ae106b" d="M520.4,232.6 522.2,232.1 523.2,232.1 525.2,232.6 527.2,233.8 528.2,234.9 529.1,236.6 529.5,238.6 529.4,239.6 528.9,241.6 527.5,243.6 525.2,245.1 524.2,245.4 522.2,245.5 520.2,245.0 518.0,243.6 516.6,241.6 516.1,239.6 516.0,238.6 516.4,236.6 517.2,235.1 518.2,233.9 519.2,233.1Z"/>
<path fill="#aa0e68" d="M519.8,233.6 521.2,233.0 522.2,232.8 524.2,233.0 525.2,233.3 527.1,234.6 527.9,235.6 528.4,236.6 528.9,238.6 528.6,240.6 528.2,241.6 527.2,242.9 526.2,243.8 525.2,244.4 523.2,244.9 522.2,244.9 520.2,244.3 519.2,243.7 518.2,242.8 517.4,241.6 516.7,239.6 516.8,237.6 517.6,235.6 518.4,234.6Z"/>
<path fill="#a60c65" d="M521.4,233.6 523.2,233.4 525.2,234.0 526.2,234.6 527.1,235.6 527.8,236.6 528.1,237.6 528.2,239.6 528.0,240.6 527.5,241.6 526.2,243.1 524.2,244.1 522.2,244.3 520.2,243.6 518.8,242.6 517.6,240.6 517.3,238.6 517.8,236.6 518.4,235.6 519.2,234.7 520.2,234.0Z"/>
<path fill="#a10a61" d="M520.4,234.6 522.2,233.9 524.2,234.1 526.2,235.3 527.1,236.6 527.6,237.6 527.7,238.6 527.4,240.6 526.9,241.6 525.2,243.1 523.2,243.7 521.2,243.5 520.2,243.1 518.7,241.6 517.9,239.6 518.0,237.6 518.4,236.6 519.1,235.6Z"/>
<path fill="#9d085e" d="M521.7,234.6 523.2,234.5 525.2,235.1 526.6,236.6 527.0,237.6 527.1,239.6 526.9,240.6 526.2,241.6 525.2,242.5 524.2,243.1 522.2,243.3 521.2,243.0 520.2,242.5 519.3,241.6 518.7,240.6 518.3,238.6 518.5,237.6 518.9,236.6 520.2,235.2Z"/>
<path fill="#9b075c" d="M520.5,235.6 521.2,235.2 522.2,234.9 523.2,234.9 524.2,235.1 525.0,235.6 526.1,236.6 526.6,237.6 526.8,238.6 526.7,239.6 526.4,240.6 525.2,242.0 524.2,242.6 523.2,242.8 522.2,242.8 521.2,242.5 519.9,241.6 519.2,240.6 518.8,239.6 518.7,238.6 519.0,237.6 519.5,236.6Z"/>
<path fill="#970559" d="M521.4,235.6 522.2,235.3 523.2,235.3 524.2,235.6 525.2,236.2 526.1,237.6 526.4,238.6 526.3,239.6 525.9,240.6 525.2,241.5 524.2,242.2 523.2,242.4 522.2,242.4 521.2,242.1 520.2,241.3 519.6,240.6 519.3,239.6 519.4,237.6 520.2,236.4Z"/>
<path fill="#920355" d="M520.5,236.6 521.2,236.0 522.2,235.7 523.2,235.7 524.2,235.9 525.1,236.6 525.8,237.6 526.0,238.6 526.0,239.6 525.2,241.0 524.2,241.7 523.2,242.1 522.2,242.1 521.2,241.7 520.2,240.8 519.6,239.6 519.5,238.6 519.8,237.6Z"/>
<path fill="#8e0152" d="M521.0,236.6 522.2,236.0 523.2,235.9 524.2,236.3 525.4,237.6 525.7,238.6 525.6,239.6 525.1,240.6 524.2,241.4 523.2,241.7 522.2,241.7 521.2,241.3 520.4,240.6 519.9,239.6 519.8,238.6 520.2,237.6Z"/>
<path fill="#8e0152" d="M521.6,236.6 522.2,236.3 523.2,236.3 524.2,236.8 525.0,237.6 525.4,238.6 525.3,239.6 524.7,240.6 524.2,241.1 523.2,241.3 522.2,241.3 521.2,240.9 520.8,240.6 520.4,239.6 520.2,238.6 520.5,237.6Z"/>
</g>
<g clip-path="url(#ca)" fill="none" stroke-linecap="round" stroke-linejoin="round">
<path d="M54.7,145.6l.6-.6 .5-.6 .6-.7 .6-.6 .6-.5 .7-.5 .8-.4 .8-.5 .9-.3 1-.3 .9-.2 .9-.1 .9,.1 1,.2 .9,.3 .9,.3 .9,.5 .8,.4 .7,.5 .7,.5 .5,.6 .6,.6 .5,.6 .5,.7 .5,.7 .4,.6 .4,.7 .4,.8 .3,.8 .2,.9 .1,1 .1,1.2 -.1,1.2 0,1.2 -.1,1.3 0,1.2" stroke="#fc8464" stroke-width="1.10"/>
<path d="M78.8,144.7l.4,.1 .3,.1 .4,.1 .4,.1 .5,.1 .7,.1 .9,.2 1.1,.2 1.3,.3 1.3,.2 1.3,.2 1.2,.1 1.2,0 1.2-.2 1.3-.2 1.2-.2 1.1-.2 1.1-.1 1-.1 1-.1 1-.1 .9,0 .8,.1 .7,.2 .6,.3 .5,.4 .4,.5 .4,.6 .3,.7 .3,.7 .2,.8 .2,.9 .1,1 .2,1.1 .1,1 .1,1" stroke="#fc8464" stroke-width="1.10"/>
<path d="M104.5,154.6l0-.4 0-.4 0-.4 0-.4 .1-.4 .2-.4 .4-.4 .4-.4 .5-.4 .6-.4 .7-.3 .6-.2 .7-.1 .7,0 .8,.1 .8,.1 .7,.2 .8,.2 .8,.3 .7,.3 .8,.4 .8,.5 .7,.4 .6,.3 .5,.3 .5,.2 .5,.3 .4,.2 .4,.2 .4,.2" stroke="#fc8464" stroke-width="1.10"/>
<path d="M119.6,154.2l-.5-.3 -.4-.3 -.5-.3 -.4-.3 -.5-.4 -.4-.6 -.4-.7 -.5-1 -.4-1 -.4-1 -.4-1 -.3-.8 -.3-.7 -.2-.6 -.1-.6 -.2-.5 -.1-.5 -.2-.6" stroke="#fc8464" stroke-width="1.10"/>
<path d="M113.4,143.0l1.2-1.8 3.3-3.3 1.9-2.2 1.1-1.7 .9-1.6 .9-2.4 .2-1.4 -.6-7" stroke="#fc8464" stroke-width="1.10"/>
<path d="M122.3,121.6l.4,3 .5,1.4 1.4,2 1.3,1.1 1.8,.9 2.4,.8 2.6,.5 2.4,.1 2.5-.2 2.3-.4 2.1-.6 2.7-1.3 2.3-1.8 1.4-1.6 1.8-2.6 .2-1.3" stroke="#fc8464" stroke-width="1.10"/>
<path d="M150.4,121.6l.2,.9 .2,.9 .1,.9 .2,.9 .3,.9 .3,.8 .5,.8 .5,.9 .6,.8 .6,.7 .7,.7 .6,.6 .6,.5 .6,.3 .6,.3 .6,.2 .6,.2 .6,.3" stroke="#fc8464" stroke-width="1.10"/>
<path d="M158.8,133.2l-.5-.3 -.6-.4 -.5-.4 -.6-.3 -.5-.3 -.6-.3 -.6-.2 -.6-.3 -.6-.1 -.6-.2 -.7,0 -.7,.1 -.8,.3 -.9,.3 -.9,.5 -.9,.6 -1,.5 -.9,.5" stroke="#fc8464" stroke-width="1.10"/>
<path d="M152.0,126.0l-.2,.3 -.2,.2 -.2,.2 -.2,.2 -.2,.4 -.2,.5 -.3,.7 -.3,.8 -.3,1 -.4,1 -.3,1 -.2,.9 -.2,.9 -.1,.9 -.1,.8 -.1,.9 0,.9 0,.9 .1,.9 .1,.9 .2,1 .3,.9 .3,.9 .4,.8 .5,.8 .5,.7 .7,.8 .6,.7 .7,.7 .6,.7" stroke="#fc8464" stroke-width="1.10"/>
<path d="M74.9,137.0l.5,.4 .6,.3 .5,.4 .6,.3 .4,.5 .4,.5 .3,.6 .3,.7 .1,.8 .2,.8 0,.8 0,.8 -.1,.8 -.3,.9 -.3,.9 -.3,1 -.4,.9 -.4,.8 -.4,.8 -.4,.7 -.5,.7 -.4,.8 -.5,.7 -.5,.8 -.5,.8 -.5,.9 -.5,.9 -.5,.9 -.5,.9 -.5,.9" stroke="#666" stroke-width="2.2"/>
<path d="M74.9,137.0l.5,.4 .6,.3 .5,.4 .6,.3 .4,.5 .4,.5 .3,.6 .3,.7 .1,.8 .2,.8 0,.8 0,.8 -.1,.8 -.3,.9 -.3,.9 -.3,1 -.4,.9 -.4,.8 -.4,.8 -.4,.7 -.5,.7 -.4,.8 -.5,.7 -.5,.8 -.5,.8 -.5,.9 -.5,.9 -.5,.9 -.5,.9 -.5,.9" stroke="#2e2e2e" stroke-width="2.3" stroke-dasharray="0.45 1.15" stroke-linecap="butt"/>
<path d="M74.4,136.6 L75.5,137.6" stroke="#f39200" stroke-width="2.2"/>
<path d="M108.9,143.0l.9-.2 .9-.2 .9-.2 .9-.2 .9-.2 .9-.3 .9-.3 1-.3 .9-.4 .9-.3 .8-.5 .8-.5 .7-.6 .6-.7 .6-.8 .5-.7 .5-.8 .3-.8 .3-.8 .1-.8 .1-.8 0-.7 0-.8 -.1-.6 -.2-.5 -.2-.5 -.3-.4 -.3-.4 -.3-.4 -.3-.4" stroke="#666" stroke-width="2.2"/>
<path d="M108.9,143.0l.9-.2 .9-.2 .9-.2 .9-.2 .9-.2 .9-.3 .9-.3 1-.3 .9-.4 .9-.3 .8-.5 .8-.5 .7-.6 .6-.7 .6-.8 .5-.7 .5-.8 .3-.8 .3-.8 .1-.8 .1-.8 0-.7 0-.8 -.1-.6 -.2-.5 -.2-.5 -.3-.4 -.3-.4 -.3-.4 -.3-.4" stroke="#2e2e2e" stroke-width="2.3" stroke-dasharray="0.45 1.15" stroke-linecap="butt"/>
<path d="M121.2,127.2 L122.0,128.8" stroke="#f39200" stroke-width="2.2"/>
<path d="M147.2,142.1l.3,.6 .2,.6 .2,.6 .3,.5 .3,.6 .5,.6 .6,.6 .6,.6 .7,.6 .8,.5 .9,.5 .9,.5 1.1,.4 1.1,.3 1.3,.2 1.3,.3 1.2,.2 1.1,.3 1,.3 1,.3 .9,.3 .9,.3 .8,.3 .7,.3 .6,.3 .5,.2 .5,.2 .4,.2 .4,.3 .5,.2" stroke="#666" stroke-width="2.2"/>
<path d="M147.2,142.1l.3,.6 .2,.6 .2,.6 .3,.5 .3,.6 .5,.6 .6,.6 .6,.6 .7,.6 .8,.5 .9,.5 .9,.5 1.1,.4 1.1,.3 1.3,.2 1.3,.3 1.2,.2 1.1,.3 1,.3 1,.3 .9,.3 .9,.3 .8,.3 .7,.3 .6,.3 .5,.2 .5,.2 .4,.2 .4,.3 .5,.2" stroke="#2e2e2e" stroke-width="2.3" stroke-dasharray="0.45 1.15" stroke-linecap="butt"/>
<path d="M167.8,153.4 L169.6,154.3" stroke="#f39200" stroke-width="2.2"/>
<path d="M54.7,135.8l.5,.8 .5,.7 .4,.8 .5,.7 .4,.8 .4,.7 .3,.7 .3,.8 .2,.7 .2,.7 .2,.8 0,.7 0,.8 -.1,.8 -.1,.8 -.3,.7 -.3,.8 -.4,.6 -.6,.6 -.7,.6 -.8,.5 -.8,.4 -.8,.4 -.8,.2 -.8,.1 -.7-.1 -.8-.1 -.7-.3 -.7-.2 -.7-.3 -.6-.3 -.5-.3 -.5-.4 -.5-.4 -.4-.4 -.5-.4" stroke="#000" stroke-width="1.9"/>
</g>
<g clip-path="url(#cc)" fill="none" stroke-linecap="round" stroke-linejoin="round">
<path d="M54.7,337.5l.8,0 1.6,1.7 1.4,.5 1.6,1.1 .1,.5 1.4,1.5 1.1-.1 .5-2.6 .6-.4" stroke="#fb7656" stroke-width="0.9"/>
<path d="M63.8,339.7l.5,.2 1.7-2.6 .9,.2 1,.3 .7,1.4 1.3,1.3 .4,.1 1.1-.9 .8,0 .8,1.2" stroke="#fb6c4c" stroke-width="0.9"/>
<path d="M73.0,340.9l-.7,0 1.5,.8 .3,.1 .8,.3 1.6,.2 .3-1.8 -.2-1.6 1-1.4 .4-2.1" stroke="#f96044" stroke-width="0.9"/>
<path d="M78.0,335.4l1.7-1.1 .9-.7 1.7,.2 -.7-.5 2.1-.4 .7,.8 2-.4 1.4,1.9 1.3,1.6 2.1,1.3" stroke="#f6553c" stroke-width="0.9"/>
<path d="M91.2,338.1l.9,2.4 .9,.7 -.1,1.4 .7,1.7 1,1.3 .8,1.1 -1,.7 1.2-.2 -.1-1.2 1.1-.6" stroke="#f34935" stroke-width="0.9"/>
<path d="M96.6,345.4l1.8,.1 .4,.5 .9,.3 1.3-.9 .6-.3 1.1-.8 1.1-.7 1.5-.5 .5,.5" stroke="#f03d2d" stroke-width="0.9"/>
<path d="M105.8,343.6l.3,0 2.3,1.3 .4,.9 .8-.3 2,.3 1.1,.8 .3,.9 1-.1 1.7,.7 .8,0" stroke="#e83429" stroke-width="0.9"/>
<path d="M116.5,348.1l.7,1.3 .8-.5 .1-.3 -.4,.9 1.4,.5 -.5,1.3 -.3,.7 0,1.5 .6,.2 1.5,.6" stroke="#de2b25" stroke-width="0.9"/>
<path d="M120.4,354.3l1,.7 2,1.2 2.3-1.8 1.8,1.1 2.4,.2 .1,.5 2-.4 .5,.5 .2,.7" stroke="#d52221" stroke-width="0.9"/>
<path d="M132.7,357.0l.9,1.5 1-.1 .8-1 1.2-.9 2.6-1.2 .6,0 1.4-.3 .9-.6 2.1,.8 1.6-.2" stroke="#cc191e" stroke-width="0.9"/>
<path d="M145.8,355.0l.7,.5 1.7,.7 .6,.3 1.3-.5 .5,0 .5-1.8 .8-1.2 .6-1.8 .1-.8 .9,.7" stroke="#c3161b" stroke-width="0.9"/>
<path d="M153.5,351.1l1.5,.7 .7-.6 .2-2.1 1.4,.1 -.9-1.8 .5,0 1.6-2.6 1,.3 1.3-.8" stroke="#b91419" stroke-width="0.9"/>
<path d="M160.8,344.3l2.6-.7 .7,0 .6-.7 .7-.9 1,0 .3-.4 .5-2.1 -.1-.5 -1.9-.2 -1-.7" stroke="#b01217" stroke-width="0.9"/>
<path d="M164.2,338.1l-.9,.1 -1.9,.3 .4-2.3 -1.5-.3 -.3,.3 -2.6-1.6 .6-.2 -.9,.6 -.4-.2 -.6,.4" stroke="#a60f15" stroke-width="0.9"/>
<path d="M57.2,339.8l-.9,.3 -.9,.2 -.9,0 -.9-.2 -.9-.2 -.8-.5 -.6-.5 -.5-.6 -.4-.7 -.1-.7 .1-.8 .2-.7 .4-.6 .6-.6 .7-.5 .9-.3 .9-.2 .9-.1 .9,.1 .9,.2 .8,.4 .7,.5 .6,.6" stroke="#5a5a5a" stroke-width="1.6"/>
<path d="M57.5,334.1l.4,.3 .3,.3 .3,.3 .3,.4 .2,.4 .2,.3 .1,.4 .1,.4 0,.4 0,.4 -.1,.4 -.1,.4 -.2,.3 -.3,.3 -.2,.3 -.3,.3 -.4,.2 -.4,.2 -.4,.1 -.4,.1 -.4,.1 -.5,0 -.5,0" stroke="#f39200" stroke-width="1.6"/>
<path d="M83.7,332.6l.1-.7 .2-.5 .4-.4 .5-.2 .6,0 .7,.1 .7,.3 .8,.4 .8,.6 .7,.7 .7,.7 .7,.9 .5,.8 .5,.9 .3,.9 .1,.7 0,.7 -.1,.6 -.3,.5 -.4,.3 -.5,.1 -.7,0 -.7-.2" stroke="#5a5a5a" stroke-width="1.6"/>
<path d="M91.6,337.0l.2,.6 .2,.5 .1,.5 0,.4 0,.4 -.2,.4 -.2,.2 -.2,.2 -.3,.1 -.4,0 -.4,0 -.5-.2 -.5-.2 -.5-.3 -.5-.3 -.5-.4 -.4-.5 -.5-.5 -.4-.5 -.4-.6 -.4-.6 -.3-.5 -.2-.6" stroke="#f39200" stroke-width="1.6"/>
<path d="M115.5,349.2l-.2-.6 0-.6 0-.5 .2-.5 .2-.4 .4-.2 .5-.2 .5,0 .6,0 .6,.2 .7,.3 .6,.4 .6,.4 .6,.6 .6,.6 .4,.6 .4,.6 .3,.7 .2,.6 0,.6 0,.5 -.2,.5 -.2,.4" stroke="#5a5a5a" stroke-width="1.6"/>
<path d="M123.0,352.2l.1,.5 .1,.4 0,.4 -.1,.3 -.2,.3 -.2,.2 -.3,.2 -.3,0 -.4,0 -.4-.1 -.4-.1 -.4-.3 -.5-.3 -.4-.3 -.5-.4 -.4-.5 -.4-.4 -.3-.5 -.3-.5 -.2-.5 -.2-.5 -.1-.5 0-.4" stroke="#f39200" stroke-width="1.6"/>
<path d="M153.3,333.8l0-.5 0-.6 .1-.5 .1-.5 .2-.5 .3-.4 .3-.4 .3-.3 .4-.2 .4-.2 .4-.1 .4,0 .4,.1 .4,.2 .4,.2 .3,.3 .3,.4 .3,.4 .2,.5 .1,.5 .1,.5 0,.6 0,.5" stroke="#5a5a5a" stroke-width="1.6"/>
<path d="M158.5,334.9l0,.8 -.1,.8 0,.8 -.2,.7 -.2,.7 -.2,.6 -.3,.6 -.3,.4 -.3,.3 -.4,.3 -.3,.1 -.4,0 -.3-.1 -.4-.3 -.3-.3 -.3-.4 -.3-.6 -.2-.6 -.2-.7 -.2-.7 0-.8 -.1-.8 0-.8" stroke="#f39200" stroke-width="1.6"/>
</g>
<g clip-path="url(#cb1)" fill="none" stroke-linejoin="round">
<line x1="300.0" y1="172.7" x2="459.3" y2="15.4" stroke="#000" stroke-width="1.75" stroke-dasharray="9.8 8.4"/>
<path d="M358.7,114.7l1.5,1.5 1.8,1.2 1.3,.4 1.4,.2 1.4-.1 1.3-.3 1.2-.8 2-1.9 -3.7,1.9 -1.1,.9 -.5,.5 -.5,2 .5,2 1.4,1.6 3.7,2 3.4,2.3 1.9,1 3.4,.9 5.5,.7 -1.6,1.3 -1.1,1.7 -.6,2.1 0,2.1 .3,1.3 .7,1.2 .9,1 2.3,1.7 2,.6 4.9,.4 2-.5 2.5-1.2 2.7-.9 2-.3 1.4,0 2.1,.4 3.3,1.2 4.4,3.4 1.9,1 1.3,.3 1.4,0 2.7-.8 1.8-1 -2.7-.5 -2.7-.8 -5-2.5 -2.3-1.6 -.8-1.2 -.6-2 .3-2 1.1-1.8 1-1 1.9-1 6.9-.8 1.4,.1 1.4,.3 1.9,.8 2.5,1.2 1.4,.4 1.4,.1 1.3-.2 2.6-1.2 1.6-1.3 .9-1.9 .3-1.4 -.1-.7 -.6-1.3 -.7-1.1 -3.4-3.6 -.6-1.3 -1.3-3.9 -1.2-1.8 -1.1-.8 -1.3-.5 -6.3-.4 -1.4,.3 -.6,.3 -.9,1.1 -.4,1.3 .1,1.4 .3,.6 .5,.5 1.3,.5 2.1,0 2-.7 3.3-2.6 .6-1.2 1.7-1.3 -.7,.1 -1.3,.6 -.8,1.1 .5,.5 -.7-.1 2,.3 1.2,.8 .5,1.2 -.2,1.4 -1.1,.9 -.6,.2 -1.4-.4 -.9-1 -.3-1.4 .1-.7 1.3-1.6 1.9,3 2.5,2.4 1.7,2.2 .8,2 0,1.4 -.6,2 -1.2,1.7 -1.6,1.3 -2.1,.5 -2,.1 -3.5-.7 -1.8-1.1 -1.5-1.4 -.7-1.2 -.5-1.3 -.5-2.8 .2-2 .9-1.9 1-1 1.8-1.1 -.8,1.9 -.2,1.4 .3,1.4 .6,1.2 1,1.1 1.1,.8 1.3,.4 1.4-.2 1.2-.7 .4-.5 .5-1.3 .2-2.8 -.8-2.7 -.4-.6 -3-2.9 -2.2-3.6 -2.3-5.1 -1.6-6.8 -1.8-3.8 -1.6-2.3 -2.3-2.6 -1.7-1.2 -2-.8 -4.7-1.1 -1.9-1 -1.6-1.4 1.7,1.3 2,.7 2.1,.2 5.6,.1 2,.4 1.9,1 1.3,1.6 .7,2 -.2,1.4 -.7,1.2 -2.1,2.7 -.7,1.3 -.3,1.3 .9-1 1.3-.5 1.4,.1 1.2,.7 1.4,1.6 4.5,7.9 2.6,3.3 -2.4-1.5 -1-.9 -1.1-1.8 -1.2-2.6 -.8-1.1 -1.1-.8 -.7-.2 -1.4,.1 -.6,.3 -1.1,.9 -.7,2 .1,4.2 -.3,3.4 .2,1.4 1,1.9 1,1 1.2,.7 -.1-1.4 .5-2 1.1-1.8 1.3-1.7 -.6,.4 1.4-.1 1.4,.3 1.8,1 1.6,1.4 -1.4-1.6 -1.6-1.3 .7,1.2 1.4,1.6 4.1,2.6 .9,1 .7,1.3 .2,1.4 -.2,2 -.6,1.3 -.9,1 -1.2,.8 -1.3,.5 -1.4-.2 -.6-.3 -1.1-.8 -1.1-1.8 -.4-1.4 0-1.3 .9-1.9 1-1 2-.8 -1.4-.3 -1.4,0 -1.9,.7 -1.1,1 -.8,1.1 -.4,1.3 0,1.4 .3,1.4 .3,.6 .5,.6 1.2,.6 1.4,0 1.8-1 1.2-1.7 .8-1.9 .1-2.1 -.4-1.4 -.3-.6 -1.1-.9 -1.3-.4 -4.1,.6 -3.5,.2 -1.4-.2 -1.2-.7 -1.1-1.8 -1.7-4.6 -.1-2.1 .5-2.7 1.5-6.2 .6-1.2 .9-1.1 1.7-1.3 1.9-.7 2.1-.1 1.4,.4 -1.3-.6 -1.4-.1 -1.3,.5 -.9,1 -.7,1.2 -.2,1.4 .1,1.4 .4,1.3 .9,1.1 1.1,.9 6.3,3.1 4,2.8 1,.9 .6,1.3 .4,1.3 .1,2.8 -.3,2.1 -1,1.8 1.2-.7 .8-1.2 .1-1.4 -.8-1.9 .7,1.2 .9,1.9 .3,1.4 .4,3.4 .6,1.3 .5,.5 -.7-3.5 -2.2-4.4 -1.2-1.7 -2.9-2.9 -.7-1.2 -.5-1.4 -.3-2 .1-1.4 .4-1.4 .7-1.1 1.1-1 2.5-1.1 2.1-.2 1.9,.8 1.3,1.6 .6,2 .1,4.9 -.3,2.1 1.8-2.1 3.5-5.3 1.2-2.5 .3-2.8 -.4-6.2 .6-2.8 1.3-3.2 .7-1.2 1-1 1.2-.7 .7-.1 1.4,.2 .5,.5 .3,.6 .1,.7 -.4,1.3 -.4,.6 -1.2,.7 -2.8,.3 -1.4-.2 -1.3-.4 -1.2-.8 -.8-1.1 -1.5-3.1 -.4-2.8 -.8-1.1 -.7-.3 -.7,.1 -1.3,.5 -2.2,1.7 -1.2,1.7 -1.4,2.4 1.3-1.7 1-.8 .7-.3 .7-.2 .6,.1 2,.8 1.3,1.6 .6,2 -.2,2.1 -.6,1.2 -1.2,.8 -2,.5 -1.4,.1 -2.8-.4 -1.3-.5 -1-.9 -.6-1.2 0-.7 .5-1.3 .4-.6 .6-.4 1.3-.4 .7-.1 1.4,.3 2.4,1.3 1.6,1.4 .9,1.9 .1,2.1 -.6,2 -.8,1.1 -1,1 -5.3,3.5 -5.7,2.6 -2.4,1.4 -1.2,.8 -1.3,1.7 -4.2,8 -1.6,2.4 -2.1,2.7 -2,2 -2.1,1.8 -1.3,1.7 -1.9,2.9 -.7,2 0,2.1 2,6.7 -.2,1.3 -.3,.7 -1,1 -1.2,.7 -1.3,.5 -6.8,1.7 -2.7,.4 -2.8-.3 -1.3-.5 -1.2-.7 -.8-1.2 -.2-.6 -.1-.7 .5-1.3 .9-1.1 1.3-.6 .7-.1 1.3,.3 .6,.4 .9,1.1 .4,1.3 0,1.4 -.8,1.9 -1,1 -1.1,.9 -3.1,1.5 -2.7,.7 -3.5,.3 -.7,0 2.1-2.8 .7-1.2 .6-2 .2-2.1 -.4-2.1 -.7-1.2 -1.1-.9 -1.3-.5 -4.1-.7 -2.1,.1 -4.1,.8 -5.9,2.1 -3.2,2.7 -2,.8 -1.3,0 -.6-.4 -.4-.6 -.2-.6 .3-1.4 .8-1.1 7.7-8.2 1.7-2.2 1-1.8 .6-1.3 .7-4.2 1.8-4.5 1.8-6.1 .7-1.2 1.4-1.6 -3.1,3.8 -2.6,2.4 -.1-2.1 .4-2 .5-1.3 .8-1.1 1.7-1.3 1.4-.3 1.4-.1 1.4,.3 1.2,.6 1.1,1.7 -.3-.6 3.3,1.1 4.8,.8 2.8,.1 2.1-.5 1.9-.7 2.3-1.6 2-2 -1.5,3.2 -.3,2 .3,2.1 .5,1.3 .7,1.2 1,1 -1.4,.1 -2-.6 -3-1.9 -1.4-1.5 1.4-.1 -.9,1.1 -.5,1.3 .1,1.4 .5,1.3 .5,.5 1.3,.7 2,.2 2-.8 2.5-2.4 .8-1.9 .1-1.4 -.3-2.1 -1.6-2.3 -1-.9 -2-.8 -2.7-.4 -2.1,.3 -1.1,.9 -.3,.6 -.1,.7 .2,.7 .5,.5 -.3-.7 -.1-.6 .6-1.3 1.6-1.4 2-.6 1.4,.1 -1,1 -.4,1.3 -.4,3.5 .1,1.4 0-1.4 .4-1.3 -1.6,1.3 -.6,1.3 -.6,2 -.1,2.1 .2,.6 .9,1.1 1.3,.5 .7-.1 1.3-.4 1.2-.8 1.9-2 3.2-5.4 -1.8,3.7 -1.1,1.9 -.7,1.9 -1.2,5.5 -1.3,3.2 -1.7,2.3 -1.5,1.4 -1.2,.7 -2,.6 7.2-2.6 1.4-.2 1.4,.1 -1.4,0 -2.1,.5 -1.8,1 -1.1,.9 -.7,1.2 -.4,1.3 0,1.4 .7,1.2 1.2,.7 2.1,.3 2.1,0 3.5-.4 3.4-.6 3.3-1.2 3.4-.9 1.2-.6 2-1.9 .9-1.2 .9-2.6 .2-2.1 -.2-6.3 .9,1.9 .9,1.1 1.7,1.3 1.3,.5 1.4,.1 2-.4 1.3-.6 1.7-1.2 .1,1.4 .5,1.3 1.1,1.7 1.8,1.1 3.3,1.1 1.9,.9 1.8,1.1 1.5,1.5 .7,1.2 .1,1.4 -.6,2 -1,1 -1.3,.4 -.7,0 -1.3-.5 -.9-1.1 -.2-.7 0-1.4 .7-2 1-1.8 2.1-2.8 1.9-2 .8-1.2 .2-.7 .1-1.4 -.3-1.3 -1.4-1.6 -3.3-2.5 -1.9-1 -2-.5 -2.8,.3 -9.3,2.9 -2.1-.2 -1.2-.7 -.4-.6 -.5-1.3 -.2-1.4 .2-2.1 .8-2.6 2.6-4.2 .4-1.4 -.1-.7 -.4-1.3 -1-1 -.6-.3 -1.4-.2 -2,.5 2-.7 2,0 -2,.5 -4.6,1.5 -1.4,.1 -1.4-.3 3.7,3.2 .8,1.1 .5,1.3 .3,4.2 -.2,2.8 -.5,1.3 -.9,1.1 -.6,.4 1.4,.2 .6-.3 .6-.4 .7-1.2 -.2-1.4 1.4,0 2,.7 1.2,.8 .7,1.1 .1,1.4 -.6,1.3 -.5,.4 -.7,.2 -1.4-.1 -1.2-.6 -1.6-1.4 -.7-1.2 -.5-1.3 -.1-2.8 .6-2.7 .9-1.9 2.4-4.3 .3-1.3 .1-1.4 -.3-2.1 -.6-1.3 -1-1 -2.3-1.5 2.1,.3 1.3,.5 3.6,2.1 1,.9 1.8,2.2 1.6,3.1 .5,2.1 0,3.5 .9,4.8 0,1.4 -.7,1.2 -1.1,.9 .9-1.1 .4-1.3 0-.7 -.5-2.1 -.7-1.1 .5,1.2 .1,.7 -.3,1.4 -.4,.6 -1.1,.8 -1.4,.1 2.6,2.3 1.3,1.7 2.7,7.2 .1,1.4 -.3,2.1 -.6,1.2 -.8,1.2 -.5-.6 -.3-.6 -.3-1.4 .2-2.1 .5-2 .2,1.4 .6,1.3 1,1 1.2,.7 4,1 7.2,2.9 1.3,.3 .7,0 .7-.3 .5-.5 .5-2 0-4.9 .4-4.9 -.1-2.1 -.3-1.4 -.7-1.2 -3.1-3.7 -.8-2 -.2-2.1 -.5-1.3 -.4-.5 -1.1-.8 -4.6-1.7 -5.6-.8 -3.5,0 2-.6 -.6,2 .2,2.7 -.6-.3 -1.5-1.4 -1.8-2.2 -2.4-2.6 -3.9-2.8 -1.6-2.3 -.9-2.7 .1,.7 -4.4-3.4 -1.4-1.6 -1-1.9 -.1-1.4 .3-1.3 .9-1.1 .7,4.2 -.3,2.1 -1.1,1.8 -2,1.9 -2.2,3.6 -1-4.1 -.8-1.9 -1.4-1.6 -1.9-.8 1.4,.2 4.6,1.6 2.1,.3 1.4,0 -2.6-2.4 -1.2-.6 -3.4-1 -2.1-.2 -1.4,.2 -1.3,.5 -1.1,.8 -.7,1.2 -.2,1.3 .5,1.4 .8,1.1 1.1,.8 4.3,2.5 1.4,1.5 .8,1.9 .9,4.8 .6,1.3 1.1,1.7 1,1 1.2,.8 1.9,.8 1.4,.2 -3.7-2 -.8-1.1 -.6-1.3 .3,2.8 1.9,6 .6,5.5 2.9,9.4 .7-1.2 1.7-2.2 1-1.9 .4-2.7 -.3-2.1 -.7-1.2 -1.7-1.2 -6-1.9 1.3,2.5 .4,1.3 .7,5.6 -.4-2.1 .3-2.1 1.1-2.5 2.4-3.5 -2.3,3.5 -4.3,3.6 -2.3,2.6 -1.9,3.8 -1.2,1.7 -1.1,.8 -2.6,1.1 2.1,.4 2.8-.1 -.6,.3 -2.7,.7 -2.1,.1 -5.4-1.5 1.3,.4 1.4,.1 1.3-.6 .8-1.1 0-1.4 -.8-1.1 -1.2-.6 -.7,0 -1.3,.6 -1,1 -2.8,4.8 -2.1,1.9 -1.8,1 -5.3,1.8 -2.1,.4 -4.9-.1 -4.8-.6 -4-1.3 -1.1-.9 -.7-2 -.9-4.1 -.8-2.7 -.8-5.5 .6,.4 -.7-2 -.7-3.4 2,.8 -1-1.8 -.2-2.1 .3-2.1 .7-1.2 .9-1 1.3-.7 1.3-.5 1.4-.1 1.3,.4 1.8,1 1.6,1.4 .8,1.2 .4,2 -.5,3.5 .1,1.4 .3,.6 .7-1.1 .6-.4 1.4-.4 .7,0 1.3,.4 1.7,1.2 -3.1-1.6 -4.6-1.6 -1.8-1 -.9-1.1 -.2-.6 -.1-.7 .3-.7 .4-.6 .6-.3 .7-.1 .7,.2 1.1,.9 .5,1.2 .1,1.4 -.4,1.4 -1,1.8 -1.5,2.4 -.6,2 .2,2 .7,1.3 .9,1 1.1,.9 1.3,.6 3.9,1.4 2.1,.3 3.5-.2 2-.4 2-.8 1.1-.9 1.2-1.7 .5-1.3 -.5,.6 -1.6,1.3 -2.5,1.2 -1.4,.3 -2.8,0 -1.4,.2 -1.2,.7 -2.2,1.8 -1.9,.7 -1.4,.1 -1.4-.4 -1.8-1 -3.9-3 -4.8-8.5 .5,1.3 .4,2.8 .1,1.4 -.2,1.3 -.7,1.2 -1.2,.7 -.7,.1 -1.2-.6 -.8-1.2 -.7-2 0-1.4 .5-2 1-1.8 1-1 1.2-.7 3.2-1.3 1.1-.9 .9-1.1 .7-1.2 .2-1.4 -.3-1.3 -.7-1.2 1.3,.5 1.1,.9 .3,.6 .2,1.4 -.1,.6 -.7,1.2 -1.2,.9 -1.9,.8 -.6,.2 -1.4,0 -2.7-.8 -1.7-1.2 -1.6-2.3 .6,2 -.2,2.1 -1.1,2.6 -2,3.6 -.3,1.4 0,.7 .4,.6 .6,.4 .7,.2 1.4-.1 1.3-.3 2.6-1 3.5-.7 1.8-1 2.5-2.5 .7-1.2 .3-1.4 -.1-1.4 -.3-.6 -1.1-.9 -1.3-.5 -1.4,.2 -.6,.3 -1.1,.8 -.9,1.1 -.4,1.3 -.4,2.1 0,2.1 .1,2.1 .3,.6 1,1 2,.7 2.1-.1 2-.7 2.4-1.5 .9-1.1 .2-.6 .2-.7 -.1-1.4 -.8-1.9 -1.3-1.6 -1.1-.8 -1.3-.6 -2.1-.1 -.7,.3 -1,.8 -.5,1.3 0,.7 .5,1.3 1,1 .6,.2 1.4,.2 .7-.2 1.2-.7 1.1-.8 5.8-6.2 1.2-.7 1.2-.6 -.4,.5 .6-.3 -2.1,.3 -1.9,.8 -1.1,.8 -.4,.6 -.3,1.4 .1,1.4 .6,1.2 1.3,1.7 2.3,1.5 2.1,.4 7-.4 1.3-.2 1.3-.6 1-.9 1.9-3 3.4-6.9 5-5.9 .5-1.3 .1-1.4 -.3-1.3 -.7-1.3 -2.4-2.5 -1.7-1.2 -1.3-.5 -2.1,.1 -1.9,.8 -2,2 -2.7,4.9 -2.4,3.4 1.8-1 5.2-2.1 1.7-1.1 -.7-.1 -1.3-.4 -1.2-.7 -1-.9 -.7-1.2 -.2-.7 0-.7 .5-1.4 .8-1.1 1.2-.7 4.8-.8 3.4-.7 7.7-3.5 -4.2,3.7 -.6,1.3 0,2.1 .6,2 1.5,2.3 3.1,2.9 2.5,1.2 2.7,.6 2.1,.1 6-2.1 2.8-.3 1.3,.4 1.1,.9 .8,1.2 .9,1.9 -1.3-.7 -3.4-.7 -1.2-.7 -1.5-1.4 -.9-1.9 -.2-1.4 .3-2.8 .4-2 .6-1.3 .9-1 1.3-.5 1.4,.3 1,1 .3,2.1 -.3,2 -1.5-2.3 -2.3-2.6 -1.2-.8 -1.3-.4 -1.4,0 -.7,.1 -1.2,.7 -1,1.1 -1.4,2.4 -.8-1.2 .8,2.7 .7,1.2 2.1,1.9 2.8,2 1,1 .7,1.2 1.8,7.5 1.4,2.4 3.6,4.3 1.4,2.4 1,2.7 .8,3.4 1.4,4.7 .9,1.8 1.4,1.6 1.2,.8 .7,.2 .7,.1 1.3-.3 1.2-.7 .5-.5 1-1.9 .2-.6 -.1-1.4 -.9-1.9 -1.7-2.2 .3,2 -.2,2.1 -.6,1.3 -.5,.5 -1.2,.6 -.7,.1 -1.3-.5 -1.6-1.3 -1-1.9 -.5-2 .1-2.1 .7-2 1-.9 2-.6 2,.4 1.2,.7 .9,1.1 .3,1.3 0,.7 -.6,1.3 -.9,1 -1.4,.4 -1.3-.3 -.9-1 -.4-1.4 0-1.4 1-2.6 -1.1,1.8 -.3,1.3 .2,1.4 .4,.6 1,1 1.9,.7 1.4,.1 1.4-.2 1.3-.5 .5-.5 .5-1.3 .1-.7 -.4-1.3 -1.3-1.7 -1.7-1.1 -2-.5 4.8,.9 -2.8,.5 -1.4-.1 -1.3-.3 -1.7-1.2 -.7-1.2 -.4-1.4 -.1-1.4 .3-1.3 .8-1.2 1-.9 .8,1.1 .6,.4 1.3,.3 .7-.1 .6-.3 1.1-.9 1.4-2.4 .4-1.3 .1-1.4 -.5-2 -.8-1.2 -1-1 -1.3-.6 -.7,0 -1.3,.4 -1,.9 -1.9,4.5 -4.4,7.9 -.9,1.2 -1.6,1.2 -1.3,.7 -2,.6 -4.8,.9 -1.9,.9 -3,1.8 -4,2.8 -1,1 -1.1,1.7 -.7,2 .9-1.9 .9-1.1 3.9-3.9 2.7-2.3 .9-1.1 .6-1.2 1.2-4 .8-1.2 1-.9 1.9-1 3.4-.9 4.8-.3 2.8-.5 1.8-1.1 1-1.8 .2-.7 .1-1.4 -.5-1.3 -1.3-1.6 -2-.8 -3.4-.6 -2,.3 -1.7,1.3 1.6-1.3 1.4-.4 1.4-.2 2.7,.4 2.7,1 1.1,.7 .8,1.2 0,1.4 -.2,.6 -1.3,1.6 -1.8,1.1 1.9-.9 .9-1 .8-1.2 .5-2 -.1-1.4 -.5-1.3 -.5-.5 -1.2-.7 -1.3-.2 -.7,.1 -1.2,.7 -2,2 -.9,1.9 -.1,2.1 .8,1.9 1.6,2.3 1,.9 3.2,1.5 -2.6,.9 -4.2,.5 -2,.7 -1.1,.8 -1.8,2.1 -.9,1.9 -.3,2.8 .4,2.1 .4,1.3 1.1,1.8 1,.9 1.2,.7 -1.9-.8 -1.1-.8 -.9-1.1 -.6-1.2 1.2-.7 .4-.6 .6-1.2 .1-.7 -.2-1.4 -.7-1.2 -1.1-.9 -3.6-2.1 -2-.5 -2.8-.1 2,.5 1.4-.3 1.1-.8 .6-1.3 -.2-1.3 -1.3-1.7 -1.2-.7 -1.4-.1 -2.6,1.1 -2.7,2.1 -1.3,.7 -4.6,1.6 -1.8,1.1 -1.1,.9 1.4-.1 1.4,.2 1.2,.8 .5,1.3 -.3-.6 -.5-.5 -.7-.3 -1.3-.1 -1.3,.5 -2.6,2.4 -1.2,1.7 -.3,1.4 .4,2.1 1,1.7 -4.2-2.4 -3.2-1.3 -2.8-.5 -5.6-.3 -1.3,.3 -1.9,.8 -1.8,1.2 -1,1 -.8,1.2 -.5,1.3 -.1,1.3 .3,1.4 .8,1.1 1.1,.9 2.6,1 1.4,.2 1.4-.1 1.3-.5 1.2-.7 -.7,.2 2.1,.3 1.3-.4 3.2-2.7 3.1-1.7 2-.6 4.1-.8 2-.7 .6-.4 -2,.6 -1.4-.1 -2.7-1 -4.4-2.1 -5.4-1.2 -1.4-.1 -2.1,.1 -1.3,.6 -.9,1.1 -.3,1.3 .1,.7 .5,1.3 .9,1.1 1.1,.9 1.2,.5 .7,.2 1.4-.3 1.2-.7 1.7-1.3 3.8-5 1.5-1.4 2.2-1.7 3.1-1.7 1.4-.3 1.4,0 2,.5 1.2,.7 1.1,.9 5.5,7.3 3.5,3.4 3,1.7 4,2.8 2.2,1.8 1.8,1.1 2.8,.5 2-.6 1-.8 .7-1.2 .5-2.1 .2-2.1 -.4-2 -1.8-3.8 -.5-2 -.4-3.5 .3-2.8 -.2,1.4 .1,2.1 .2-2.1 -1.7,2.2 -.7,1.3 -1,2.6 -.2,2.1 -1.4-1.6 -.4-1.4 .3-2 1-1.9 -2.1,.3 1-1 1.2-.7 4-1.2 1.3-.6 2.7-2.2 1.9-.9 -2.1-.1 -1.3,.3 -.6,.4 1.8,1 .8,1.2 .2,1.3 -.5,1.3 -1,.9 -1.3,.5 -2.1,.1 -1.4-.2 -1.3-.7 -.9-1 -.5-1.3 -.1-1.4 .9-1.9 1.4-1.5 1.1-.8 3.7-2 2.9-2 2-2 1.7-2.2 .5-1.3 0-2.1 -.4-2 -1.2-2.6 .2,3.5 .4,1.4 .7,1.2 -1.7-1.1 -1.1-.9 -1.3-1.7 -1.1-1.8 -1-1 -2.4-1.3 -2.1-.5 -1.3,.4 -.9,1 -.3,1.4 .1,4.9 1.4,6.8 .5,3.5 .4,1.3 -.4-.5 .2,1.4 1.2,5.4 .6,1.3 .9,1 4.1,2.7 -3-3.8 -1.7-1.2 -.7-.2 -1.4,.1 -1.3,.5 -.9,1 -.4,1.4 0,.7 .7,1.2 .5,.4 1.3,.6 2.1,0 1.3-.5 1.2-.8 1.3-1.6 .9-1.9 .4-1.3 .3-1.4 0-1.4 -.3-2 -.2,.6 -1.1,.9 .7-.1 -5.6,.2 -2.1-.2 -2.6-.9 -1.3-.6 -2.3-1.5 -6.8-5 -1.9-1 -2.7-.4 -4.9-.4 -1.4,.4 -.5,.4 -.8,1.2 -.5,2.7 -.5,4.2 -.4,1.3 -.9,1.9 -.3,1.4 0,2.1 2.2,5.1 .1-5.6 1.1-3.3 -.8,1.9 -.9,1.1 -1.2,.7 -.7,.1 -1.4-.2 -1.3-.5 -2.9-1.9 -2.1-1.9 -.8-1.1 -.4-1.4 -.1-3.5 -.4-2 -.7-1.3 -1.7-2.2 .8,1.9 0,1.4 1.4-1.5 3.8-3.2 5.7-4.1 3.3-1 2.1,.2 1.2,.6 1.5,1.5 1.7,2.2 .9,1.9 0,1.4 -.4,1.4 -1.5,2.3 -1,.9 -1.4,.4 -2.1,.2 -2.7-.5 -4.9-.4 -1.3-.4 -1.1-.9 -.6-1.2 -1.6-6.9 .4,2.8 1.1-1.8 1.4-1.5 2-1.9 1.3-.7 2.8-.3 4.1,.5 2.1,.5 2.8,0 2.1-.2 4-1 2.6-1.2 1-.9 1.7-2.2 1.3-2.5 2-4.5 .6-2.7 -.2-1.4 -.5-1.3 -.3,4.2 .2,4.1 .6,2 1.3,1.7 -1.4-.2 -1.4,.2 -1.3,.5 -1.1,.8 -.9,1.1 -.2,.7 -.2,1.4 .2,1.4 .4,1.3 .5-1.3 .8-1.2 1-1 .6-.3 1.4-.2 .6,.2 1.2,.8 .6,1.3 .1,1.4 -.2,2.8 -1,3.3 -.2,1.4 .1,2.1 .3,1.4 .8,1.1 1.7,1.3 2.6,.8 .5-.5 -1.2,.6 -1.4,.3 -4.9,.1 -1.4,.2 -1.2,.5 -1.1,.9 -1.2,1.7 -1.9,6.1 -1.9,3.7 -1.2,1.7 -3.6,4.3 -2.7,4.1 -1,.9 -1.2,.7 -2.7,.7 -5.6-.5 -3.5-.1 -2.1,.4 -1.9,.8 -4.2,2.5 -4.5,3.3 -1.8,1.1 -7.5,2 -.7,0 -2.5-1.2 -1.1-.9 -.8-1.1 -1-3.4 0-.7 1.1-4.8 .1-6.3 -1.2,3.3 -.3,1.4 1.2-.8 3.7-1.9 3.5-2.3 2.8-3.1 2.1-2.8 1-1.9 .5-2 .9,1 -1.9-.9 -1.4-.2 -1.3,.3 -1,1 .7-1.2 .6-.4 1.4-.4 3.4,0 1.4-.2 -1.3,.4 -1.4,0 -1.4-.3 -1.3-.5 1.5,1.4 1.2,.8 2,.5 2.1-.2 2.6-1.2 3.7-3.1 3-1.9 1.9-.7 3.5-.6 2.8,0 2.8,.3 6.6,2 1.4,.2 1.4-.1 3.4-.9 3.2-1.4 4.7-1.5 1.2-.7 1-.9 1.1-1.8 -1.3,1.6 -.7,2 .1,2.1 .7,1.2 -.8-1.2 -.1-1.3 .4-1.4 .7-1.2 1-1 .6-.3 1.4-.2 1.4,.3 1.6,1.3 -.5-.5 -.5-1.3 -.1-.7 .2-1.4 1.1-1.8 1-.9 1.2-.7 3.9-1.7 4.1-1.1 2.7-.5 4.9,.1 2.1-.2 5.4-1.5 2.1-.3 1.3-.5 .5-.5 .5-1.3 -.1-.7 -.3-.6 -.5-.4 -1.3-.6 -2.1-.1 -4.2,.3 -1.4,.4 -3.7,1.9 -2.2,1.8 .2-2.8 -.2-.7 -.7-1.2 -1.6-1.4 -2.6-1.1 2.8-.6 1.1-.7 1-1.1 .2-.6 0-1.4 -.6-1.3 -1-1 -1.2-.6 -1.4,0 -1.4,.3 -1.8,1 -4.2,2.6 -4,2.8 -1.3,1.6 -2.7,8.7 -.9,9 .2,4.2 .2,1.4 .8,1.9 .9,1.2 1.2,.7 2.7,.7 6.9,.8 2.1,.4 3.3,1.1 1.2,.6 1.4,1.6 .7,2 -.1,2.1 -.2,.6 -.4,.5 -.7,.3 -.7-.1 -.6-.3 -2.2-1.7 -1.9-.9 -4.9-.6 -4-1 -4.9-.8 -2-.6 -1.2-.6 -1.5-1.5 -.7-1.2 -.4-2.1 -.2,2.8 .5,2 .8,1.2 1,.9 4.3,2.4 1,1 .6,1.2 .3,1.4 -.1,1.4 -.5,1.3 .5-2.1 -.1-3.5 .3-6.9 -.4-3.5 -.8-2.7 .6,1.3 .3,1.4 -.2,1.3 -.5,1.4 2.1-4.5 .5-1.3 .1-2.1 -.6-2 -1.1-1.8 -1.8-2.1 -3.6-3.3 -1.8-1 -2.1-.6 -4.1-.8 -2.5-1.1 -1.2-.8 -1-1 -.9-1.8 0-1.4 .9-1.9 2.1-1.9 2.8-2 1.8-2.2 1.1-2.6 1.2-4 .6-1.2 -1.3,.3 -1.3,.6 -5,2.5 -1.7,1.2 -3.1,2.9 -.8,1.2 -.6,1.2 -.7,4.2 -.7,1.9 -1.2,1.8 -2.2,2.6 -2.7,4.1 -1,1 4.2,2.4 1.3,.5 1.4,.1 2-.6 3.1-1.6 3.2-1.3 2.4-1.5 3.8-3.1 1.2-.7 1.4-.4 1.3,.1 1.4,.5 1.1,.8 -2.4-5.8 -1.4-4 -1.2-1.8 -1.7-1.2 -1.3-.3 1.6,1.4 .9,1.1 1.1,2.5 .5,2.1 0,2.1 -1.1,3.3 -.1,.7 .1,1.4 -.3-2.1 0-1.4 .4-1.4 .8-1.1 1.3-.6 1.3,.2 .6,.5 .3,.6 -.1,1.4 -.7,1.1 -1.8,1.1 -6.2,1.1 -1.3,.5 -1.7,1.2 -1,.9 -.7,1.2 -.4,1.4 0,1.4 .5,1.3 1.4,1.6 4.3,2.2 3.6,2.3 1.9,.8 1.4,.2 1.4-.2 1.3-.4 -2.7,2.3 -2.6,3.3 -1.5,1.4 -3.3,2.6 -2,.7 -1.3-.2 -1.2-.7 -.7-1.2 0-1.4 .6-1.3 1.2-1.6 2.7-2.3 -3.3,1.2 -2.7,.6 -2.1-.2 -4.1-.8 -3.5-.3 -2.1,.2 -1.3,.4 -1.8,1.1 -1,1 -.8,1.1 -.6,1.3 -.8,4.1 -.2,6.3 -5.9-9.5 -.6-2 .1-2.1 1.1-1.8 3.1-3.8 3-2.8 6.1-3.5 1.7-1.2 1.7-2.3 2.8-5.6 1.4-2.4 .5-.5 1.1-.8 1.4-.4 1.4,0 -2.1-.2 -2.8,.4 -2.6,.8 -2.8,.6 -3.2,1.4 .6-1.3 2-2.9 4.7-5.2 -.8,1.2 1.4-2.4 4.2-3.7 1.4-1.6 1-1.8 .8-2 .8-4.1 .4-2.8 -.3-1.3 -.6-1.3 -1.1-.8 -.7-.2 -.7,.1 -.6,.3 -.4,.6 -.6,3.4 -1.2-.6 -1.4-.3 -2.1,0 -.6,.2 -1.2,.8 -1.3,1.7 1.3-.6 2-.4 2.1,.3 1.2,.6 .9,1.1 1.2,2.5 -.5-1.3 -.5-.4 -1.3-.5 -.7,.1 -1.1,.8 -.3,.6 0,1.4 .4,1.4 .9,1.1 1.1,.8 1.3,.4 1.4,0 1.4-.5 8.2-3.8 1.4-.2 1.3,.4 1,1 .3,.6 .6,4.2 .5,2 2.5,5.8 .4,2 -.1,.7 -.5,1.3 -2.5,3.4 -2.6,2.3 -2,.8 -2.7,.5 -2.8-.4 -3.2-1.3 -1.1-.8 -1-1 -.6-1.3 -.1-1.4 .5-1.3 .4-.6 .5-.4 1.3-.5 1.4,0 2.1,.6 1.7,1.1 1,1 2.4,4.3 2,2.8 2.2,2.7 1.6,1.4 1.3,.6 2.6,.9 2.8,.4 2.1-.2 1.2-.7 .5-.4 .8-1.2 .2-1.4 -.2-.7 -.4-.5 -.6-.4 -1.4-.1 -1.1,.8 -.5,1.3 0,.7 .4,1.3 1.3,1.7 2.2,1.8 1.3,.5 2,.3" stroke="#ff0000" stroke-width="1.15"/>
<path d="M362.2,118.6l-1.8-1.5 -1.8-1.5 -1.9-1.5 -1.8-1.5 -1.6-1.4 -1.3-1.4 -1.1-1.3 -.9-1.3 -.7-1.3 -.6-1.2 -.6-1.1 -.5-1.1 -.6-1.1 -.5-1 -.5-1 -.4-.9 -.5-.9 -.5-1" stroke="#ff0000" stroke-width="1.15"/>
<path d="M344.6,96.6l4.2-.7 3.2-1.3 2.6-1.9 4.6-3.9 3.8-2.6 7.3-3.9 9-3.9 6.3-2.3 6-1.6 6.5-1 9.3-1 4.6-.8 1.6-.5 1.1-.7 .8-.7 1.3-1.9 .5-.4 .5-.2 1.6,.2 2.4,1.2 1.1,1 .2,.5 0,.6 -.7,1.5 -1.1,1.5 -1.4,1.2 -.6,.2 -.7,0 -.8-.4 -3.3-2.4 -.6-.2 -.4,.1 -.3,.5 -.2,2.1 .3,2.5 .9,2.3 .7,.8 2.2,.9 2.9,.3 9.8,.4 10-.1" stroke="#ff0000" stroke-width="1.15"/>
<path d="M439.8,82.0l.6,1.2 .6,1.2 .6,1.2 .7,1.2 .6,1.3 .7,1.2 .8,1.2 .8,1.2 .9,1.2 .8,1.3 .9,1.2 .8,1.2 .7,1.2 .7,1.3 .7,1.3 .7,1.2 .8,1.2 .8,1.1 .9,1.1 .9,1 1,.9 1,1 1.1,.9 .9,1" stroke="#ff0000" stroke-width="1.15"/>
<path d="M458.8,109.8l-1.3,.3 -1.4,.3 -1.5,.3 -1.3,.3 -1.1,.5 -.7,.6 -.1,.9 .3,1 .6,1.2 .5,1.2 .3,1.2 -.1,1 -.7,.9 -.9,1 -1.2,.9 -1.3,.8 -1.6,.6 -1.6,.2 -1.9-.3 -2.1-.6 -2.3-.8 -2.3-.9 -2.3-1 -2.3-.8" stroke="#ff0000" stroke-width="1.15"/>
<path d="M429.6,121.5l.8,1.9 .9,1.9 .9,1.9 .8,1.9 .6,2 .4,2.1 -.2,2.4 -.6,2.5 -.7,2.7 -.8,2.6 -.5,2.4 -.2,2 .5,1.6 .9,1.2 1.1,1 1,1 .8,1.1 .1,1.5 -.5,1.8 -1.1,2.1 -1.3,2.3 -1.5,2.3 -1.5,2.4 -1.4,2.2" stroke="#ff0000" stroke-width="1.15"/>
<path d="M428.1,168.3l-.4-6.2 -.2-1.4 -.7-2 -.4-.5 -2.7-2.2 -3.9-4.6 -1.5-1.6 -1.7-1.3 -1.7-.7 -1.8,.2 -2,.8 -6.2,3.5 -1.7,.8 -2.9,1 -2.5,.5 -1,0 -.9-.3 -.9-.7 -.7-1 -1.2-2.6 -.2-1.2 .1-1 .4-.7 2-1.4 2.4-.8 1,0 .8,.3 .8,.6 2.8,3.5" stroke="#ff0000" stroke-width="1.15"/>
</g>
<circle cx="425.8" cy="114.7" r="2.4" fill="#0505f5"/>
<path d="M358.7,45.1 L359.5,47.4 L361.9,47.5 L360.0,48.9 L360.7,51.3 L358.7,49.9 L356.7,51.3 L357.4,48.9 L355.5,47.5 L357.9,47.4Z" fill="#0505f5"/>
<path d="M352.1,117.4l.9-4.4 .5-1.3 .7-1 1.3-1.1 1.4-.9 1-.3 1.7-.1 3,.3 1.3,.6 1.1,.9 .9,1.2 1,1.9 1.1,3.8" fill="none" stroke="#000" stroke-width="2.1" stroke-linecap="round"/>
<g clip-path="url(#cb2)" fill="none" stroke-linejoin="round">
<line x1="464.2" y1="172.7" x2="623.2" y2="15.4" stroke="#000" stroke-width="1.75" stroke-dasharray="9.8 8.4"/>
<path d="M522.8,114.7l1.4,.3 2.1,0 6.2-1 5.6-.2 2-.3 1.8-1.1 3-3 1.1-.8 1.2-.7 2-.5 2.1,.2 2.7,.9 2.3,1.5 2.4,2.6 .8,1.1 .8,1.9 .2,1.4 -.1,1.4 -.9,3.4 -2.4,4.3 -.5,1.3 -.2,1.4 .4,4.1 -.2,1.4 -.9,1.1 -1.3,.5 -1.3-.3 -1.7-1.2 -1.1-1.8 0-1.4 .4-1.3 1-1 -1.3,1.6 -.6,2 .1,2.1 .5,1.3 .8,1.2 2.1,1.8 4.7,3 -1.3,.3 -1.8,1.1 -2.1,1.8 -.8,1.2 -.2,1.4 .4,1.3 .4,.6 1.3,.5 .7,0 1.3-.3 1.2-.8 1.6-1.4 4.4-4.5 .7-1.2 .9-1.9 1.2-1.7 1.1-.9 1.2-.8 -2.8,0 1.3,.1 3.5,0 2.1-.5 1.7-1.1 2.8-3.2 -.8,1.2 -.9,2.6 0,2.1 .4,2.1 1.2,1.7 1.2,.6 1.4,.3 2-.5 -.6,.4 .8-1.2 .1-1.4 -.6-4.1 -.2-6.3 .8-5.6 .4-1.3 -.3,2.1 -.6,1.2 -2.5,3.4 -2.2,4.4 -1,1 -1.7,1.2 -1.3,.5 -1.4,.3 1.4,.4 8.5,3.1 2.1,.3 3.5,0 2.8-.4 1.3-.5 2.6-1.1 3.5-2.2 2.7-.8 6.3-.6 1.3,.2 2.1,.6 -1.3-.7 -1.3-.3 -3.5-.3 -1.4-.3 -1.2-.7 -1-.9 -1.1-1.8 -.4-1.3 -.6-4.2 1.4,0 1.9-.9 1.6-1.4 .6-1.2 .3-1.4 -.3-1.4 -.3-.6 -1.1-.9 .9,1.9 .2,1.4 -.1,.7 -.6,1.2 -1.1,.9 -1.3,.5 -2.1,.2 -3.5,0 -2.1-.4 2.8,0 2-.6 2.3-1.6 2.7-2.3 1.2-.6 -4.8,.3 -4.2-.4 -2.1-.5 3.5,.3 4,1.3 1.4,.1 1.4-.1 .7-.3 1-1 .9-2.6 .6-3.4 1.2-4.8 -.1-1.4 -.6-2 -.6-1.3 -.9-1 -1.2-.7 -1.3-.3 -3.5,.1 -1.4,.2 -1.3,.6 -5.1,3.7 -2.5,1.1 -1.4,.2 -2.8-.1 -3.5-.6 -6.7-1.9 1.2,.7 5.2,2 2.8,.2 2.1-.4 1.2-.6 4.5-3.4 4-4 .8-1.9 .2-1.3 -.1-1.4 -.6-2 -.6-1.3 -1.2-1.7 -1-1 -1.1-.8 -1.3-.5 -1.4-.3 -3.5,0 -2.8,.2 -4.6,1.8 -2.2,1.7 0-2.1 .6-2 .9-1.1 .6-.4 1.3-.2 .7,.2 1.1,.9 .3,.6 .3,1.3 -.3,2.1 -1.9,5.3 -.4,2.7 .3,3.5 1.6,3.1 .9,1.1 2.8,2 2,.8 1.4,.1 2.7-.3 2-.7 1.1-.9 -1.1,.8 -1.3,.7 -2.7,.7 -3.5-.1 -2.7-.7 -1.7-1.2 -.7-1.2 -.1-.7 .1-1.4 .4-.6 .4-.5 1.3-.5 .7,.1 1.4,.4 1,.9 .6,1.3 .1,.7 -.4,1.3 -1,1 -1.9,.9 -1.4,.3 -2.8,.1 -2-.5 -1.9-1 -1.3-1.6 -.5-1.3 .1-1.4 .4-.6 1.1-.8 -.3,1.4 .1,.7 .3,.6 1,.9 2,.8 3.4,.5 1.4,.4 1.7,1.2 1.6,1.4 1.5,2.3 -.8-1.1 -1.2-.7 -1.4-.2 -1.3,.4 -1.2,.7 -.9,1.1 -.5,1.3 0,1.4 .9,2.6 1.3,1.7 1.2,.8 1.3,.5 1.3,.3 1.4-.1 1.3-.6 1.1-.9 1-1 2-2.8 1.5-3.2 2-5.2 .3-2.1 -.3-1.4 -1.1-1.8 -1.1-.8 -.7-.2 -1.4-.2 -1.3,.3 -1.3,.7 -1,1 -1.7,2.2 -1,1.8 -.8,2 -.4,2 .1,.7 .6,1.3 1.6,1.4 .4-3.5 -.3-2.7 .5,1.3 .4,3.4 .7,1.2 .5,.5 .7-1.2 .6-.4 .6-.3 1.4-.2 1.3,.3 1,1.1 .2,.6 -1.8-2.1 -2-2.9 -1-1 -1.2-.6 -2.8-.5 -1.4,0 -2,.4 -5.2,2.1 -6.2,1.1 -4,1.3 2.1-.2 1.4,.2 4.7,1.2 1.4,0 .7-.2 .6-.4 .9-1.1 .4-1.3 0-.7 -.4-1.3 -.5-.5 -.7-.4 -1.3-.1 -1.4,.4 -1.1,.8 -3.9,5.8 -3.7,3.2 -1.9,.9 -3.3,1.2 -1.4,.3 -1.4,0 -2.7-.8 -1.9-.7 -2.3-1.6 -1.6-1.3 -.8-1.2 -.9-1.9 -1.8-5.3 .8,6.2 -2.5,1.3 3.3-1 1.2-.7 2.2-1.8 2.5-3.4 2.5-2.3 3-1.9 1.3-.4 .7,0 -1.2-.7 -1.4-.3 -2,0 -2.8,.7 1.4-.2 .7,.1 1.3,.6 1.4,1.5 2.1,3.7 1,1 2.2,1.7 3,1.8 2.6,2.3 1.2,.7 2.6,1.1 1.4,.2 2-.4 2-.8 2.7-2.2 1.6-1.4 1.3-1.6 .5-1.3 .1-2.1 -.3-1.4 -.7-2 -.9-1.1 -1.2-.7 -.7,0 -1.3,.4 -.9,1 -.2,1.3 -.9-1.9 -.4-2 -.1-2.1 .2-.7 .7-1.2 2-1.9 2.4-1.4 -3.4-.5 -1.4,.2 -1.9,.8 -1.1,.9 -.8,1.2 -.4,2 .1,1.4 2.2,5.9 .3,2.1 -.1,1.4 -1.7,4.6 -1.4,7.5 -1.2,1.7 -1.9,1 -2.1,.1 -2.7-.6 -1.9-.8 -3.7-2.1 -1.3-.5 -2-.3 -4.9-.1 -2.7-.9 -2.3-1.6 -3.6-4.2 -4-2.8 -3.3-4.5 -.6-1.3 -.1-.7 .3-1.3 1-1 .6-.3 .7,0 .7,.3 .5,.5 .2,.7 -.2,1.3 -.8,1.1 -.6,.5 -1.3,.4 -1.4,0 -2.6-.9 -.6-.4 -.7-1.2 -.1-1.4 .2-.7 1-1.8 2.2-1.8 1.9-.8 2.1-.1 5.5,1 4.2,.3 3.5-.2 2.1,.2 1.9,.7 1.1,.8 .8,1.2 1,2.6 .9,1.9 .8,1.2 2.9,3.1 1.6,1.3 1.3,.4 .7,0 -.6,.3 -1.4,.1 -.7-.1 -1.3-.5 -1-.9 -.6-1.3 -.1-.7 .2-1.4 .8-1.1 .5-.5 1.3-.5 2.1,.1 1.8,.9 1,1 .6,1.3 .8,3.4 1.1,1.8 -1.9,.8 -2.8,.7 -1.3,0 -2.1-.6 -1.7-1.2 -.4-.5 -.4-1.4 0-.6 .5-1.3 1.1-1 .6-.2 1.4,0 2,.7 2.2,1.8 1.3,1.6 -2-2.9 -.4-1.3 -.5-2.8 -.6-1.3 -.8-1.1 1.4,1.6 1.8,3.7 1.1,1.8 2.2,2.8 1.6,1.3 1.3,.4 2.1,.2 4.8,1 2.8,.2 3.5-.3 -.3,2.1 .6,2 1.6,2.3 4.2,7.2 2.3,3.6 .6,1.2 .2,1.4 .1,1.4 -.4,1.3 -1.3,1.7 -1.2,.8 -1.3,.5 -2,.3 -.7-.1 1.1-.8 1.3-1.6 .9-1.9 .4-1.4 .1-2.1 -.4-4.1 .1-2.8 .3-1.4 1-1.8 1-1 2.3-1.7 1.8-1 1.9-.8 2.1-.1 1.4,.3 1,.9 .3,1.4 -.2,.7 -.7,1.1 -1.2,.7 -1.4,.2 -.7,0 -1.9-1 -.8-1.1 -.5-1.3 -.3-2.8 .1-2.8 -.2-1.4 -.5-1.3 -1.4-1.5 -.6-.4 .2,1.4 .1,4.2 .4,3.5 -.3,1.4 -.4,1.3 -1.5,1.4 -3.1,1.7 -1.8,1.1 -3,2.9 -.9,1 -.7,1.2 -.7,2 -.4,2.1 0,1.4 .5,2 1.2,2.6 1.5,2.3 .9,1 1.2,.8 1.8,1 1.3,.5 1.4,.2 1.4-.2 1.3-.5 1.2-.8 .9-1 .7-1.2 .4-1.3 0-1.4 -.1-.7 -.7-1.2 -1.5-1.5 -1.3-.5 -5.5-1.3 2.8-.4 3.9-1.6 4-2.7 3.1-2.9 1-1.8 .8-2.7 -.2-2 -.7-2.8 1.7,1.3 1.3,.3 1.4-.3 .6-.3 .6-.5 .2-.6 0-.7 -.4-.6 -.9-1 -1.1-.9 -1.4-.3 -1.4,.2 1.5-1.4 2.2-1.8 -2.4,1.3 2.3-1.5 2-.7 -2,.7 -2.3,1.6 -.9,1.1 -.5,1.2 -.6,2.1 -.4,2.7 .1,2.1 .5,2.8 .9,1.8 1.3,1.7 1.1,.8 1.3,.5 1.4-.1 .7-.2 1-.9 .6-1.3 -.1-1.3 -.4-.6 -.5-.4 -2.1-.6 -2,.1 -1.9,1 -1.5,1.5 -1,1.8 -.3,1.3 .2-1.3 .6-1.3 1.8-2.1 1-1.8 .5-2.8 -.2,2.1 -1.3,3.2 -.3,2.1 .5,2 .8,1.2 .5,.4 1.3,.6 1.3,.2 1.4-.1 1.4-.4 2.4-1.4 .9-1.1 1-1.8 .3-2.1 -.4-1.3 -.4-.6 -1.2-.8 -2.6-.9 .1,.7 -.3,.7 -.4,.5 -1.3,.4 -4.2,.3 -2.1,0 -2.1-.3 -4.1-1 -1.4-.1 -2.1,0 -2,.4 4.1-.5 6.3,.4 2.1-.2 1.4-.3 1.9-.9 1.6-1.3 .2-.7 -.2-.7 -1.3-1.6 -1.9-.9 -2.1-.1 -2,.6 -3.1,1.6 -1.8,1.1 -3.3,2.6 -3.2,1.4 -2.8,2.1 -1.7,2.2 -.5,1.3 -.1,1.4 .4,2 1.1,1.8 1.1,.8 2.1,.4 2-.5 1.1-.9 .3-.6 .4-1.3 -.3-2.1 -.3-.6 -.9-1.1 2,4.5 -.5-2 .1-2.8 .8-2 2.5-4.2 .6-2.7 -.2-2.1 -2-5.2 -.1-1.4 .2-1.4 .6-2 1.7-3.1 3-3.9 1.4-2.3 .6-1.3 .7-2 .1-1.4 -.7-1.2 -.6-.3 -.7-.1 -1.2,.7 -2.4,3.5 -1.6,1.3 -1.8,1 -2.7,1 -7.3,2.1 -2.3,1.7 -1.9,2 -.6,2 .2,1.4 .6,1.2 1,1 1.8,1.1 3.8,1.8 -.7-2 -1.6-2.3 -1-.9 -2-.8 -1.4,0 -1.2,.6 -.6,.5 -.6,1.2 -.1,.7 .5,1.3 1.6,1.3 2.5,1.1 1.4,.3 1.4-.1 2-.7 .6-.3 .3-.7 .4-2 -.3-1.4 -1.4-1.5 -1.8-1 -4.1-.9 -2.8-.3 -2.1,.2 -2,.6 -1,.9 -.9,1.1 -1.2,2.5 -1.2,1.8 -1.5,1.4 -1.8,1.1 -2,.7 -1.4,.1 -3.4-.3 -4.1-1.1 -1.4,0 -2,.4 -2.6,1 -3.4,2.6 -2.9,1.9 -1,.9 -.8,1.2 -.5,1.3 -.1,1.4 .4,1.3 .8,1.1 .6,.4 1.4,.5 1.3,0 .7-.1 1.3-.7 3.2-3.6 3-1.9 2-.7 5.4-1.1 -1.9,2 -.8,1.2 -1.5,3.9 -.8,2.7 .1,2 .4,1.4 .9,1 1.8,1.1 -2.3,1.7 -2.9,2.9 -1.2,1.8 -.5,2 0,.7 .2,.7 .6,.4 .7,.1 .6-.1 1.2-.9 3-3.8 -1.5,1.4 -.6,1.3 0,.7 .1,.7 .4,.5 .7,.3 .7,0 1.2-.7 1.1-.9 2.5-3.3 1.7-1.3 -2.6,1.2 -1.3,.2 -1.4-.2 -1.2-.8 -.7-1.2 -.4-1.3 -.1-1.4 .3-1.4 .6-1.2 2-2.9 1.6-3.1 .9-3.4 1.5-4.6 .6-5.6 .7-2 .7-1.2 .5-.5 1.3-.6 1.4-.1 3.4,.5 2.1-.3 1.7-1.2 1.6-2.3 -2,1.9 -1.6,3.1 -1.1,3.3 -.8,4.9 .4,4.9 .4,2 3.2,6.2 -.4-1.3 -.1-1.4 0-7 -.2-1.4 -.9-1.9 -1.3-1.6 -1.1-.8 -2.7-.8 -2.8,0 .5-.5 1.2-.7 -.4,1.3 .4,1.4 1.1,.8 1.4,0 -1.4,0 -.7-.3 -.6-.4 -.7-1.2 0-.7 .2-1.3 .8-1.2 .5-.5 1.2-.6 1.4-.1 -.9,1.8 -.4,2.1 .6-1.3 .8-1.1 2.8-2.1 1.3-.5 1.4-.2 2,.3 1.1,.9 .4,.6 .6,2.7 -.3,2.1 -1.3,2.5 -1.9,2.9 -1.6,1.3 -1.4,.3 -1.3-.2 -1.1-.9 -.3-.6 .1-1.4 .7-1.2 1.2-.7 2.1-.4 2,.4 2.5,1.4 1.4,1.5 .5,1.3 -.3-1.4 -.6-1.2 -2.6-4.2 -.3-1.3 .3-1.4 .8-1.1 1.2-.7 1.4,.2 1.2,.6 .5,.6 .4,.6 .3,1.3 -.1,.7 -.6,1.3 -1,.9 -1.3,.7 -1.4,.2 -1.4-.1 -5.5-.8 -3.4-.9 -1.2-.6 -1.7-1.2 -1.1-1.8 -1.1-3.3 -1-1.1 -1.2-.7 4-1.5 1.3-.2 1.4,.2 .6,.3 1.1,.9 .5,1.3 0,.7 -.5,1.3 -.5,.5 -12.6,7.5 -2.7,.8 -2.1,.1 -1.3-.5 -5.6-2.7 -2.2-1.8 -.8-1.2 -.4-2 .4-1.4 .8-1.1 1.1-.9 .7-.2 1.4-.1 .6,.1 1.2,.8 .6,1.3 -.1,1.4 -.8,1.2 -1.7,1.1 -3.8,1.9 -2.4,1.5 -1.3,.4 -1.4,.2 -1.4-.2 -4.7-1.3 -2.9-1.9 -1.8-2.1 -1.7-3.1 -.6-1.3 0-1.3 .4-1.4 1-.9 1.4-.5 2-.2 4.9,.2 1.4-.3 1.8-1 .5-.6 .7-1.2 .2-2.1 -.4-1.3 -1-1 -.6-.2 -1.4-.2 -1.3,.5 -6.1,4.7 -1,1 -.7,1.9 0,1.4 .8,2 1.4,2.4 -2.1,0 -3.4-.8 -3.1-1.6 -4.1-2.7 -1.3-.6 -1.3-.2 -.7,.2 -.6,.4 -.3,.6 .1,.7 .8,1.1 1.2,.8 3.7,2 2.8,2 1,.9 .8,1.2 .9,3.4 .9,1.9 1.2,1.7 2.1,1.9 -3.8-5 -2.4-2.6 -2.9-2 -3.8-1.8 -1.7-1.2 -.8-1.2 -.1-.6 0-.7 .4-.6 .5-.5 .7-.1 .7,.1 7.1,4.4 1.6,1.4 -1.3-.5 -.7,.1 .4,1.3 0,.7 -.7,1.2 -1.2,.7 -1.4,.1 -.6-.3 -.5-.6 -.1-.6 .2-.7 .5-.5 .7-.1 1.4,.2 1.9,1 1.9,2 1.1,.9 1.3,.5 1.3,.2 -1.3-.5 -1.1-.8 -.7-1.2 0-.7 .2-.7 .4-.5 .6-.4 .7-.1 .7,.2 1.1,.8 .6,1.3 0,1.4 -.3,1.4 -1.2,3.2 -.1,2.1 .3,.7 .4,.5 1.4,.5 1.3,.1 1.4-.3 1.1-.8 .9-1.1 1.3-3.2 .6-4.9 .7-2.7 .3-2 .1-4.9 -.4-4.2 -.3,1.3 0,1.4 .5,1.3 .9,1.2 -.1-1.4 .4-1.4 .8-1.1 1.2-.8 1.3-.3 4.2,.1 1.4,.3 1.3,.5 2,2 1,1.8 .4,1.3 .8,4.9 .5,2 1.2,2.5 .9,1.1 2.4,1.4 4,1.3 7.6,1.4 2.1-.2 2.7-.7 2.6-1 2.1-.2 1.9,.5 3,1.9 2.1,.3 2-.6 2.2-1.7 .9-1.1 .2-1.3 -.4-1.4 -2.3-2.6 .7-2.1 .2-3.4 -.4-1.3 -.4-.6 -1.2-.8 -1.3-.2 -1.4,.4 -3.7,3.1 -1.8,1.2 -2.5,1.2 -2,.5 -8.4,.5 -2.1-.4 -2.6-1 -4.3-3.5 -1.3-.6 -.7-.1 -.7,.1 -1.2,.6 -.5,.5 -.7,1.2 -.1,1.4 .5,1.3 .4,.5 1.8,1 1.4,.2 1.4-.2 1.3-.6 3.6-3.3 -2.3,2.6 -3.2,4.6 -.8,2 0,1.4 .2,.6 .6,1.3 1.6,1.3 2,.8 .7,.1 -.6-.5 -.7-1.1 -.3-2.1 .3-2.1 .6-1.2 1.5-1.5 1.4-.4 1.3,.1 .7,.3 1.7,1.2 -2-.8 -.9-1 1.8-.9 3.3-1.2 2.1-.3 2,.5 6.3,5.6 1.3,.6 1.3,.3 2.1-.1 2-.7 1-1 .8-1.9 -1.2,1.7 -1.3,3.3 -1.1,1.7 -1,1 -.6,.3 -1.4,.2 -1.4-.2 -1.2-.7 1.3,.3 1.4-.2 1.3-.5 1.2-.7 2.4-2.5 1.2-2.6 .5-2 -.1,2.1 .2,1.4 .6,1.2 .4,.6 1.3,.5 1.4-.2 1.2-.6 1.1-1 2.8-3.1 1.8-3 3.3-4.5 1.5-2.3 .6-1.3 .2-1.4 -.3-1.3 -.4-.6 -.6-.5 -1.3-.4 -2.8,.2 2.1,.3 2.5,1.2 1.5,1.4 1.5,2.4 .2,2.1 -.1,.7 -.7,1.2 -1.7,1.3 -1.9,.6 2-.3 3.3-1.2 1.4-.3 -3.3,1.3 -2.7,.6 -2.8-.3 -4-1.3 -5.5-.6 -2.1,.1 -4,1.3 -1.3,.7 -1.4,1.5 -.5,1.3 -.2,1.4 .5-1.3 1.4-1.6 -1.2,.8 -.4,.6 -.5,1.3 -.1,1.4 .8,1.9 1,1 1.8,1 1.4,0 2-.6 1.7-1.2 .8-1.2 .1-.7 -.1-1.3 -8.2,4 -1.3,.4 -2.1,0 -.7-.1 -1.2-.6 -1.5-1.5 -.9-1.9 -.2-2.1 .4-1.3 .9-1.9 6.8-9.8 1-.9 1.3-.5 1.4,0 1.3,.6 1.5,1.4 .9,1.9 .5,2.7 -.4,3.5 -1.7-1.2 -1.3-.4 -3.5,.2 -3.5-.2 -5.6,.5 -2.1-.2 -3.4-.9 -2.8,.1 2.1-.5 2.1,0 -2.1,.4 2.7-.6 1.3-.5 1.8-1.2 1.1-.8 .8-1.2 .2-1.3 -.4-1.3 -.5-.6 -1.2-.7 -1.4,.1 -1.2,.7 -1.2,1.7 -2.5,5 -1,2.6 -.6,2.7 -.5,4.9 0,2.8 1,5.5 2.7,5.7 1.4,1.6 -.1-.7 .4,1.3 .6,2.7 -.4,4.2 .3,6.3 -1.5,5.4 -.2,2.1 .3,1.3 .5,.6 .6,.3 .7,0 .6-.3 .5-.5 1.9-4.5 1.5-2.4 -3.8,4.1 2.8-.3 1.3-.4 1.8-1 .9-1.1 .7-1.2 1.1-3.3 1.8-3.9 .5-2.7 .4-7 -.3-2.1 -1.3-2.4 -2.4-2.5 -.9-1.1 -1.3-2.5 -.6-2 -.5-4.2 -2.5-9.5 .1,2.1 .6,1.3 1.4,1.5 2.3,1.7 1.9,.8 3.5-.1 4.6-1.7 -1.3-.5 2.2,4.3 1.5,1.4 1.3,.7 2,.4 2-.5 1.8-1.1 .6-1.3 .1-.7 -.4-1.3 -.9-1.1 -1.8-1 -1.3-.6 -1.3-.3 -6.3-.6 -3.4-.7 -2.8-.1 -2,.6 -1.2,.8 -1,.9 -1.1,1.8 1.3,.2 1.3,.7 .4,.5 .3,.6 -.1,.7 -.3,.7 -.6,.4 -.6,.1 -.7-.1 -.6-.4 -.8-1.1 -.1-.7 .4-1.4 1-.8 .7-.2 .7,.1 1.1,.9 .3,.6 .1,.7 -.2,.7 -.4,.5 -1.3,.5 1.2-.6 .5-.5 .4-1.3 -.1-.7 -.4-.6 -.6-.5 -1.3-.1 -.7,.2 -1.2,.7 .7,.2 1.1,.9 .5,1.2 -.1,.7 -.4,.6 -1.2,.8 -1.4,.1 -.6-.1 -1.9-1.1 -3.6-3.2 5.2-1.9 1.2-.7 2-2 1.3-.6 2,0 1.4,.5 1.1,.7 2.7,2.3 1.1,1.8 .6,1.3 -2.7-1 -3.7-1.9 -3.2-1.3 -4.1-.9 -4.9-.4 -1.3-.4 -1.1-.9 -1.2-1.7 -.3-1.4 .2-1.4 .9-1.8 3.3-3.6 4.2-3.8 5.3-5.5 2.8-2.2 -.6,1.3 -1.2,1.7 -3.2,3.7 -.7,2 -.4,2.1 0,1.4 0,.7 1.7-1.4 2-.6 2,.3 1.2,.7 -1.7-3.8 -.6-2.8 .1-2.1 1.3-4.7 -1.4,2.4 -.3,1.4 -.1,1.4 .2,1.4 .6,1.2 .9,1.2 1,.9 -.9-1.9 -.3-2.1 .5-3.4 1.2-1.8 1.8-1 1.3-.3 1.4,0 1.4,.4 1.2,.6 1.5,1.5 3.6,6 1.7,3.8 .7,3.4 0,2.1 -.4,2.1 -.6,1.2 -1.5,1.5 -2,.6 -2-.4 -3.8-1.9 -1.9-2 -.5-1.3 .1-.7 .5-1.3 .5-.4 1.4-.3 1.3,.6 .8,1.1 .2,.7 -.1,1.4 -1,2.6 -1.7,2.2 -2.5,1.2 -2.8,.4 2,.8 -1-1.9 -.5-1.3 -.1-2.1 .3-3.5 -.2-1.4 -1.2-1.7 -1.7-1.1 .6-.2 1.4,.1 1.8,1.1 1.2,1.7 .5,1.4 -.1,.7 -.4,1.3 -1.3,1.6 -1.7,1.3 -4.4,2.1 -2.8,.5 -2-.2 -1.2-.7 -1.6-1.5 -2-2.8 -.4-1.3 -.3-1.4 .4-5.6 -.2-1.4 -1.1-1.7 -1.9-1 -1.4-.1 -1.3,.2 -1.3,.6 -3.5,2.2 -2.1,.5 -1.4-.2 -1.3-.4 -4.9-2.7 -2-.7 -4.2-.5 -2,.1 -1.4,.5 -1.1,.8 -2,2 -1.2,1.7 -1.7,4.6" stroke="#ff0000" stroke-width="1.15"/>
<path d="M522.5,116.7l3.8-1.8 1.6-1.3 .7-1 1.5-2.8 3.8-9.5 5.5-11.9 2.2-3.6 1.3-1.5 2.6-2.3 3-1.8 3.1-1.4 3.5-1 3.7-.8 4.1-.4 4.3,0 4.1,.4 4.2,.8 4.3,1.3 2.1,.8 4,2 1.7,1.2 1.6,1.4 1.5,1.6 2.6,3.6 4.5,7.6 2.5,5.1 11.7,29.5 1.1,3.3 .5,2.8" stroke="#ff0000" stroke-width="1.15"/>
<path d="M613.6,137.0l-1.6-.5 -1.7-.4 -1.7-.5 -1.7-.5 -1.5-.6 -1.5-.8 -1.4-.9 -1.3-1 -1.2-1.2 -1.1-1.2 -1.2-1.3 -1.2-1.3 -1.1-1.3 -1.2-1.3 -1.1-1.4 -1.2-1.3 -1.1-1.4 -1.2-1.4" stroke="#ff0000" stroke-width="1.15"/>
<path d="M589.6,120.7l-.7,2.7 -.9,2.8 -.9,2.7 -.8,2.7 -.5,2.7 -.2,2.7 .1,2.7 .4,2.8 .6,2.8 .8,2.7 1,2.7 1.1,2.6 1.4,2.5 1.6,2.4 1.7,2.3 1.9,2.3 1.8,2.4 1.8,2.3" stroke="#ff0000" stroke-width="1.15"/>
<path d="M599.8,167.5l-.5-2.4 -.7-2.4 -.7-2.5 -.5-2.4 -.3-2.3 .3-2.2 .8-2.2 1.2-2 1.6-2.1 1.7-1.9 1.7-1.7 1.5-1.5 1.4-1.3 1.3-1 1.4-.9 1.3-.8 1.4-.8 1.3-.9" stroke="#ff0000" stroke-width="1.15"/>
<path d="M524.6,118.7l1.6,2.1 1.5,2.1 1.6,2.2 1.6,2 1.8,2 2,1.8 2.4,1.6 2.6,1.5 2.8,1.3 2.9,1.3 2.8,1.2 2.8,1.2 2.7,1.3 2.8,1.3 2.8,1.2 2.7,1.1 2.7,.8 2.6,.4 2.6,0 2.6-.3 2.5-.6 2.4-.8 2.2-1.1 1.9-1.2 1.5-1.6 1.1-1.9 1-2.1 .8-2.3 .8-2.2 .9-2.1" stroke="#ff0000" stroke-width="1.15"/>
<path d="M522.5,114.6l1.3-1.4 1.3-1.4 1.2-1.5 1.4-1.4 1.4-1.3 1.6-1.1 1.8-1.1 1.9-1 2.1-.9 2.1-.8 2.2-.3 2.1,0 2.2,.7 2.6,1.1 2.5,1.4 2.3,1.7 1.7,1.7 .9,1.6 -.2,1.7 -.9,2 -1.5,2.1 -1.8,1.9 -1.9,1.5 -1.9,.9 -1.9,.3 -2.1-.3 -2.3-.7 -2.3-1 -2-1.1 -1.6-1.2 -1.1-1.4 -.8-1.6 -.6-1.7 -.5-1.9 -.4-1.8 -.6-1.8" stroke="#ff0000" stroke-width="1.15"/>
<path d="M522.8,114.7l-.9-3.3 .1-3.5 -.6-1.3 -1-.9 -1.4-.3 -4.1,.4 -1.3,.6 -1.1,.9 -.5,1.3 .2,.6 .4,.6 .6,.4 .7,0 .5-.5 -.6-.3 -.3-.7 .1-.7 .4-.6 1.2-.7 2.7-.7 1.2-.8 .4-.5 .9-1.9 1.9-4.6 -.9,1.2 -.5,.4 -4.3,2.3 -2.3,1.6 -2.6,1.1 -2.7,.7 -1.4,0 -.7-.2 -.5-.5 -.3-.6 -.1-.7 .2-2.1 2.5-8.7 .7,.1 .7-.2 1.8-1 1.5-1.4 .6-1.3 .2-1.4 -.1-2.8 2-5.9 -.2-3.5 0-5.6 -.4-2.1 1.1,2.6 1.2,1.7 1,1 1.3,.3 2.8,.1 -4.8-.8 2.1,.4 1.3,.4 4.6,3.1 -1.4-.1 -2.6-.9 -.7-.1 -1.3,.4 -1,1 -.3,1.3 .2,.7 .4,.5 .6,.4 1.4,0 -1.1-.8 -1.6-2.3 -1.4-3.2 -.1-1.4 .2,2.1 .9,1.9 1.1,.9 .6,.2 .7,0 .6-.4 .5-.5 .3-1.4 -.3-1.3 -1.5-3.2 -.1-1.4 .5-1.3 1.5-2.3 1.4-1.6 1.2-.7 2.7-.6 1.3-.7 1-.9 .6-1.3 .5-2.7 .5-1.3 2.7-3.2 -2.8,6.4 -.7,1.2 .2-1.4 -.2-.7 -1.2-4.7 -2.1-3.7 1.5,6.1 .4,3.5 .2,.7 .5,.5 .6,.3 1.4-.1 1-1 .1-.7 -.1-2.1 -.9-1.9 -1.5-1.4 -1.1-.8 -5.4-1.5 -2.4-1.5 -1.6-1.4 1.4,.1 .6,.4 .2,.7 -.1,.7 -.4,.5 -.6,.4 -.7,.1 -.6-.2 -.9-1.1 0,.7 .3,.7 .5,.4 .7,.2 .7,0 .6-.3 1.1-1 .3-.6 -1.3,.6 -1.3-.3 -4.4-2.2 -2.7-2.2 .5,1.3 .2,1.4 -2.4-1.6 -2.1-1.8 -.5-1.3 .1-.6 .3-.7 1.2-.7 -.7,1.2 0,.7 .3-1.4 .5-1.2 1.1-.9 1.4,0 .7,.2 .5,.5 .6,2 .4,4.2 .7,1.9 .8,1.2 .5,.4 2.5,1.3 1.4,0 1.3-.5 .5-.5 .7-1.2 .3-.7 .1-1.4 -.5-4.1 -.5,4.2 .3,1.3 .6,.5 .6,.2 1.4-.2 .6-.4 .3-.6 .1-.7 -.2-.7 -.5-.5 -.6-.3 -.7,0 -1.3,.5 -.4,.6 -.2,.7 0,.7 .4,1.3 1.7,2.2 .7,1.3 .3,1.3 -.1,.7 .6-1.2 .1-.7 -.3-3.5 .2-1.4 .4-1.3 .9-1.1 -1.2,.7 -2,.6 -5.5,1.1 -2.8,.3 -1.3,.4 -1.2,.8 -.9,1 -1.6,3.1 1.7-1.2 1.3-.5 1.4,.1 1.3,.5 -1.2-.9 -.9-1 -.9-1.9 0-1.4 .7-1.2 .5-.5 -.6,1.3 -.1,.7 .3,.6 .5,.5 1.3,.3 1.4-.1 4-1.2 2.8-.5 -.6-.3 2.4-1.4 2.7-.7 2.1,.1 2.6,.9 -2-.5 -2.7,.5 -1.1,.9 -.3,.7 0,.7 .1,.7 .8,1.1 1.3-.5 1.4,0 1.3,.5 1,1 -1.7-1.2 -1.3-.5 -1.4-.1 -2.1,.3 -.7,.2 -1.1,.9 -.9,1 -.6,1.3 .7-1.2 1.1-.8 .7,0 .7,.2 .6,.5 .4,1.3 -.1,1.4 .3,2 .7,2.7 .4,.7 1,.9 2.7,.6 -2-.5 -2.8,.4 -3.9,1.6 -1,.9 .7,.2 1.1,.8 2.9,3.1 2.5,3.3 1.8,1.1 1.4,.3 -1.1,.8 1.1,.8 -1.7,1.1 -1.1,1 -4.5,5.3 -.6,1.2 -.1,1.4 .5,1.3 .9,1.1 1.3,.5 1.4-.2 1-.9 .7-1.2 1-2.7 .4-.6 1.1-.8 -2.6-1 -1.8-1.2 .8,1.2 .3,1.4 -.4,2 .6-1.3 1.4-2.3 .4-1.4 .5-4.1 -.7-4.2 -.1-2.1 .3-2 .9-1.9 1-1 2-.7 -1.2,.7 -1.5,1.5 -2,3.7 -1.5,3.9 .1,1.4 2.4,5 .8,2.7 -.2-2.8 -.9-1.9 -.3-1.4 .1-2 .7-1.2 .5-.5 1.3-.5 1.4,.4 .9,1 -.4-1.4 -.8-1 -1.3-.7 -1.3-.4 2.1,.4 2.8,.1 3.4-.8 1.2-.6 1.3-1.7 .1-.7 -.3-1.3 -.9-1.1 -.6-.4 -1.4-.2 -.7,.2 -.5,.5 -.5,1.3 .1,2.8 .1-.7 -.3-1.3 -1-1 -2.4-1.5 -3.4-.7 -4-1.4 -1.4-.1 .5,1.3 0,1.4 -.4,1.4 -.3,.5 1.1-.7 .4-.6 .3-1.4 -.2-1.3 .4,2 .5,1.3 1,1 .6,.4 -1.4-.1 -.6-.4 -2.7-2.3 -1.3-1.6 -1.2-2.5 1.2,3.3 .1,1.3 -.5,1.4 -.4,.5 -1.2,.7 -1.4,0 -2.5-1.3 -1-.9 -1.8-2.2 -1.2-.7 -1.3-.4 -.7,.1 -1.3,.5 -1.1,.9 .8-1.2 1.4-1.5 3-1.8 -.4,1.3 1.2-2.5 2.5-3.4 1.9-2.9 1.2-.8 2.5-1.1 1-1 .5-1.3 0-1.4 -.6-1.2 -1.1-.9 -.7-.2 -.7,.1 -.6,.4 -.7,1.2 -.2,1.4 .2,.7 .7,1.2 .5,.4 1.4,.1 1.3-.6 1.5-1.4 -1.4,1.6 -1.1,.9 -.6,.2 -1.4,0 1.4,.2 1.3-.5 1-.9 1.2-1.7 -1.8,2.1 -1,1 -1.2,.7 -1.4,.3 -1.4-.1 -1.1-.8 1.4,.2 1.4-.2 -1.4,.2 -2-.5 -1.8-1.2 -.5-.5 -.7-1.2 0-1.4 .7-1.1 .6-.4 1.4-.2 1.3,.4 1,1 1.6,2.3 .7,2 .6,2.7 -.5-.5 -1.2-.7 -1.4,.3 -.5,.5 .7-.1 1.4,.3 5,2.4 2.1,.6 1.9,.9 1.1,.7 .8,1.2 -.8-1.1 -1.3-.6 -1.3-.2 -2.8,.5 -.6,.4 -.8,1.1 1.1-1.8 -1.6,1.4 -2.5,1.3 -1.3,.3 -3.5,.3 -1.4-.2 -2-.6 -1.2-.7 -.4-.6 -.6-1.2 -.1-1.4 .2-.7 .9-1.1 .6-.3 .7-.1 1.3,.3 1.1,.9 .8,1.2 .3,2 -.2,2.1 -.6,1.2 .5-1.3 -.7,.3 -1.4,.1 -.6-.3 -.5-.5 -.4-1.3 .2-1.4 .4-.6 0,.7 .2,.7 .9,1 .6,.3 -.1-.7 0-1.4 .7-1.2 1.5-1.4 3.3-2.6 -.2,2 1.3,4 0,.7 -.4,1.4 -.9,1 -1.3,.5 -.7,0 -.7-.3 -.5-.5 -.1-.7 .1-.7 .6-.4 .6-.1 .7,.1 1.1,.9 1.1,1.8 -1.3,.6 3.2,1.4 1.4,0 1.3-.3 .7-.3 -1.4,0 -.7-.2 -1-1 -.2-.6 -.1-1.4 0-2.1 .4-1.4 .7-1.2 1-.9 1.8-1.2 3.2-1.3 2.1,0 3.2,1.4 1.4-.2 1.1-.8 .7-1.2 .6-2 0-1.4 -.3-.6 -.6-.5 -.6-.1 -1.4,.4 -.4,.5 -.9,1.9 -.3,2 4.3-2.2 1.2-.8 .6-1.2 -.1-.7 -.3-.7 -.6-.4 -.7-.2 -1.3,.4 -.9,1 -.7,2 .2,2.8 -.3,3.5 -.4,1.3 -2.1,4.4 -1.7,6.1 -.9,1.1 -2.5,2.4 -.7,1.2 -.2,.7 .1,1.3 .6,1.3 2.6,3.3 2.2,1.7 -3.2-1.4 -1.4,0 -1.4,.3 -1.2,.7 -1.6,1.3 -3.6,2.2 -1,1 -.6,1.2 .4-.5 -.4,1.3 0,.7 .7,2 1.2,1.7 1,.9 2,.8 1.4,0 1.3-.5 1.5-1.4 .1,2.1 -.6,2 .8-1.1 .1-.7 -.1-1.4 -.3-.6 -.9-1.1 -1.3-.6 -1.4,0 -1.2,.7 -.5,.5 -1.1,3.3 2.7-.7 1.7-1.3 .7-1.2 .3-2 -.8-2 -1.1-.8 -2.1-.3 2-.5 2.1-.1 -.7-.1 1-1 .3-.6 .2-1.4 -.2-1.3 -.8-1.2 -1.6-1.3 -1.3-.6 -1.4-.3 -.6,0 -.7,.4 -.5,.5 -.7,1.9 .1,2.1 1.3,3.3 .4,2 .3,4.2 -.9,3.3 .2,1.4 1.2,3.3 .1,4.2 .3,.6 1,1 1.4,.4 .7-.1 .6-.3 .9-1.1 .9-1.9 .2-1.3 -.2-1.4 -1.1-1.8 .7,1.2 .2,.7 -.1,.6 -.5,.6 -.6,.4 -1.3,0 -.7-.3 -1.3-1.6 -.6-1.3 -.3-1.3 1.8,3 1.1,.8 1.3,.4 4.2,.1" stroke="#000" stroke-width="0.75"/>
<path d="M521.6,112.7l-4.7-2.6 -3.6-2.8 -4.1-3.9 -1.6-2.1 -.5-1.1 -1.2-3.4 -.3-2.3 0-2.1 .3-2 .7-1.9 1.6-2.4 1.4-1.1 2.8-1.3 3.1-.3 2,.3 3.2,1.6 2,1.6 1.5,1.7 .5,.9 .7,2.2 .3,2.4 -.3,3.4 -1.3,3.2 -2.2,3 -1.6,1.4 -.8,.5 -2,.6 -3.1,.2 -1.7-.5 -.7-.6 -1.3-1.5 -1.1-2 -.6-2.1 -.1-1 .3-1.9 .9-2.1 1.2-1.9 1.4-1.2 1.7-.5 2,.1 2,.4 1.4,.8 .5,.5 .6,1.5 .7,4.3" stroke="#000" stroke-width="0.75"/>
<path d="M524.2,88.6l4.8-2.7 1.5-1.1 1.4-1.4 2.6-3.3 2.5-4.6 1-3 .1-1.7 -.1-.8 -.7-1.7 -1.1-1.4 -1.2-1 -.7-.2 -.7-.1 -1.6,.3 -1.8,.7 -1.6,1 -1.2,1.3 -1,1.8 -1,3 0,2.2 .8,2.1 4.3,6.8" stroke="#000" stroke-width="0.75"/>
<path d="M533.1,53.0l.8-.8 .7-.7 .8-.8 .8-.7 .9-1 1-1.1 1.3-1.4 1.4-1.6 1.5-1.8 1.6-1.8 1.6-1.8 1.5-1.8" stroke="#000" stroke-width="0.75"/>
<path d="M547.0,37.7l-.6,1.9 -.8,2 -.7,2.1 -.6,1.9 -.5,1.6 -.1,1.2 .3,.7 .7,.3 .8,0 1-.1 1-.2 .8,.1" stroke="#000" stroke-width="0.75"/>
<path d="M548.3,49.2l-.4,1.4 -.3,1.4 -.4,1.4 -.4,1.4 -.5,1.5 -.5,1.8 -.8,1.9 -.8,2.2 -1,2.4 -.9,2.3 -.9,2.1 -.7,1.8 -.6,1.4 -.5,1.2 -.3,.9 -.4,.9 -.4,.9 -.4,1 -.4,1.1 -.4,1 -.4,1.1 -.5,1.1 -.4,1 -.4,1.1" stroke="#000" stroke-width="0.75"/>
<path d="M515.3,63.1l-4.5-5.8 -.6-1.8 0-.8 .7-1.6 1.9-2.2 1.2-1.7 3.2-8 1.3-1.8 1.5-1.6 2.5-1.7 1.7-.4 1.6,.4 1.8,1.1 2.3,2.3 1.1,1.6 .7,1.8 1.4,5" stroke="#000" stroke-width="0.75"/>
</g>
<circle cx="589.7" cy="114.7" r="2.4" fill="#0505f5"/>
<path d="M522.8,45.1 L523.6,47.4 L526.0,47.5 L524.1,48.9 L524.8,51.3 L522.8,49.9 L520.8,51.3 L521.4,48.9 L519.5,47.5 L522.0,47.4Z" fill="#0505f5"/>
<path d="M514.0,118.1l.1-3.4 .3-1.2 .6-1.1 1-1.1 1.5-.9 1.4-.6 1.5-.2 1.6,0 1.8,.4 1.6,.7 1.5,1.1 1.1,1.2 .8,1.3 .6,1.3 .6,1.9" fill="none" stroke="#000" stroke-width="2.1" stroke-linecap="round"/>
<g clip-path="url(#cd1)" fill="none" stroke-linejoin="round">
<line x1="300.0" y1="363.6" x2="459.3" y2="205.6" stroke="#000" stroke-width="1.75" stroke-dasharray="9.8 8.4"/>
<path d="M358.4,305.1l.9-.5 .6,.4 .8,0 .9-.5 1.2,0 1,.3 -.5-.2 .4,0 1.2,1 1.6-1.2 1.4,1.2 1.5,.1 -.4-2.3 1.7,1.7 1-.2 -.2-.9 .9,1.3 2-.9 .7-1.1 1.1-.2 .4,.2 1.8-.1 2.2-1.2 .8,.4 0-1.9 -.5,.5 2.8-.3 .3-1.8 .8-.5 1.3,.1 .7-.6 1.1,.5 -.5-.9 1.4,.4 1.8-.3 .7,.4 1.3-.9 -.3,.6 2.8,.3 0,1.3 2.6,.1 .6,.4 .8,1.6 -.9-.4 2.6-1 .8,.5 .3-.3 .2,1.5 3,.3 -.6-.6 1.2-.6 .2,.8 .8-.4 .2,1.9 .9-.2 1.9,.6 -.2,.6 2.2-.1 .6,.8 -.6-1 1.6,.7 -.5,1.4 1.8-1.3 1.1,.3 .9,.8 2.3,0 -.9-.3 .3-1.7 1.3-.8 1.3,.8 -.7,1.2 1.2,.5 1.2,.3 2.4-.5 .8,.2 -.6-.7 -.4-1.3 .9-.9 -.5,.1 .7-1.3 -.4,.3 -1.6-3.3 -.6,1.6 -1.4-1.6 -.4,.3 -1.4-.4 -.4-1 .2-.1 -1.2-1.2 .2,.2 -2,.2 -1-1.2 -1.1,1.1 -.3-1.3 -.4-.8 -1.3-.7 -2-1.5 -.1-.2 -.1,.4 -1,.3 -.4-1.7 -1.9,.2 -1.1-1.6 -1.4,.2 1.1-2.7 -1.7,1.9 -1.2-1.3 .1-1.2 -2.1,.4 -2.1-1.6 -.5-1.2 -2.7-1.8 -1.5-.2 -.4,2 -2.4-2.6 -.8,.5 -1.6,.3 .8,.2 -2.2-.6 -1.2,1.7 .5,.8 -1.5,2 -3,1.1 -1-.2 .8,.5 -2.7,.4 1.6,1.3 -1.2-.1 -1.7,1.6 .2,1.4 -1.3-.2 -1.3,1.5 -2.9,.3 1.2-.7 .4,2.2 -2.6,.6 -.2-.4 -2.1,.6 .5,.7 -2.4,1.4 -1,.3 -.1,.6 -.9,1.4 -.9-.2 0,1 -1.2,.4 -.4-1.2 -.5,1.9 -.5,.5 0,1 -.9-.7 -1.2,1.5 .4-.7 -1.2,.4 -.3,1.3 -.5-.7 1.4-.8 .1-1.3 .4-.4 1.4-.5 -1-.4 1.4-.2 .5-1.1 -.6-.1 .9-1.9 1.7,1 1.5-.1 -.3-.7 .6-.5 .6-1.5 .1,.4 1.4-.1 1.5,.7 .1-1 1.6-.9 -.6-.4 2.5-.7 1.2-.7 .9-.7 .3-.6 .1-1.3 .6,1.1 1.6-1.5 0-.8 1.3-.3 1.9-1.9 -.3-.8 1.3-.2 -.7-.4 1.3-.3 -.1-1.3 3.4-1 .4-1.3 1.9-.5 .6,.2 -.4,.4 1.5-1.8 .1,.7 1.9,.9 1.5,.3 .1-.1 2.7,1.1 .5-.4 0,.9 2.1-.4 1,1.7 1.4-.5 .2,.8 2,1.9 1.7-.1 -.6,2.3 -.6-.5 2.4,1.6 1.4,.1 -.4,.7 .5,.5 .6-.2 2.1,1.3 .1,.5 0-.2 .7,.8 -.6,.9 .4-1.4 2,1.6 2.1,.1 .8,.3 .8-.6 .8,1.3 1.5,1.2 1.3-.2 .5,1.8 1.2-.9 .5,.8 .3,1.6 1.1-.1 -.7,.7 .9,1 .5,1.3 .3,.2 .2,1.4 -.6-.3 .1-.8 -1.5-.9 .5-.6 -1.6,.1 -1.1,1.3 .6-.6 -1.8-1 .3,1.5 -1.3-.5 -.6,0 .2,.2 -2.2,.6 .4-.6 -.3-.7 -3.8,1.3 -.7-1.5 -.7-.2 .4,1.1 -.3-.4 -1.5-.5 -2.2-.2 0-.9 -1.4-.1 .2,.6 -2-1.6 -1.1-.4 -.4-1.3 .3,.1 -2.5,.1 -.5-.7 .3-1 -1.2-.3 -.5,1 -2.1-1.9 -1.1-.1 -.6,1.3 -1.8-2.1 0-.6 -.2,.8 -.9,1.1 -2-.3 .2-.5 -2.6,1.3 -1,0 .1,.2 -.8,0 .1,.2 -1.2,.8 -1.5-.9 -.9,1.6 -1.4-.1 .4,.3 -1.1,.5 -1.3,1.7 -2.9-.9 -.6,1.1 -.5,.1 -1.2,2 .5-.3 -1.6-.1 -.3-.2 -1.9,1.7 -.5-.9 -4.1,1.2 -.4-.9 -.3,1 -1.1-.5 -1.2,1.2 -1.6,.1 -.1-.3 -.7,.3 -1.3-.1 -.6-.5 -.6,.2 .1-.4 .6-.7 .6-.4 .7-.9 .6-1.5 1.5,.2 -.4,0 1-1.1 -.9-2.2 1.1,.1 1.7-.3 .8-2 .3,.9 1.6-2.3 0-.9 .8,.8 .7-1.6 -.2,.3 2.2,.2 1.1-1 -.1-.2 1.3-.6 1.1,.3 1-1 -1.3-.4 2.3,.5 -1-.9 1.8-.3 1.3-.5 .6,0 2.2,.7 .4-1.3 .2,.4 1.3-.8 .7,1.7 .6-1.5 1.1,.4 .3,.3 .8-.8 -.1,1 1.4-.9 3.5,.5 .2-.7 2.3,1.1 .5-.4 1.2,0 -.3,.8 .9,.4 3.3-.5 .4,1.7 .4-.8 1.6-.1 .6,1.1 .8,.5 2.6-.3 .8,1.3 -.4-.1 1,.1 .7,.3 2.3-.3 2.1,2.2 1-.4 1.6,1.6 .5-1.1 2.1,1 1,1.4 -.2-.5 1,.9 .7-.5 1.9,.6 .2,.8 -.8,.5 .7,0 .4,1.3 .9,.9 .7-.6 0,2.2 .7,.5 -.2,.6 .7,.4 .4-2.1 -.3-.9 0-1.6 -1.1,.1 .3-1.1 -2-.5 .9-1.5 -1.8-.2 .4-.9 -2.1-2.2 -2.1-.1 .2-1.7 -1.6-1.1 -.8-.7 -1.6-.8 -.2-1 -1.5,.9 .3-1.5 -1.2,.6 -.9-1.7 -2.2-.7 .1,.2 -.5-.4 -.9,.7 -1.4-2.5 .1-.1 -3-1.9 -1.4-1.7 -1.3,0 -.5-.5 -.8-.2 -1.1-.5 .2-.6 -1-.9 -2.3,0 -.6-.9 -2.1,0 -1.4-.5 -1,1.9 -.5-.5 -1.1,1.7 -1.1,1.2 -.8,1.4 -1.6,.1 -.9,1.8 -1.8,0 .5-.2 -1.1,1.4 -.9-.1 -1,1 -.3,1.1 -1.8,.6 .5-.5 -1-.4 -2.4,2.8 .4,.7 -.9-.1 -2.4,1.2 -.3,2.2 -.4-1.2 .8,.3 -1.7,2.4 -1-.4 -.8-.7 -.9,3.2 -2.4-.3 1,.7 -1.9,1.7 -.5,1.5 -.1-1.7 0,1.7 -.7,.6 -1.1,.3 -.4,1.4 -1.7,.7 -1,1.1 -.1-.2 .5-.5 .6-.3 .5,.1 1.1-1 -.7-1.1 .8-.7 1.9-.4 -.9,.5 .6-1.3 1.8-2 -.9-.1 1.2-.7 .8-.9 0-.8 1.1-.2 1-.8 1.2-1.6 0,.2 -.3,.3 1.6-1.9 .6-1.1 .4-.2 .5-.9 1.2-.6 .7-1.6 -.8-.5 1.6-1.5 3.3-1 -.6,.2 1.4-.2 .8-1.3 -.4-.5 2.2-1 1.3,1 .3-1.9 1.2-1 2.3,.6 -.5-.4 1.6-.4 .2-.8 2.3,1.1 .2-.5 1.1,.6 1.4,.1 1.1,1.3 1-.7 .4,1.1 .3-.4 1.3,.3 .5,1.1 1.9-.8 1.5,2.6 0,.2 .6,.7 1.5-.9 1.2,.1 -1,.1 2.1,0 -.2,1.3 1.5,.2 1.6,0 -.5,.9 .8,1.1 1.7,.4 2.2,.1 .2,1.7 2.3,.5 .8,1.2 .8-1 .6,.6 1.2-1.4 -.1-.1 1.9,1.8 1.3,.5 -1.1,1.1 2,.4 1.2,1.2 .2,1.3 .9,1.9 .3,0 .9,.8 .6,2.4 -1.2,.5 .6,1.6 .1,1.4 -.7-.2 -.4,.3 -.6-1 -.8,0 -.6,.7 -.7,.1 -1.1,.6 -.6-.6 -1.1-.5 .3,.1 -1,.6 -3.1-.1 -1.1,1.1 -.8-.2 -1.2,.3 -.5,.5 -1.6,.2 -2.8-1.5 .5,.2 -1.5,1.1 .1,.4 -.3-2 -.6,.5 -2,.6 -.7-.3 -2.4-2 .6,.8 -1,.1 .4-1.8 -2,.3 -.6-.2 .5-2.1 -.2,.4 -.5-1.1 -1.6,.3 -.4-1.3 -.3-.4 .6,.1 -1.1-.6 0,1 -1.4-.9 -1.6-.5 -.5,1 .2-.1 -1.9,.1 -.3,.6 .4,1.5 -.4-.1 -1.6,.6 -1.7,1.1 .7,.2 -1.4,.9 .1,2.8 -1.5-.2 .6,1.5 -1-.8 -1.8,1 -.6-1.1 -2.1,.5 -.7-.5 -.7,.8 -1.1-1 -1.3-.3 -.9,.1 -1.9-.5 -.4,.3 -1-1 .1,.8 -1.6,0 -.3,.5 -2.5-1.5 .2,.7 0-.3 -2.3-.5 .4-.9 -.7,1.1 -3-.8 .7-.4 -1.2,.2 -.2,.5 -.6-.1 -1.8,.3 .7-1.6 1.1-.8 .6-.9 1-.2 .3-1.2 1.1-1 -.4,.2 2.2-3.2 .4,0 .1-.6 0-1.6 2.9-.6 0,.3 1.9-1.1 .5-1.3 1.9-.1 -.7,.3 -.5-1.5 2.5,.3 -.6-1 2.2-2 0,.3 .4,.7 1.3-2.1 2.2-1.2 .3,.9 1.6,.5 -.4-1.9 .8-.3 .5-2.5 .9,0 1.3,.6 .2-.7 .9-.9 1,.8 1.2-2.3 -.7,.4 .5,1.1 .8-1.2 1.3-.5 1.3,.4 1-.4 .6,1.1 2.3,1 1-.4 1.1,.4 1.7-.9 -.4,1.1 .6,2 1.8,.1 .9,.6 -.7,0 2.7,1.2 0-.8 .8,1.3 .7-.9 -.1,1.6 2-.4 2.2,2.3 .3-.9 .4,1.6 .4,.6 -.4,.9 4.1,1.8 .6,0 1.5,.9 .1-.9 .3-.6 1.1,3.4 1.6-.3 .8-.6 -.2,1.5 .8-.3 .9,3.5 1.8,1.7 .4,1.3 .3,.3 .3,1.3 1.6,1.4 -.7,.8 -2-1 -1.5-1.5 -.4,.3 -.7-1.9 -1.2,2.1 -1-.6 -.3-1.1 -1.3,.8 -1.7-.1 -.8-.6 -.3,.6 -.7-1.8 -1.5,1.6 .4-.3 -2-1.4 .3,1.6 -1,.6 -3.1-1.4 2.8,1.4 -1.5-.9 -1,1.1 -.8-1.5 -.9,0 .5-.7 -1.6-.1 .4-2.2 .2,.4 -1-1.3 -2.6-1.1 -.1-1.1 -.4,.4 -.2-.7 -2-1.3 -1.2-1.5 -1.7,.1 -1.8-2.4 .1,.5 -1,.6 -1.1,.3 -1.7-1.5 -.6,.8 -1.7,.3 0,.9 -.5,.9 -.6,0 -1.3,2.3 -1-1.2 -1.4,2.9 -1.5-1.5 -.2,2.2 -1.4,.5 -1,.9 -.6,1 -1.6,.2 .3,.7 -1.4-.1 -.2,2.1 -.8-.2 -.3-.4 -1-.3 -.7,1 -.9-.4 .3,.6 -2.6-.2 -.1,1.4 -.4-.5 -1.8,.5 0-.7 -1.4-.8 -1.1,.9 .2,1.2 -.2,.1 -1.8,.4 .7-.6 -.7,.6 -2.1-.7 -.7,.3 -.7-.1 0,.2 .2-.5 1.1-.9 .5-1.3 1.5-2.1 -.9-.4 .9-.3 .7-1.4 .8-1.8 .1-1.6 2.7,.4 0-1 1-1.4 -.9-.1 1.3-1 1.9-.8 1.1-1.1 .9,1 1.1-1 -.6-.7 2.5-1.4 -1.4,1.3 2.4-2.2 .2-.6 .5,1.9 .8-.4 0,1 .8-.9 .5-.2 1.9,1 2.1-1.9 -.3,.9 0-.3 1.9,.9 .7-.3 1.1-1.1 0-1.1 1.5,1.1 .9-1.1 1.3,.2 1,.8 .1-.2 2.1,.1 .9,.5 .2,.8 .7,.6 2.3-.6 -.5-.3 1.4-.3 0,2.5 .4,.6 .7-1.3 .6,2.4 2.4,.6 -.7,.1 -.1,.8 1.2-.2 1.7,1.2 1.7-.5 1.4,.7 -.3,1 1.4,1.9 .9-2.9 1.9,2.8 .3-1 1.4-.1 .5,1.5 1,1.2 1.7,0 -1.1-.1 .8,.4 2-.5 -.3,.9 2.3-.2 .1,.9 .3,.6 1.3,.1 1.3-.4 1.7,2.4 .3-.1 1,0 -.1,1.6 .2,.5 -.6,.2 -.3-.2 -1.4,.7 -1-.6 -.9,.3 .3,1.1 -1.3-.8 .8,.6 -1.6,.3 -2-1.6 -2.1,1.6 .9-.6 -1.2,1.1 -1.5-.1 -.4,.8 -.1-1.3 -.5,1.2 -.9-1.4 -.5,.7 -1.1-1 -4.6-.1 -1.2-2 -.7-.1 .6-.4 -.5,.1 -.1-.8 -1.2-1.6 -.8,.3 -2.4-.3 .1,1.1 -1.7-.9 -1.5,.1 -.1-1.5 -1.2-.4 -.8,.6 .3-1.1 -2.7,0 -.3,.7 -.2-.8 -2.1,1.5 0-1 0,1.8 -1.2-1.5 -1.4,.7 -.7,1.8 -1.4-1.5 .3,1.1 -1.8,.2 .5,.1 -1.1,.7 -1,0 -.5-.4 -1.8,.7 -.1-.7 -2.2,.7 -.2,.3 -1.9,.4 -1.5,1.9 .8-1.7 -2-.5 .8,.5 -1.3,.4 -.8-.5 -.3,1.3 .2-.6 -.1-.6 -2.4,1.1 -.6-.1 -1,1.2 -.7,.4 -.5-1.2 -.8,.1 -1.7,.8 -.1,.7 -.1-.4 -.8-.4 -.6,.2 -1.7-.5 -1.1-1 1.1-2.4 1.3-.8 -.3,.2 .1-.8 1.6-.3 .9-.4 -.1-1.3 1.7,1.4 -1.6-1 1.2-2.3 2.3-.4 .3,.2 .6-.9 2.5,.9 .3-1.7 1.4-.4 .6,.3 1.8-.2 -1.1-1.3 2.1,.4 -.9-1 .9-.5 .2-.3 .7,.8 1.6-1 1.2,.1 1-1.7 .5,.1 1.2,1.1 1.8-1.1 .2-.9 .9-1.3 1.6-.5 .7-.1 .4-.5 .3-1.7 1.7,.7 -.1-.9 .9-1.3 2-.8 .9,0 .1-1.5 .6,1.5 0-.5 1.5,.6 2.2-.6 2.1,.2 .2,1.2 2.8,.5 .9,.8 .2,0 -.9,0 1.5,0 1.8,1.3 -.7,0 1.8,1.4 .1,.4 .9,.4 1.9,3.2 1.4-1.2 1.4,1.8 .1,.7 .5-.1 -.1,1.3 1.4-.6 1.4,.6 .7,.9 .8-.1 -1.6,.8 2.9,0 .6,1.6 .7-.8 .9,1.3 1.8,1.6 1.7,.3 -.7,.6 .3,.1 .4,.7 .2,1.4 .6,.8 .5,1.1 -.4-1.9 -.8-1.3 -.5-.6 -.1-1 .4-.2 -1.8-2.1 -.8,1 -1.5-4.4 -.4,1.6 -1-.9 -.2-.5 -1.3,.8 -.2-.9 -1.2-.2 -2.4-1.1 -.2,.3 .8-.8 -.6-.5 -1.3,.2 -2.2-.4 -1.5,.7 .7-1.1 -2.8,.2 0-2.8 .2,.9 -2,.7 -.9-.9 -.7,1.3 -.5-1 -1.2-.9 -1.4,.2 -.7-1.8 -.6-.9 -1.2,1.2 -4.1-1.3 0,.6 -3.4,0 -.2,1 -1.2-1.5 -1,1.1 .8-.9 -.9,2.3 -2.2,.4 -.1,1.4 -1.4-.1 -2.8,2.7 -1.8-.1 -1.2,2.1 -1.1-1.3 .3,1.3 -1.6-.3 -.7-.4 -1.2,1 .8-1.1 0,.7 -.9,0 -1,1.1 -.8-.5 .3,.5 -2.4-.7 .1,1.3 0-.5 -1.8,.8 -1.3-.3 -.2,1.2 -.8-.6 .8,.8 -1.8,1.7 -.9-.9 -1.5,2 -1.3,.5 -.8,.1 .3,.4 -1,2.3 -.6,.4 -.8-.4 0-1.2 2.4-2.8 -.7-.6 1.7-1.4 -.9-.6 2-.6 -.2-1 .8-.2 1.3,.4 -.4-3.1 1.4-.2 -.1-.3 1-.3 2.4-4.2 3.4-1.7 1.2-.9 1.2,0 1.3-2.4 -.1-1.2 1.2,1.2 1.7-.9 .1-.7 2.2,.2 -1,.5 2.1-1.4 2.5-1.2 .5,.9 .5-1.1 .9-1.5 1.3,.4 1-.7 .6,.4 2.3-.2 1.2-.3 1.8,1.8 -.4,.7 2.8,.9 -.9,.7 1.5-.1 .4,.3 1,2.1 1.4-.5 -.2-.4 1.8,1.1 .4,1.3 1,1.1 1.3,.1 1.3,1.5 -.7-.3 .8,.5 .3,.5 1.8,1.7 .4-.3 1.8,1.5 1.1,.2 .1,1.3 1.9,.2 1.2,.6 1.1,1 .6,1.2 .9,0 1.5,.3 .6-.5 .4,1.1 1.3-.2 .4,.9 .5-.2 1.8,3 .7,0 -.8,1.1 .6,0 .2,.6 1.3,1.8 -.1,.4 -1.1-.3 -.9,.1 -.4,.5 -2.4-.8 -1,.8 -.6-.5 .3,1.3 -2.9-1 -.7,2.6 -.7-1.2 -1.6,.4 1.8-.7 -2.2-.4 .2,2.3 -1.3-2.1 -1.2-.2 -.2,.1 -.8-2.2 -1.3,.7 -.8,1 -2.2-1.6 .3,.7 -.2-1.6 -3.8-.8 -.9,.5 .2,.2 -.8-.6 -1.1-.4 -.7,.5 -2.5-2.6 -.6,.1 .2,.8 -2-.7 -.5-1 -2,1.2 -1.2-.8 -.7,.9 -1.6,1 1.3-.3 -2.1,.4 .4,1.6 -2.5,.2 -.4-.4 -.9,1.6 .1-1.5 -1.7,.4 .1-.2 -1.3-.3 -.9,1.6 -1.4-1 0,.2 -1,.1 -.3-1.3 -1.1,.3 -.5,1.4 -1.5-.6 1.2,0 -2.7,.7 -.7-.3 .4,.5 -2.5,.7 .5-.1 -2-.8 -.5,.9 1.6-.7 -.7,0 -1.9-.5 -.7,.6 -.1,1 -1.7,.6 -.2,.8 -.4-1.1 -1.1,1 -.7-.1 -1.2-.9 -1-.3 -.8,0 -.5-.3 -.1,.1 .5-.6 -.1-.8 1.3-2.3 .6-2 1.1,.8 .7-1 .6-.4 1.6,.8 1.3-1.5 -.9,.4 1.5,.6 .9-2.4 1-.6 -.6-.7 .7-1.5 1.4-.2 .6-.9 .9,.5 .9-2.6 0,.3 2,.9 .4-.7 1.1,.1 -.6-.9 2.4-.2 .8-.9 .5,.1 .7,.8 -.1-.5 2.1,.7 .7-.9 .1,1.7 3.3-1.6 .1-.4 .8,0 0,.5 2,.2 1.2-1 -.4,0 1.7-.8 -.4,1.9 1.2-.8 1.3-.2 -1,.5 2.5,1.6 1.2-1.5 2.3,1.4 -.1-.9 1.5,.8 1-.4 0,1.2 1.2,0 -.7,.4 0-.5 1.1,.9 .9-.3 1.9,1.2 1-.8 -.7,1.2 2.4,1.1 .5-.8 1.4,.3 1.9,1.3 .9,.2 -.1,.7 2.4,1 -.3,.1 1.3-.3 -.2,.4 1.6,.3 -.1,1.5 .2-.7 1.8-.3 1.3,1.6 1.5,1.1 -.2-.3 .4,.6 1.6,.8 1,0 .7,1.3 -.1,.3 .5,.9" stroke="#ff0000" stroke-width="1.15"/>
<path d="M358.6,305.0l2.5,1.5 .8,.2 .1,1.5 1.2-.5 .6-.1 .8,1.2 1.9,.2 -.1,1.7 1.4-.8 .4-.6 1.3-.9 .4,1.3 2.8,0 -1-.6 1.7,.1 .4,1.6 1.1-.9 -.1,1.5 2-1 -.9,.4 2.4,1.2 -.7-.1 1.8,.6 .5,.9 .1-.7 .6,1.2 2.2-.5 1-.5 -.6-.7 1.4-.5 0-1 .6,1.1 .3-1.5 .5-1.1 .5-1 .8-1 -.3-1.2 2.2-.5 1.3-1.5 2.1-.7 1.5,.6 .7-.6 0,.8 1.3,.1 .7-.3 .6,.1 -.6-.4 1.7,1.4 .9,0 .4,1.2 0-.5 1-.8 .5,1.6 .7,.8 1.6-1.1 1.5,.3 .4,.7 .6-1.2 4.1,1.1 -1.9-1 1.8,.7 -.3,.6 1.6-.2 .7-.5 1.7,.6 -.6,.3 1.2,0 3.3,1.1 -.6-1.2 1.3-.2 1.2,.8 1-.6 -.4-.7 1.2,.1 1.8-.6 .7,.5 1.9-1.4" stroke="#ff0000" stroke-width="1.15"/>
</g>
<circle cx="425.8" cy="305.4" r="2.4" fill="#0505f5"/>
<path d="M358.7,235.5 L359.5,237.7 L361.9,237.8 L360.0,239.3 L360.7,241.6 L358.7,240.3 L356.7,241.6 L357.4,239.3 L355.5,237.8 L357.9,237.7Z" fill="#0505f5"/>
<ellipse cx="359.3" cy="305.7" rx="4.9" ry="3.6" fill="none" stroke="#000" stroke-width="1.2"/>
<g clip-path="url(#cd2)" fill="none" stroke-linejoin="round">
<line x1="464.2" y1="363.6" x2="623.2" y2="205.6" stroke="#000" stroke-width="1.75" stroke-dasharray="9.8 8.4"/>
<path d="M523.1,305.6l1.1,.3 2.3,.2 0-.2 .6,0 1.3,.5 .4,.6 1-.9 0,1.2 1.2-1 .7-.2 .9,1.4 1.7-1.3 -.1-.3 2.6-.3 .7-.7 .3,1.1 .8,.2 .8-.9 -.5-.4 2,.3 -.4-.9 2,.9 .2,.4 1.4-.7 .1,.3 1.3,.6 .7-.4 .6,.2 1,1 1.7-1 0-.6 .8-.1 1.5,0 -.1,.4 -.1-.4 2.4,1 -.5-.6 .3,1.3 1.5-.7 -.7-.8 1.5-.5 .5,.1 .7-.5 2.1,1 -.4,.5 2.5,.2 1.2,.4 .8-.7 .2,.9 2,.4 -.7-1.4 2-.1 -.9,.4 1.4-1.4 .2,1.3 .4-1.2 1.1,1 -.1-.8 1.6-.1 1-.2 .8,.1 1.5-1.4 -.2,1 .5,.5 1.4-2.1 0,1 1.1-.6 1.1,.6 .4-.2 1.7,.6 -.7-1.1 2.4,1.5 .2-.5 .6,.8 -.2-.3 1.6-.9 1.1,.9 .5,.8 .7,.4 2.2,.2 .2-.4 1.1,.1 -.3-.4 -.4,0 -1.1,.4 -1.9-.5 .1,.9 -2.1-.3 -.1,1.2 -1-.5 -.7,.2 .2-.5 -1.8,.5 0-.9 -1.4,.5 .1,.3 -.1-1.3 -1.4,.9 1.1,.4 -2.3-1 -.3-.6 -1.5,.6 .9,.6 -.2-1.1 -1.4,.3 -.3-.9 -1.2,.8 -2.2-1.1 .9-.4 -2.5-.3 0-1.7 .5,1.5 -2.1-1.2 -1.8-.5 0,.2 -1.2,.3 -.3,.4 -.6-.4 -2.3,1.4 -.7-.9 -.6,.7 -1.2-.5 -.2,1.1 -1.1,0 -1.8-.6 .9,1 -2.5,.7 .2-.2 -1.2,.9 -.4-.5 -.7,1.5 -2.2,.9 -1.6-1.4 -.4-.9 -1,1.4 -2-.3 -1.6,.8 .5-.9 -.5,0 -1.5,.7 .2-.5 -2.1-.1 0,.6 -.6,.5 .6,0 -1.1-1.2 -.6,1 -2.8-.8 .6,.4 -.5-.7 -.6,.3 -1.3-1.1 -.2,1.3 -1.6-.6 -2.2,.9 -.2-1 -.2,.9 -.1-1 -2-.7 1-.1 -.2,1 -.8-.7 -1.4-.4 -.4,.4 -1.4,.2 -.3-.6 -.5,.4 .2-.3 1.4-.2 .8,.1 .1-.9 1.7-.4 .9,.7 .7-1 -.4-.5 1.4,0 1-1.4 -.4,0 1.3,.6 .3-.9 1.5-.4 .5,1.4 1.2-2.5 1.6,.4 0,.3 .5-1.3 1.9,.2 0-1.5 1.3-.9 .1,.9 1-1.8 .8-.5 .3-1.3 1.8,.7 .7-1 1.1-2.6 1.4,.5 .7-1.6 1.1-.7 .1-.2 1-.2 1.6-1.2 2.2-.7 .2-1.1 -.2-.3 3.2-1.8 1.4-.5 .7-.5 2.7-.2 -.3-1.4 2.4-1.1 -.4-1.8 1.8,2.3 2.3,.8 .4,.5 1.6-.6 2,1.4 -1.2-.1 1.6,.7 .6-.9 .3,2.6 2.8-1 -2.1,.1 1.7,1 2,.8 .2-.2 1.7,2 -.5,.7 1.1,1 1.5,.5 1,.6 -.1,1.1 .6,1.4 1.2-.1 -.7,.8 .4,1 2,1.2 -.2,.4 1.6,.8 .5,.5 .4,1.1 -.5,1 -.1,1.7 .2,.8 1.8,3.3 -.5-.9 -1.1-1 .4-.9 -1.6-.9 -.3-1 .9-.1 -1-.9 1.2-1 -1.6,1.2 -1.3-1.7 .5-1.2 -1.5,.8 0-1.3 .4-.7 -1.7,.3 -2.2-.6 .9-.2 -2.9-1.3 1-1.8 -2-.1 -1.3,.3 -.2,.3 -1.6-.5 -.7-.5 -1.7,.3 -.9-.5 .4-.2 -1.8-.2 -2.9,.4 -1.2-1.7 -.3,.4 -1.3-1.3 .5,1.1 -2.1,.3 -1-.9 -.2,.3 -1.3,.9 -1.2-.4 .2,.1 -1.8,1.4 -.3-.4 -.8,.5 -1-.6 -.6,0 .1,1.1 -1.1,2.5 .4-2 -1.1,.1 -2.9,1.3 -.7,.7 -1-.5 -1.1,1.5 -.5,.2 -1.4,1.9 -1.2-.1 -1.2,1.1 -.4,0 -.5-.3 -.9,.2 -1.1,1.5 -1-.2 -.2,.9 -1.1-.3 -1.9,1.2 1,.1 -2.1,0 -.8,1.1 .3-.1 -1.1,.7 -1.5-.4 -1,1.2 -.9-1.4 -1.1,.2 -1.2,.8 .8-.1 -1.7,.6 -.3-1 -.9,1.8 -2.5,.4 .7-1.5 .9,0 1.3-1 1.1-2.6 1.4-1.4 -.6-1.3 2-.7 .7-1.5 .2,.8 1.8,.2 1.6-2 .4-1.3 0,.6 1.8-.3 1,.1 1.2-.4 .1-.4 2.5,.7 -.5-.7 1.9-.3 -1.2-1.2 2,.5 .5-1.4 1.1,.4 .4-1 1,.1 .7,.4 .3-1.9 1.5-.1 1.2-.5 0,.3 1.2-1 .4,.5 2.5-.1 .8,.4 1.6-1.3 1.8-.4 .2-.6 .4,.4 2.2-.7 .2,1 2.3-1 .6-1.1 .8,.1 1.6-.8 .4,.7 .9-.5 1.5,.6 -.1,.3 1.3-.4 .7-.5 .4,.2 .8-.3 .8,1.2 2.5,1.1 2-1.3 1,1.2 .9-.5 1.7,1 0,2.7 .8-.2 1,.8 -1.4,1.7 1.2,.4 1.1,1.6 .9,2.1 1,1.3 .8,.4 -.1,2.1 .3-.7 -.1,1.8 1.8,.1 -.4,1.6 .5,.4 .9,1.8 .2,.7 .4,.1 -.9,.5 -1.6-1 -.8,.2 -.8-.6 -.1-.3 0,.7 -2.1,.3 -.7-1.9 0,.8 -1.4-.3 .1,.1 -1,.9 -2.6,.3 .7-1 .2-.9 -1.1,.7 .2-.6 -1.6,1.7 -2.6-.8 1.5,.8 -1.4-1.6 .1,1.4 -.8-.5 -1.3-.3 -1.3-.9 -1.7,.7 -.5-.5 -1.3-.4 -.6,.6 -1.4-1.4 -.5,.4 -1.4-.4 -1.6-1.3 -1.8,.2 -.6,.6 -1.2-.1 .7,.7 -3.1-1 -1.3-.7 -.5,1.3 -.2-1.7 -2.2,.6 -.3-.3 -1,.6 .5,.2 -1.4-1.9 0,1 -.9,1 .1-.2 -2-.3 .6,1.3 -1.7,0 -.1-.5 -.5,.1 -1.3-.4 -.2,2 -1.5,.7 -.7-.2 -.2,.5 -1.2,.3 0,.4 -.9,0 -.5,1.3 -2.6-.4 1,.3 -1.9-.7 -.2,1.4 .1-.7 -2.1-.4 -.9,.7 -.2,.9 -2.9-1.2 .3,.6 -1-1.3 -1.1,.6 -.2,.7 -.7-.6 -.8,0 -.5-.8 -1.3,.7 -.3-.9 .4-.7 1.1-.5 2.3,.7 .1-1.8 1.2,.9 1-.3 1.8-1.9 .8,1.1 .5-.9 .8-.2 -.3-1 .9-.3 .2-.9 .6-.4 .9-1.6 -.6-.6 3.4-.6 -.3-.3 1.3-1.9 .6,.2 1.1-1.1 -.1-1 2.8-.9 -.4-.9 1-.5 .7-1.3 -.1,.6 0-2.5 1.3,1.1 2.3-.1 -.7-.7 1.2-1.1 2,1.3 .2-1.4 1.6-.6 -.5-.9 2.3-.1 1.2,.7 .9-1 .8-.1 1.4-.6 2.5,.5 -1.3-.4 2.4-1.3 2.1,.4 -.5,1 .3-1 1.8,1.3 1.6,.6 .1-.3 .6-.2 1.3,.2 1.7-.5 1.5,.9 1.6-.4 -.7,1.9 1.9-1.4 -.7,.4 .4,1.8 1.4,.8 .7-.5 3.4,.2 .9,.8 -.8,1 .5,1.2 1.2,.4 1.3,1.3 .8-.2 .7,1.2 -.2,.4 2,1.7 .1,1.1 -.3,.3 .9,1.4 .2,1.1 .5,.2 -.3,1.1 .7,1.1 -.2,.6 1.2,3.6 -1.8-.1 -1.2-.4 -.3,.9 -.7-.5 -2-.3 -1,.4 -2.3-.5 .3-1 .5,0 -.1,.6 -1.2,.2 -1.6-1.4 -.6,2.3 -.4-1.6 -1.2-.1 -1-.7 -1,.8 -1.4-1.9 -.4,.6 -1.4-.3 -.6-1.4 .1,1.7 -1-1.6 -.4,1.1 -2.8-.3 -1.1-.8 -.4,1.6 -.6-1 -2,.4 1.1,.2 -1.8,.9 -2.6-1.2 .8-.4 -.5,1 -.9-1.3 -1.1,1 -.3,.1 -.7-.3 -.8-1.6 -.5,2 -.4-1.3 -1.8,0 0,.9 .3-1.1 -.9-1.4 -1.7,1.5 -.8-.9 -1.1,1.2 -.8-.5 -.3-.9 -1.4,1 0-.8 -1,.8 -.4-2.6 -2.2,1.2 -.8,1.4 -1.2-.2 .5,.6 -.9,1.3 -.4,.2 0-.4 -1.4,0 -.7,2.2 -1.4,.2 .3-.4 -1.1,.6 -1.1,.4 -1.9-.6 -.2,2 -1.2-.8 -.1-.3 -.1,.6 -1.4-.5 -.1,1.2 -1.7-.1 .1-1 -1.7,.2 .1-.3 -1.3,.1 -1.9-.7 1.7-1.9 1-.2 1.3-.9 1.2,1 .4-1.1 1,.3 .2,.8 .3-.8 1-.4 -1.7,.9 2.3-.5 .8,.4 2.1-.8 1.2-1 .3-.8 .5,.7 -.4,.8 2.2-.7 -.4-.4 1.3-1 1.3,.1 .9-1.3 -.8,.8 3.1-1.1 1.4,.5 -.3-1.5 2,0 .3,.2 2.1-.2 .4,2 1.3-.9 .8,.5 1,.2 -1.1-1.4 1.6,.9 2.9,.1 -.5-.9 1.4,.4 1.5-.7 1.7,.3 .5,1 1.7-1 .9,.1 -.6-.7 1.4-.1 1.2-.8 .5,1.2 1.5-1 1.2,.1 1.4,.6 -.4-.7 1.3-1.1 1.4,1.3 .3-1.3 2.3-.5 .2,.5 2.7-.4 .2,.6 .6-.3 .6,.3 .4,.7 1.7-.3 1.1,.6 -.8,1.1 .8,1.1 1.7-.6 1.3,.9 .2,.9 -.8-.7 1.2,1.1 .2,.9 .5,.9 1.2-.6 .6,1.3 .4,.5 .4-.3 -.6,.9 1,.8 .3,.7 -1.5-1.5 .3-2.1 -.6-.7 -.3,0 -.3-.6 .5-1.1 -.1-.6 -2.8-.2 -1.3-4.3 .5-.7 -2.4-.6 -.7,.1 .3-.6 -1.5-2.5 -.7-1.4 -1.1-.4 -.8-1.2 -1.4,1.3 -.7,0 -1.7,.6 -.4-1.3 -2.5,0 .7,.2 -1.8,.2 -.2,.3 -.9-.5 -1.2,.2 .7-.2 -1.8-1.2 -.1,1.1 -.7,.2 -.2-.2 -.1-.8 -1.4,.2 -1.4,.8 -1.4,.3 .2,.3 -1.7-.1 -.2,.6 -1.6,.1 -1.2-.7 -.5,.6 -2.1,.3 -.8,.4 -1.3-.6 .1,2.1 -3.4-1.5 -.6,1 -.2-.8 -1,.3 -.9,1.9 -.5-.8 -.8,1.5 -.4-.4 -2.9,1.4 -.8-.1 -.1,1.1 -1.5,0 -1.2-.6 .5,.7 -.9,.6 -.9,.2 -1.7,1.3 -.2-.8 -.8,1 -3.7,1.6 -.9,.7 -1.2,.1 .4,.1 -1.5,.9 -1.2,1.2 .3,.5 -.6,.8 -1.4,.5 -1.1,1.6" stroke="#ff0000" stroke-width="1.15"/>
<path d="M523.3,305.9l2.1-1.4 .1-.3 1.5-1 .8,.1 1.1-1.9 .6-.2 .6-.9 .6,.7 -.4-2.3 1.5-1.1 -.5-1.3 .7-.1 .1-1.6 -.4-.4 .2,.3 .6-1.3 -.1-1.5 .1-1.7 -.5-2 1.1-1.6 -.6-1.6 -1-.4 -.4-1.8 -.3,.6 -.3-2.2 -.6-.2 .4-.4 .2-1.1 -.5-.3 -.8-1.1 -.4-1.3 -.1-1.2 .6-.4 -.2-.4 .1-1 -.3-1.5 .6-1.1 -.7-.9 -.1,.4 .1-1.1 .7-.6 -.2-1.5 -.8-.8 -.2,0 -.9-1.2 .9-1 -1.8-.6 .5-.7 0-.6 -.1-1.8 -.4,0 .5-.5 -1-.7 -.6-1.8 .5-.4 -.2,.2 .6-1.8 -.6,.1 .6,.4 .5-1.5 -2.6-1.8 .7,.5 -1.6-4.3 -.3,.1 .6-.9 -1.9-2.5 .1,.9 0-.8 -.6-.7 1.1-2.3 .5-.5 -.6-.6 .7,1 .2-2.3 -.3-.3 .4-.8 -.4-.4 -.4,.1 -.5,1.5 -.4,.5 .3-.1 -.5,.5 -.5,0 .9,1.8 -.3-.1 .4,.7 .1-.3 .4,1.9 .8-.2 .3,.2 -.3,1.1 -1,.4 .8,2.2 .1-.5 .8,1.6 -.1,.7 -1.1,1.3 .5,1.2 2,.8 -3.2-.2 1.4,.5 .9,2.2 -2-.7 .3,2.9 -.1,.4 1.1,1.1 -1.1,.9 .4,1.5 1.1,.3 .3,1.7 1.2,2.9 .5-1.2 .3,1.2 -.4,1 0,1.4 -.6,2.5 -.4,.1 1.2,2.4 .4,.2 -.3,1.7 1.3,2 -.9,.4 .3,.1 .4,1.1 -.6-.2 .3,2.5 -.3,.5 -.1,.8 .2-.4 .6,.9 -.4,.5 0,2.7 1.6,1.3 -1.3-.5 .1,0 -.7,3.4 .3,1.3 -.8-.1 -.1,1.1 -1.3-.4 -.2,1.2 .7,1.5 .4,.3 -.3,.1 -.8,1.4 .7,.4 -.3,1 -.7,.1 -.9,1.1 -1.1,.6 1.4,.1 -.4,1.1 -.8,.8 0,1.4 .5,.2 -1-1.2 .5-.1 -.5-1.7 -.6,.1 -.4-.4 -.3-1.5 -2-.8 -1.6-5.4 .6-.2 -1-.4 .6-.1 .3-1.8 -.9-.9 -.9-1.8 -.9-.1 .8-2.4 -.8,1.1 .2-1.2 -.6-1.7 -1.3-.1 .7-.2 .4-2 -1.5-1 .5-.4 -.2-.1 .7-1.2 1.2-.7 -.1-1.2 1.5-1.2 -1.5-1.1 1.7,.6 -1-1.6 3.1-1.7 -1.3-.9 -.3-.5 1.4,.3 -.5-.7 .6-.7 .2-2.3 .3,.2 .4-2.9 .5-.3 -.7-.2 .6-1.3 .1-2.3 .4-.6 -.9-.1 .9-1.4 .1-1.3 -.5-.7 .3-.7 -.7-.5 1.3-2.7 -.7,.3 .8-.8 .1-.7 .9-1.6 -1-.9 .6,.2 -.4-2.4 -.9,.1 .1-.6 -.3-1 .4-.5 -.4-.3 -.1-.8 1.9-1.4 .2-.7 -2.2,0 .1-1.1 .9,.6 -.3-.5 1.2,.2 -.2-.8 .6-.2 .7-1.5 -.3,1.5 .1,.4 -.6,.7 .5,1 -1.5,.7 1.5-1.2 -.9,1.6 -1.3,1.4 -.9-.5 -.4,.7 .9,1.3 -.4,0 -.4,1 1.9,1.2 1.1,.4 .3,.8 -.1,1.4 .5,1.4 1.9,1.9 .1-.5 2.9,3.1 .3,2.8 .1-.2 -.6,1.7 1.4-.1 1.2,1.1 .7,.2 -.5,1.3 1.4,.8 .2,1.4 -.5,1 -.1-.6 -.3,1.4 2.3,.7 2,1.8 -1.7,.5 -.4,1.3 1.1,1.2 -.9,.7 1,1.4 -1.7,.5 1.5,2.5 -1.4,.1 .7,1.4 -.2,0 -1.1,.9 .3-.5 -.6,1.9 .1,.7 .8,.3 -.7,.8 .2,.1 -1.2,1.3 .3,1.5 1.1,2.1 -2.2-.4 .5-.2 -1,1.7 -.7,.1 .2,2.5 -.7-.3 -.6,1.6 .8,1.2 -.5-.1 -.6,1.9 -1.5-.1 1.8,.3 -1.9,3.5 -1,.1 -.5-.5 .1-.5 1,1.5 -1,.1 -.7,1.3 -.6,.3 -.7,1.1 -.4,.9 .3,.3 -1.1-1.4 -1.6-1.3 -1-.1 -.5-.7 -.7-1.7 -.5,.2 .4-1.7 .1-2 -.4,1.4 .3-2 -2-3.2 1.2-.4 1.2-1 -1.8-1.7 -.7-.1 .6-.8 1.1,0 -.8-2.3 .2,.6 -2-.8 -.1-1.6 -.7-1.5 1.2,0 -1-.7 -.1,.2 -.2-2.7 -.7,.5 .5-1.9 -.8-.3 -.4-1.3 0-.8 .5-.1 -.6-1.6 .4-.8 -1.3-.6 -.1-1 .3,.1 -.8-1.3 .4-.8 -.3-1.4 -.6,.6 1.8-2.3 -.5,.8 -1.3-2.8 -.7-2.3 1.6-.3 0-1.1 -.7-.4 .8-.2 .6-1.1 .2-1.8 1.7-.7 -1.2-1.4 2.4,.1 -.6-1 1.1-1.7 .6-1.6 .6,1.2 -.8-2.3 2.1-1.2 1-1 -.1-1.9 .6,.9 .4-2.1 -1.3,.1 .7-.5 .7-1.6 .4,.5 -.4-1.9 1.1-.5 .6-.1 .2,.7 1.3-.7 -.9-.2 1.2-.2 -.7-.6 .1,.1 .3-.3 -.3-1.2 -.8-.2 -1.4,0 -.9,.4 -.3,.9 -.5-.2 0,1.1 -.6,0 .5,.8 -2,2.2 .7,.1 -1.5-.5 -.6,2.2 1.7,.3 .2,.6 -.6,2.3 .4-.3 -.1,.9 .3,2.1 -.3,0 .9,1.4 -1.3,1.5 .5,.5 -.2,.5 1.1,1.7 -2,.9 .3,1.4 1,1.2 0,1.2 .6,.3 -.2,.9 .6,.7 -.5,.5 -.1,.9 .6,.2 -1.1,1.8 1.2,1.2 -.4,1.1 0-1.1 -.8,1.1 .3,2.1 .7,.7 -.6,2.3 .2,.8 -.6-.2 1.4,1.3 -.4-.2 0,1.1 -.8,2.2 .8,.6 .4,0 .6,1.7 .8-1.2 -.9,3.2 .2,.6 1.1,.8 -.4,2.6 0-.5 .1,2 .8,.2 -.4,.3 1.8,1.7 -1.3,2 .1,.7 -.8,.9 1,.8 .6,1.4 .8-1.4 -.2,3.1 -.9-.7 0,.9 .6,.2 -.7,1.4 .3,1.2 1.1,1.5 -.7,.3 -.2,.6 .5,.8 .3,.3 -.4-.9 .5-2.1 .4-1.5 .8-.2 -.3-.5 .5-.8 -.5,0 -.1-1.6 1.2,.4 -.2-1.1 -.1,0 1.6-1.9 -1.6-.9 .3-1.6 .8-.1 .1-2.8 -.6,.2 1.7-1.3 -.8-2 0,.2 -.6-.6 .7-1.2 -2.3-1.4 2.4-1 -2.8-.3 .6-1 -.5-2.3 1.4-.5 -2.2-1.2 1.4-.4 -.7-1.1 .8-.7 -.8-2.3 .2-.3 -.5-2 .4,.9 .7-.8 .3-.8 -.3-1.3 1.1-1.3 -.5,.3 0-1.6 .9-.2 -.5-2.4 .6-.3 .6,.7 -.3-1.6 -.9-.1 1-1.3 -.1,1 .8-1.7 -.6-.7 -.1-2.8 -.6,1.3 -.3-1.5 0,.4 .5-1 0-1.1 -.5-1.5 -1.3-.3 .7,0 .6-.4 -1.6-2 .8,.8 .1-1.6 -.7-2.4 .4-1.4 -.9-.4 .1-.8 -2.6-.9 1-.5 .7-.6 .4-.8 -.4,1 -.5-1.6 .7,.4 -.4-1.3 .3,.2 -.7-.8 .7-1.1 .3,.3 -.6,.3 -.3,0 -.1,.8 -.1-.3 .2,1.7 .8-.8 -1.3,2 .7-.1 -.2,.9 1,0 -.3,1.5 -.7-1.1 .5,2.3 2.1,1.2 -1.5-.4 1.1,.3 -1.5,1.1 1.8,.2 -1,1.3 -.5,1.8 .9,1.6 .7,0 -.2,1.3 -.3,.8 .3,.6 .2,2.1 .6,.3 .3-.5 -.1,2.3 .6,1.6 0-.7 -.1,.8 .6,1.3 1.2,1.5 -.5,.9 0,1.1 2.3,.6 -1.4,1.7 .2,.7 2.5,1.1 -1.1,1 2.1,1.3 -.8,.7 .6,1.9 -.2-.7 -.4,.9 .2,1.3 .3,.3 -.6,1.1 .5,1.2 -.5,1.1 .5,.8 -1.7,.6 .9,2.9 1.1-1.4 -.8,.5 -1.5,.4 .9,2.2 -1.1,.8 1.1,1.4 -.9,.3 -.6,1.9 .9,2.1 -1.8,.6 1.2,1 -1.7,.7 -.1,2.5 -1.4,0 0,.6 -.7,1.5 .6-.5 -1,1.4 .8,.3 -1.5,1.7 -1,.7 .2,.7 -.7,.7 -.1-.2 0,1 -.1-1.3 .7-.6 .9-.4 0-2.2 .5-.9 -.1,.5 .6-.9 .5-1.1 -.6-1.1 .7,.1 -.2-1.3 .6-.5 .1-3.5 -.2,.9 1.3-2.3 0-2.6 -1.1-.7 -1.4-.2 1.3-3.2 -1.8-1 .5-1 -1.6-.1 .5-2.7 -1.5,1.4 .4-1.8 -.5-.6 .2-1.5 -1-.2 0-.7 -.9-1.3 1.2-.7 -1.4-.9 -.3-.5 1.1-.9 -2.1-1.6 .3-1 -.6-.4 0-.8 -.4-1.8 -1.7-.1 -.5-2.7 1.1-.8 .5-.8 -1.7-.9 -.2-1 1.1-1.5 -.6-.3 -1.9-.3 1.3-1.6 -1.1-.8 -1.1,.6 .3-2.4 .4,0 -.6-.1 -1.4-1.7 .6-.1 .8-1.8 -.2-1 .1-1.4 .2-1.2 .3-.2 -.9-1.3 1,.5 -.5-1.1 .2-.4 -1.1-1.7 1,.4 .8-.9 -.4-.3 .8-1.8 1.5,1.1 1.2,.1 1.3-.2 .6-.3 0-.5 1.2-.8 2.1-.7" stroke="#000" stroke-width="0.75"/>
</g>
<circle cx="589.7" cy="305.4" r="2.4" fill="#0505f5"/>
<path d="M522.8,235.5 L523.6,237.7 L526.0,237.8 L524.1,239.3 L524.8,241.6 L522.8,240.3 L520.8,241.6 L521.4,239.3 L519.5,237.8 L522.0,237.7Z" fill="#0505f5"/>
<ellipse cx="523.2" cy="305.7" rx="4.4" ry="3.2" fill="none" stroke="#000" stroke-width="1.2"/>
<rect x="28.1" y="14.1" width="159.2" height="158.3" fill="none" stroke="#666" stroke-width="0.70"/>
<rect x="28.1" y="205.7" width="159.2" height="157.8" fill="none" stroke="#666" stroke-width="0.70"/>
<rect x="300.0" y="15.4" width="159.3" height="157.3" fill="none" stroke="#777" stroke-width="0.60"/>
<rect x="464.2" y="15.4" width="159.0" height="157.3" fill="none" stroke="#777" stroke-width="0.60"/>
<rect x="300.0" y="205.6" width="159.3" height="158.0" fill="none" stroke="#777" stroke-width="0.60"/>
<rect x="464.2" y="205.6" width="159.0" height="158.0" fill="none" stroke="#777" stroke-width="0.60"/>
<rect x="211.0" y="15.6" width="7.8" height="157.6" fill="url(#gr)"/>
<rect x="210.8" y="205.8" width="7.7" height="157.6" fill="url(#gbl)"/>
<rect x="651.4" y="132.3" width="7.5" height="149.4" fill="url(#gp)"/>
<text x="3.2" y="12.1" font-size="15.3" text-anchor="start" font-family="Liberation Serif, serif" font-weight="bold">a</text>
<text x="278.2" y="11.9" font-size="15.3" text-anchor="start" font-family="Liberation Serif, serif" font-weight="bold">b</text>
<text x="3.4" y="202.8" font-size="15.3" text-anchor="start" font-family="Liberation Serif, serif" font-weight="bold">c</text>
<text x="277.9" y="202.7" font-size="15.3" text-anchor="start" font-family="Liberation Serif, serif" font-weight="bold">d</text>
<line x1="26.1" y1="146.0" x2="28.1" y2="146.0" stroke="#444" stroke-width="0.5"/>
<text x="25.3" y="151.0" font-size="13.9" text-anchor="end" font-family="Liberation Serif, serif" >0</text>
<line x1="26.1" y1="93.2" x2="28.1" y2="93.2" stroke="#444" stroke-width="0.5"/>
<text x="25.3" y="98.2" font-size="13.9" text-anchor="end" font-family="Liberation Serif, serif" >2</text>
<line x1="26.1" y1="40.5" x2="28.1" y2="40.5" stroke="#444" stroke-width="0.5"/>
<text x="25.3" y="45.5" font-size="13.9" text-anchor="end" font-family="Liberation Serif, serif" >4</text>
<line x1="26.1" y1="337.2" x2="28.1" y2="337.2" stroke="#444" stroke-width="0.5"/>
<text x="25.3" y="342.2" font-size="13.9" text-anchor="end" font-family="Liberation Serif, serif" >0</text>
<line x1="54.6" y1="363.5" x2="54.6" y2="365.5" stroke="#444" stroke-width="0.5"/>
<text x="54.6" y="375.1" font-size="13.9" text-anchor="middle" font-family="Liberation Serif, serif" >0</text>
<line x1="26.1" y1="284.6" x2="28.1" y2="284.6" stroke="#444" stroke-width="0.5"/>
<text x="25.3" y="289.6" font-size="13.9" text-anchor="end" font-family="Liberation Serif, serif" >2</text>
<line x1="107.7" y1="363.5" x2="107.7" y2="365.5" stroke="#444" stroke-width="0.5"/>
<text x="107.7" y="375.1" font-size="13.9" text-anchor="middle" font-family="Liberation Serif, serif" >2</text>
<line x1="26.1" y1="232.0" x2="28.1" y2="232.0" stroke="#444" stroke-width="0.5"/>
<text x="25.3" y="237.0" font-size="13.9" text-anchor="end" font-family="Liberation Serif, serif" >4</text>
<line x1="160.8" y1="363.5" x2="160.8" y2="365.5" stroke="#444" stroke-width="0.5"/>
<text x="160.8" y="375.1" font-size="13.9" text-anchor="middle" font-family="Liberation Serif, serif" >4</text>
<line x1="298.0" y1="164.4" x2="300.0" y2="164.4" stroke="#444" stroke-width="0.5"/>
<text x="297.2" y="170.1" font-size="13.9" text-anchor="end" font-family="Liberation Serif, serif" >−3</text>
<line x1="298.0" y1="131.3" x2="300.0" y2="131.3" stroke="#444" stroke-width="0.5"/>
<text x="297.2" y="137.0" font-size="13.9" text-anchor="end" font-family="Liberation Serif, serif" >−1</text>
<line x1="298.0" y1="98.2" x2="300.0" y2="98.2" stroke="#444" stroke-width="0.5"/>
<text x="297.2" y="103.9" font-size="13.9" text-anchor="end" font-family="Liberation Serif, serif" >1</text>
<line x1="298.0" y1="65.1" x2="300.0" y2="65.1" stroke="#444" stroke-width="0.5"/>
<text x="297.2" y="70.8" font-size="13.9" text-anchor="end" font-family="Liberation Serif, serif" >3</text>
<line x1="298.0" y1="32.0" x2="300.0" y2="32.0" stroke="#444" stroke-width="0.5"/>
<text x="297.2" y="37.7" font-size="13.9" text-anchor="end" font-family="Liberation Serif, serif" >5</text>
<line x1="298.0" y1="355.3" x2="300.0" y2="355.3" stroke="#444" stroke-width="0.5"/>
<text x="297.2" y="361.0" font-size="13.9" text-anchor="end" font-family="Liberation Serif, serif" >−3</text>
<line x1="308.4" y1="363.6" x2="308.4" y2="365.6" stroke="#444" stroke-width="0.5"/>
<text x="308.4" y="375.2" font-size="13.9" text-anchor="middle" font-family="Liberation Serif, serif" >−3</text>
<line x1="298.0" y1="322.0" x2="300.0" y2="322.0" stroke="#444" stroke-width="0.5"/>
<text x="297.2" y="327.7" font-size="13.9" text-anchor="end" font-family="Liberation Serif, serif" >−1</text>
<line x1="341.9" y1="363.6" x2="341.9" y2="365.6" stroke="#444" stroke-width="0.5"/>
<text x="341.9" y="375.2" font-size="13.9" text-anchor="middle" font-family="Liberation Serif, serif" >−1</text>
<line x1="298.0" y1="288.8" x2="300.0" y2="288.8" stroke="#444" stroke-width="0.5"/>
<text x="297.2" y="294.5" font-size="13.9" text-anchor="end" font-family="Liberation Serif, serif" >1</text>
<line x1="375.5" y1="363.6" x2="375.5" y2="365.6" stroke="#444" stroke-width="0.5"/>
<text x="375.5" y="375.2" font-size="13.9" text-anchor="middle" font-family="Liberation Serif, serif" >1</text>
<line x1="298.0" y1="255.5" x2="300.0" y2="255.5" stroke="#444" stroke-width="0.5"/>
<text x="297.2" y="261.2" font-size="13.9" text-anchor="end" font-family="Liberation Serif, serif" >3</text>
<line x1="409.0" y1="363.6" x2="409.0" y2="365.6" stroke="#444" stroke-width="0.5"/>
<text x="409.0" y="375.2" font-size="13.9" text-anchor="middle" font-family="Liberation Serif, serif" >3</text>
<line x1="298.0" y1="222.2" x2="300.0" y2="222.2" stroke="#444" stroke-width="0.5"/>
<text x="297.2" y="227.9" font-size="13.9" text-anchor="end" font-family="Liberation Serif, serif" >5</text>
<line x1="442.5" y1="363.6" x2="442.5" y2="365.6" stroke="#444" stroke-width="0.5"/>
<text x="442.5" y="375.2" font-size="13.9" text-anchor="middle" font-family="Liberation Serif, serif" >5</text>
<line x1="472.6" y1="363.6" x2="472.6" y2="365.6" stroke="#444" stroke-width="0.5"/>
<text x="472.6" y="375.2" font-size="13.9" text-anchor="middle" font-family="Liberation Serif, serif" >−3</text>
<line x1="506.0" y1="363.6" x2="506.0" y2="365.6" stroke="#444" stroke-width="0.5"/>
<text x="506.0" y="375.2" font-size="13.9" text-anchor="middle" font-family="Liberation Serif, serif" >−1</text>
<line x1="539.5" y1="363.6" x2="539.5" y2="365.6" stroke="#444" stroke-width="0.5"/>
<text x="539.5" y="375.2" font-size="13.9" text-anchor="middle" font-family="Liberation Serif, serif" >1</text>
<line x1="573.0" y1="363.6" x2="573.0" y2="365.6" stroke="#444" stroke-width="0.5"/>
<text x="573.0" y="375.2" font-size="13.9" text-anchor="middle" font-family="Liberation Serif, serif" >3</text>
<line x1="606.5" y1="363.6" x2="606.5" y2="365.6" stroke="#444" stroke-width="0.5"/>
<text x="606.5" y="375.2" font-size="13.9" text-anchor="middle" font-family="Liberation Serif, serif" >5</text>
<g transform="translate(12.6,93.0) rotate(-90)">
<text x="-11.6" y="0.0" font-size="15.2" font-family="Liberation Serif, serif" font-style="italic" >y</text>
<text x="-4.8" y="2.2" font-size="19.5" font-family="Liberation Serif, serif" font-style="italic" >/</text>
<text x="3.0" y="0.0" font-size="15.2" font-family="Liberation Serif, serif" font-style="italic" >L</text>
</g>
<g transform="translate(12.6,284.4) rotate(-90)">
<text x="-11.6" y="0.0" font-size="15.2" font-family="Liberation Serif, serif" font-style="italic" >y</text>
<text x="-4.8" y="2.2" font-size="19.5" font-family="Liberation Serif, serif" font-style="italic" >/</text>
<text x="3.0" y="0.0" font-size="15.2" font-family="Liberation Serif, serif" font-style="italic" >L</text>
</g>
<g transform="translate(284.3,93.4) rotate(-90)">
<text x="-11.6" y="0.0" font-size="15.2" font-family="Liberation Serif, serif" font-style="italic" >y</text>
<text x="-4.8" y="2.2" font-size="19.5" font-family="Liberation Serif, serif" font-style="italic" >/</text>
<text x="3.0" y="0.0" font-size="15.2" font-family="Liberation Serif, serif" font-style="italic" >L</text>
</g>
<g transform="translate(284.3,284.2) rotate(-90)">
<text x="-11.6" y="0.0" font-size="15.2" font-family="Liberation Serif, serif" font-style="italic" >y</text>
<text x="-4.8" y="2.2" font-size="19.5" font-family="Liberation Serif, serif" font-style="italic" >/</text>
<text x="3.0" y="0.0" font-size="15.2" font-family="Liberation Serif, serif" font-style="italic" >L</text>
</g>
<text x="95.5" y="389.5" font-size="15.6" font-family="Liberation Serif, serif" font-style="italic" >x</text>
<text x="103.3" y="391.7" font-size="19.5" font-family="Liberation Serif, serif" font-style="italic" >/</text>
<text x="111.1" y="389.5" font-size="15.2" font-family="Liberation Serif, serif" font-style="italic" >L</text>
<text x="366.7" y="389.5" font-size="15.6" font-family="Liberation Serif, serif" font-style="italic" >x</text>
<text x="374.5" y="391.7" font-size="19.5" font-family="Liberation Serif, serif" font-style="italic" >/</text>
<text x="382.3" y="389.5" font-size="15.2" font-family="Liberation Serif, serif" font-style="italic" >L</text>
<text x="530.9" y="389.5" font-size="15.6" font-family="Liberation Serif, serif" font-style="italic" >x</text>
<text x="538.7" y="391.7" font-size="19.5" font-family="Liberation Serif, serif" font-style="italic" >/</text>
<text x="546.5" y="389.5" font-size="15.2" font-family="Liberation Serif, serif" font-style="italic" >L</text>
<line x1="218.8" y1="15.9" x2="220.8" y2="15.9" stroke="#444" stroke-width="0.5"/>
<text x="222.3" y="22.6" font-size="13.9" text-anchor="start" font-family="Liberation Serif, serif" >10000</text>
<line x1="218.8" y1="94.4" x2="220.8" y2="94.4" stroke="#444" stroke-width="0.5"/>
<text x="222.3" y="99.2" font-size="13.9" text-anchor="start" font-family="Liberation Serif, serif" >5000</text>
<line x1="218.8" y1="172.9" x2="220.8" y2="172.9" stroke="#444" stroke-width="0.5"/>
<text x="222.3" y="177.6" font-size="13.9" text-anchor="start" font-family="Liberation Serif, serif" >0</text>
<line x1="218.5" y1="206.0" x2="220.5" y2="206.0" stroke="#444" stroke-width="0.5"/>
<text x="222.0" y="211.2" font-size="13.9" text-anchor="start" font-family="Liberation Serif, serif" >10</text>
<line x1="218.5" y1="286.6" x2="220.5" y2="286.6" stroke="#444" stroke-width="0.5"/>
<text x="222.0" y="288.2" font-size="13.9" text-anchor="start" font-family="Liberation Serif, serif" >5</text>
<line x1="218.5" y1="363.1" x2="220.5" y2="363.1" stroke="#444" stroke-width="0.5"/>
<text x="222.0" y="367.6" font-size="13.9" text-anchor="start" font-family="Liberation Serif, serif" >0.1</text>
<line x1="658.9" y1="147.9" x2="660.9" y2="147.9" stroke="#444" stroke-width="0.5"/>
<text x="662.3" y="152.6" font-size="13.9" text-anchor="start" font-family="Liberation Serif, serif" >4</text>
<line x1="658.9" y1="207.6" x2="660.9" y2="207.6" stroke="#444" stroke-width="0.5"/>
<text x="662.3" y="212.3" font-size="13.9" text-anchor="start" font-family="Liberation Serif, serif" >0</text>
<line x1="658.9" y1="267.3" x2="660.9" y2="267.3" stroke="#444" stroke-width="0.5"/>
<text x="662.3" y="272.0" font-size="13.9" text-anchor="start" font-family="Liberation Serif, serif" >−4</text>
<text x="204.9" y="12.9" font-size="13.9" font-family="Liberation Serif, serif"  >Ω</text>
<text x="217.2" y="12.9" font-size="13.9" font-family="Liberation Serif, serif" font-style="italic" >t</text>
<path d="M208.5,1.7 L210.3,-0.3 L212.1,1.7" fill="none" stroke="#111" stroke-width="0.8"/>
<text x="191.8" y="198.6" font-size="12.0" font-family="Liberation Serif, serif"  >4</text>
<text x="198.2" y="198.6" font-size="12.0" font-family="Liberation Serif, serif"  >π</text>
<text x="206.2" y="198.6" font-size="12.0" font-family="Liberation Serif, serif" font-style="italic" >L</text>
<text x="213.8" y="198.6" font-size="12.0" font-family="Liberation Serif, serif" font-style="italic" >C</text>
<text x="224.4" y="200.8" font-size="16.0" font-family="Liberation Serif, serif" font-style="italic" >/</text>
<text x="230.6" y="198.6" font-size="12.0" font-family="Liberation Serif, serif" font-style="italic" >Q</text>
<text x="627.9" y="129.5" font-size="12.0" font-family="Liberation Serif, serif"  >4</text>
<text x="634.3" y="129.5" font-size="12.0" font-family="Liberation Serif, serif"  >π</text>
<text x="642.3" y="129.5" font-size="12.0" font-family="Liberation Serif, serif" font-style="italic" >L</text>
<text x="650.1" y="129.5" font-size="12.4" font-family="Liberation Serif, serif"  textLength="9.0" lengthAdjust="spacingAndGlyphs">Δ</text>
<text x="659.5" y="129.5" font-size="12.0" font-family="Liberation Serif, serif" font-style="italic" >C</text>
<text x="670.1" y="131.7" font-size="16.0" font-family="Liberation Serif, serif" font-style="italic" >/</text>
<text x="676.3" y="129.5" font-size="12.0" font-family="Liberation Serif, serif" font-style="italic" >Q</text>
<text x="350.7" y="10.3" font-size="12.0" font-family="Liberation Serif, serif" font-style="italic" >Q</text>
<text x="360.6" y="12.4" font-size="8.6" font-family="Liberation Serif, serif"  >d</text>
<text x="370.0" y="10.6" font-size="13.0" font-family="Liberation Serif, serif"  textLength="8.6" lengthAdjust="spacingAndGlyphs">=</text>
<text x="382.8" y="10.3" font-size="11.2" font-family="Liberation Serif, serif"  >0.2</text>
<text x="398.6" y="10.3" font-size="12.0" font-family="Liberation Serif, serif" font-style="italic" >Q</text>
<text x="514.9" y="10.3" font-size="12.0" font-family="Liberation Serif, serif" font-style="italic" >Q</text>
<text x="524.8" y="12.4" font-size="8.6" font-family="Liberation Serif, serif"  >d</text>
<text x="534.2" y="10.6" font-size="13.0" font-family="Liberation Serif, serif"  textLength="8.6" lengthAdjust="spacingAndGlyphs">=</text>
<text x="547.0" y="10.3" font-size="11.2" font-family="Liberation Serif, serif"  >0.6</text>
<text x="562.8" y="10.3" font-size="12.0" font-family="Liberation Serif, serif" font-style="italic" >Q</text>
<text x="350.7" y="197.9" font-size="12.0" font-family="Liberation Serif, serif" font-style="italic" >Q</text>
<text x="360.6" y="200.0" font-size="8.6" font-family="Liberation Serif, serif"  >d</text>
<text x="370.0" y="198.2" font-size="13.0" font-family="Liberation Serif, serif"  textLength="8.6" lengthAdjust="spacingAndGlyphs">=</text>
<text x="382.8" y="197.9" font-size="11.2" font-family="Liberation Serif, serif"  >0.6</text>
<text x="398.6" y="197.9" font-size="12.0" font-family="Liberation Serif, serif" font-style="italic" >Q</text>
<text x="514.9" y="197.9" font-size="12.0" font-family="Liberation Serif, serif" font-style="italic" >Q</text>
<text x="524.8" y="200.0" font-size="8.6" font-family="Liberation Serif, serif"  >d</text>
<text x="534.2" y="198.2" font-size="13.0" font-family="Liberation Serif, serif"  textLength="8.6" lengthAdjust="spacingAndGlyphs">=</text>
<text x="547.0" y="197.9" font-size="11.2" font-family="Liberation Serif, serif"  >0.8</text>
<text x="562.8" y="197.9" font-size="12.0" font-family="Liberation Serif, serif" font-style="italic" >Q</text>
</svg>
</body></html>
